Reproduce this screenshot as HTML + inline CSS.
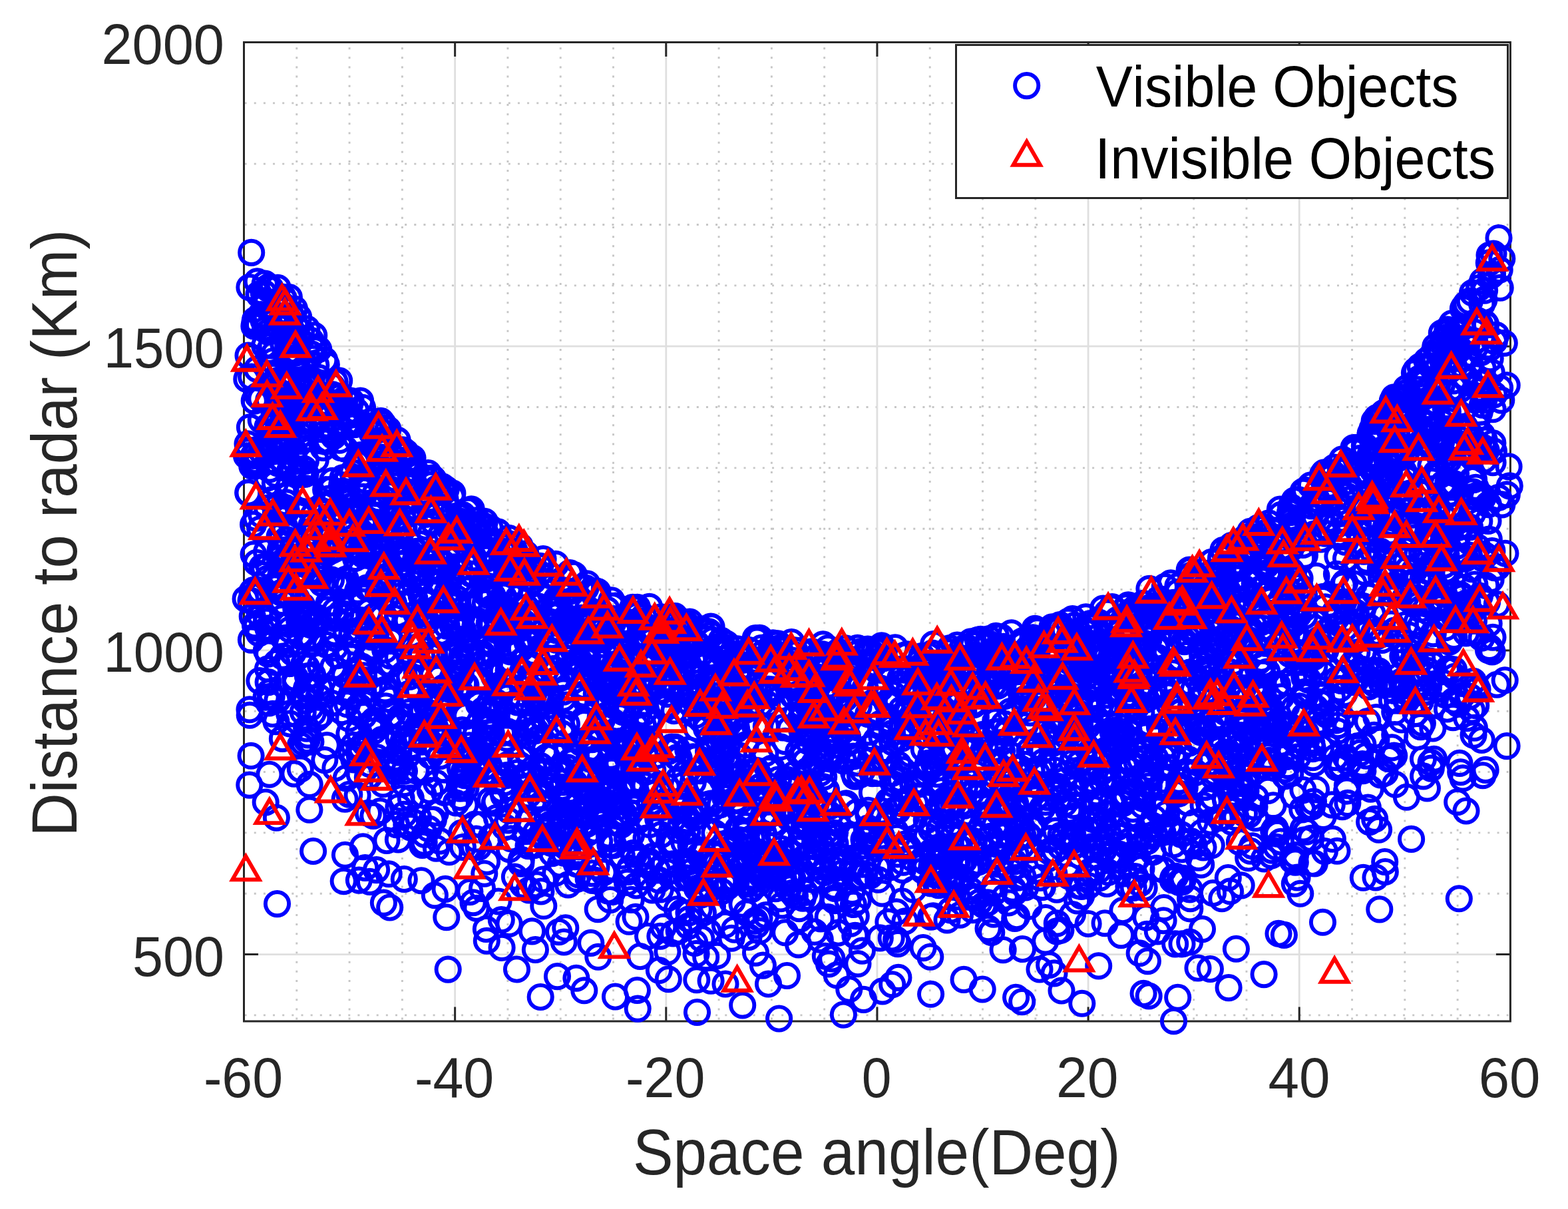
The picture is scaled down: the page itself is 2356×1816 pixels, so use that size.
<!DOCTYPE html>
<html><head><meta charset="utf-8"><title>Scatter</title>
<style>html,body{margin:0;padding:0;background:#fff;overflow:hidden}text{font-kerning:none}svg{display:block}
.b circle{r:17.6px}</style></head>
<body><svg width="2356" height="1816" viewBox="0 0 2356 1816">
<rect width="2356" height="1816" fill="#fff"/>
<path d="M445.79 1534.0V63.5M525.08 1534.0V63.5M604.36 1534.0V63.5M762.94 1534.0V63.5M842.23 1534.0V63.5M921.51 1534.0V63.5M1080.09 1534.0V63.5M1159.38 1534.0V63.5M1238.66 1534.0V63.5M1397.24 1534.0V63.5M1476.53 1534.0V63.5M1555.81 1534.0V63.5M1714.39 1534.0V63.5M1793.67 1534.0V63.5M1872.96 1534.0V63.5M2031.54 1534.0V63.5M2110.82 1534.0V63.5M2190.11 1534.0V63.5" stroke="#c6c6c6" stroke-width="2.9" stroke-dasharray="3 11.15" stroke-dashoffset="-2.4" fill="none"/>
<path d="M366.50 1524.90H2269.40M366.50 1342.23H2269.40M366.50 1250.89H2269.40M366.50 1159.55H2269.40M366.50 1068.21H2269.40M366.50 885.54H2269.40M366.50 794.20H2269.40M366.50 702.86H2269.40M366.50 611.53H2269.40M366.50 428.85H2269.40M366.50 337.51H2269.40M366.50 246.17H2269.40M366.50 154.84H2269.40" stroke="#c6c6c6" stroke-width="2.9" stroke-dasharray="3 11.15" stroke-dashoffset="-1.1" fill="none"/>
<path d="M683.65 1534.0V63.5M1000.80 1534.0V63.5M1317.95 1534.0V63.5M1635.10 1534.0V63.5M1952.25 1534.0V63.5M366.50 1433.56H2269.40M366.50 976.88H2269.40M366.50 520.19H2269.40" stroke="#dfdfdf" stroke-width="2.8" fill="none"/>
<path d="M366.5 63.5H2269.4V1534.0H366.5ZM683.65 1534.0v-20M683.65 63.5v20M1000.80 1534.0v-20M1000.80 63.5v20M1317.95 1534.0v-20M1317.95 63.5v20M1635.10 1534.0v-20M1635.10 63.5v20M1952.25 1534.0v-20M1952.25 63.5v20M366.5 1433.56h20M2269.4 1433.56h-20M366.5 976.88h20M2269.4 976.88h-20M366.5 520.19h20M2269.4 520.19h-20" stroke="#262626" stroke-width="3" fill="none" stroke-linecap="square"/>
<g class="b" fill="none" stroke="#0000ff" stroke-width="5.9"><circle cx="2171.7" cy="942.8" r="17.6"/><circle cx="959.9" cy="1059.0" r="17.6"/><circle cx="418.9" cy="757.8" r="17.6"/><circle cx="1800.4" cy="1095.1" r="17.6"/><circle cx="1133.6" cy="1320.9" r="17.6"/><circle cx="893.4" cy="988.4" r="17.6"/><circle cx="1844.5" cy="887.3" r="17.6"/><circle cx="1372.4" cy="1336.0" r="17.6"/><circle cx="1586.9" cy="1076.8" r="17.6"/><circle cx="521.7" cy="1057.8" r="17.6"/><circle cx="902.9" cy="1025.9" r="17.6"/><circle cx="1488.3" cy="1225.6" r="17.6"/><circle cx="1828.9" cy="1111.0" r="17.6"/><circle cx="1080.4" cy="1233.3" r="17.6"/><circle cx="1090.4" cy="977.8" r="17.6"/><circle cx="2016.9" cy="1211.8" r="17.6"/><circle cx="1631.9" cy="949.8" r="17.6"/><circle cx="1482.6" cy="970.2" r="17.6"/><circle cx="1748.9" cy="917.4" r="17.6"/><circle cx="1066.2" cy="989.5" r="17.6"/><circle cx="575.3" cy="883.2" r="17.6"/><circle cx="753.2" cy="920.8" r="17.6"/><circle cx="1840.6" cy="1069.8" r="17.6"/><circle cx="1811.3" cy="906.0" r="17.6"/><circle cx="1318.6" cy="1265.7" r="17.6"/><circle cx="513.2" cy="766.0" r="17.6"/><circle cx="1366.7" cy="1031.9" r="17.6"/><circle cx="723.9" cy="987.9" r="17.6"/><circle cx="2215.4" cy="1093.3" r="17.6"/><circle cx="865.3" cy="931.1" r="17.6"/><circle cx="416.9" cy="1051.7" r="17.6"/><circle cx="1518.0" cy="1068.5" r="17.6"/><circle cx="1856.0" cy="1109.6" r="17.6"/><circle cx="1452.2" cy="1129.0" r="17.6"/><circle cx="1731.6" cy="910.3" r="17.6"/><circle cx="1882.2" cy="1098.9" r="17.6"/><circle cx="431.3" cy="573.3" r="17.6"/><circle cx="404.2" cy="1055.9" r="17.6"/><circle cx="1938.7" cy="1162.3" r="17.6"/><circle cx="543.5" cy="1000.7" r="17.6"/><circle cx="1642.0" cy="1230.4" r="17.6"/><circle cx="1427.2" cy="973.6" r="17.6"/><circle cx="1546.9" cy="1127.3" r="17.6"/><circle cx="1463.3" cy="1265.5" r="17.6"/><circle cx="704.9" cy="1139.0" r="17.6"/><circle cx="772.1" cy="932.6" r="17.6"/><circle cx="754.5" cy="1187.0" r="17.6"/><circle cx="1100.7" cy="1153.5" r="17.6"/><circle cx="2245.5" cy="852.8" r="17.6"/><circle cx="937.0" cy="1222.0" r="17.6"/><circle cx="690.4" cy="1000.8" r="17.6"/><circle cx="439.8" cy="980.2" r="17.6"/><circle cx="541.0" cy="1005.5" r="17.6"/><circle cx="2253.6" cy="582.7" r="17.6"/><circle cx="1748.8" cy="1363.6" r="17.6"/><circle cx="1203.7" cy="1135.8" r="17.6"/><circle cx="953.2" cy="1204.8" r="17.6"/><circle cx="862.6" cy="863.5" r="17.6"/><circle cx="2108.7" cy="707.6" r="17.6"/><circle cx="1053.8" cy="1081.3" r="17.6"/><circle cx="1117.1" cy="1302.2" r="17.6"/><circle cx="1894.3" cy="819.0" r="17.6"/><circle cx="2090.2" cy="937.5" r="17.6"/><circle cx="2063.3" cy="829.4" r="17.6"/><circle cx="870.6" cy="1202.3" r="17.6"/><circle cx="1378.9" cy="1010.5" r="17.6"/><circle cx="761.3" cy="1108.8" r="17.6"/><circle cx="2135.5" cy="571.7" r="17.6"/><circle cx="686.2" cy="978.0" r="17.6"/><circle cx="526.4" cy="932.3" r="17.6"/><circle cx="1752.9" cy="933.9" r="17.6"/><circle cx="2082.8" cy="746.6" r="17.6"/><circle cx="1727.0" cy="1095.0" r="17.6"/><circle cx="1652.1" cy="1318.6" r="17.6"/><circle cx="508.1" cy="878.9" r="17.6"/><circle cx="537.6" cy="887.2" r="17.6"/><circle cx="1747.1" cy="1136.8" r="17.6"/><circle cx="1050.9" cy="1045.7" r="17.6"/><circle cx="1398.6" cy="1377.3" r="17.6"/><circle cx="1759.5" cy="999.2" r="17.6"/><circle cx="883.9" cy="929.5" r="17.6"/><circle cx="2244.0" cy="381.0" r="17.6"/><circle cx="1678.3" cy="1170.6" r="17.6"/><circle cx="524.0" cy="605.4" r="17.6"/><circle cx="2145.8" cy="612.9" r="17.6"/><circle cx="438.1" cy="612.1" r="17.6"/><circle cx="1189.8" cy="1214.5" r="17.6"/><circle cx="746.3" cy="947.0" r="17.6"/><circle cx="1525.9" cy="1207.4" r="17.6"/><circle cx="552.8" cy="787.8" r="17.6"/><circle cx="2062.2" cy="922.1" r="17.6"/><circle cx="1902.2" cy="799.7" r="17.6"/><circle cx="675.2" cy="793.9" r="17.6"/><circle cx="830.3" cy="1087.7" r="17.6"/><circle cx="916.4" cy="1038.9" r="17.6"/><circle cx="1956.7" cy="1215.9" r="17.6"/><circle cx="1189.7" cy="1262.0" r="17.6"/><circle cx="433.7" cy="527.2" r="17.6"/><circle cx="434.9" cy="996.6" r="17.6"/><circle cx="932.6" cy="1187.7" r="17.6"/><circle cx="686.3" cy="1128.5" r="17.6"/><circle cx="509.2" cy="813.3" r="17.6"/><circle cx="1890.5" cy="792.7" r="17.6"/><circle cx="1014.0" cy="925.5" r="17.6"/><circle cx="576.9" cy="867.0" r="17.6"/><circle cx="575.4" cy="886.3" r="17.6"/><circle cx="734.9" cy="1092.6" r="17.6"/><circle cx="663.7" cy="857.3" r="17.6"/><circle cx="988.7" cy="1230.3" r="17.6"/><circle cx="1102.6" cy="1296.3" r="17.6"/><circle cx="1121.6" cy="1371.3" r="17.6"/><circle cx="573.9" cy="927.3" r="17.6"/><circle cx="2166.5" cy="576.7" r="17.6"/><circle cx="513.6" cy="728.5" r="17.6"/><circle cx="1015.8" cy="980.3" r="17.6"/><circle cx="1519.4" cy="1167.5" r="17.6"/><circle cx="1988.4" cy="896.4" r="17.6"/><circle cx="1065.9" cy="1048.5" r="17.6"/><circle cx="2130.9" cy="699.1" r="17.6"/><circle cx="1499.3" cy="1030.3" r="17.6"/><circle cx="1619.7" cy="1112.8" r="17.6"/><circle cx="2007.1" cy="746.8" r="17.6"/><circle cx="2239.2" cy="538.6" r="17.6"/><circle cx="2042.9" cy="1013.7" r="17.6"/><circle cx="1247.7" cy="1109.3" r="17.6"/><circle cx="1863.1" cy="958.9" r="17.6"/><circle cx="614.1" cy="753.3" r="17.6"/><circle cx="1498.9" cy="982.7" r="17.6"/><circle cx="1463.7" cy="1124.8" r="17.6"/><circle cx="2051.3" cy="714.1" r="17.6"/><circle cx="947.5" cy="935.0" r="17.6"/><circle cx="1029.1" cy="960.8" r="17.6"/><circle cx="627.8" cy="1090.8" r="17.6"/><circle cx="909.0" cy="1057.0" r="17.6"/><circle cx="2182.8" cy="740.7" r="17.6"/><circle cx="1942.0" cy="920.7" r="17.6"/><circle cx="2175.9" cy="856.3" r="17.6"/><circle cx="846.3" cy="1049.0" r="17.6"/><circle cx="1426.3" cy="979.4" r="17.6"/><circle cx="1829.2" cy="896.9" r="17.6"/><circle cx="1404.0" cy="1047.9" r="17.6"/><circle cx="1664.3" cy="1044.2" r="17.6"/><circle cx="812.7" cy="1048.1" r="17.6"/><circle cx="1650.3" cy="969.8" r="17.6"/><circle cx="466.7" cy="925.0" r="17.6"/><circle cx="2268.3" cy="729.9" r="17.6"/><circle cx="1120.3" cy="1118.7" r="17.6"/><circle cx="673.8" cy="906.4" r="17.6"/><circle cx="1053.9" cy="981.1" r="17.6"/><circle cx="1996.7" cy="728.6" r="17.6"/><circle cx="761.9" cy="966.2" r="17.6"/><circle cx="1242.1" cy="1048.2" r="17.6"/><circle cx="1100.9" cy="1191.2" r="17.6"/><circle cx="1940.3" cy="857.9" r="17.6"/><circle cx="2180.2" cy="958.5" r="17.6"/><circle cx="1526.8" cy="1179.4" r="17.6"/><circle cx="1282.8" cy="1160.4" r="17.6"/><circle cx="1422.0" cy="1055.0" r="17.6"/><circle cx="2191.5" cy="792.2" r="17.6"/><circle cx="1938.3" cy="982.8" r="17.6"/><circle cx="940.6" cy="956.2" r="17.6"/><circle cx="764.9" cy="1217.5" r="17.6"/><circle cx="1287.4" cy="1220.1" r="17.6"/><circle cx="1650.3" cy="969.1" r="17.6"/><circle cx="464.7" cy="800.1" r="17.6"/><circle cx="1092.9" cy="996.4" r="17.6"/><circle cx="646.7" cy="924.2" r="17.6"/><circle cx="735.1" cy="860.7" r="17.6"/><circle cx="525.4" cy="621.8" r="17.6"/><circle cx="1284.8" cy="1405.2" r="17.6"/><circle cx="541.6" cy="1024.5" r="17.6"/><circle cx="1580.2" cy="1065.5" r="17.6"/><circle cx="800.3" cy="1120.4" r="17.6"/><circle cx="405.1" cy="526.2" r="17.6"/><circle cx="2167.4" cy="635.2" r="17.6"/><circle cx="1665.5" cy="1310.3" r="17.6"/><circle cx="1862.8" cy="914.7" r="17.6"/><circle cx="506.2" cy="595.0" r="17.6"/><circle cx="1358.2" cy="1074.2" r="17.6"/><circle cx="533.9" cy="826.5" r="17.6"/><circle cx="1426.3" cy="1051.3" r="17.6"/><circle cx="633.1" cy="894.7" r="17.6"/><circle cx="1038.0" cy="1270.2" r="17.6"/><circle cx="1666.2" cy="1175.0" r="17.6"/><circle cx="1499.7" cy="1015.3" r="17.6"/><circle cx="1798.7" cy="881.6" r="17.6"/><circle cx="1084.0" cy="1339.0" r="17.6"/><circle cx="2195.5" cy="836.3" r="17.6"/><circle cx="693.9" cy="925.5" r="17.6"/><circle cx="1107.6" cy="1032.1" r="17.6"/><circle cx="370.8" cy="569.4" r="17.6"/><circle cx="2030.9" cy="749.4" r="17.6"/><circle cx="1415.7" cy="1136.3" r="17.6"/><circle cx="501.6" cy="649.2" r="17.6"/><circle cx="2090.7" cy="683.8" r="17.6"/><circle cx="1737.1" cy="973.9" r="17.6"/><circle cx="801.5" cy="943.7" r="17.6"/><circle cx="816.1" cy="839.6" r="17.6"/><circle cx="1605.8" cy="1216.9" r="17.6"/><circle cx="565.0" cy="823.3" r="17.6"/><circle cx="963.1" cy="1115.1" r="17.6"/><circle cx="1241.4" cy="1046.9" r="17.6"/><circle cx="424.0" cy="928.5" r="17.6"/><circle cx="931.7" cy="1211.8" r="17.6"/><circle cx="2037.9" cy="1021.1" r="17.6"/><circle cx="1599.0" cy="1258.4" r="17.6"/><circle cx="568.3" cy="891.7" r="17.6"/><circle cx="755.4" cy="916.7" r="17.6"/><circle cx="2170.6" cy="823.9" r="17.6"/><circle cx="839.4" cy="906.9" r="17.6"/><circle cx="794.8" cy="1337.0" r="17.6"/><circle cx="1991.3" cy="790.6" r="17.6"/><circle cx="998.4" cy="1297.1" r="17.6"/><circle cx="669.0" cy="1089.0" r="17.6"/><circle cx="401.5" cy="869.4" r="17.6"/><circle cx="556.2" cy="834.2" r="17.6"/><circle cx="730.1" cy="890.7" r="17.6"/><circle cx="1932.9" cy="1060.7" r="17.6"/><circle cx="1150.2" cy="1186.8" r="17.6"/><circle cx="1859.3" cy="881.3" r="17.6"/><circle cx="1447.8" cy="1117.8" r="17.6"/><circle cx="2095.5" cy="947.1" r="17.6"/><circle cx="2103.7" cy="960.6" r="17.6"/><circle cx="1727.4" cy="915.3" r="17.6"/><circle cx="458.6" cy="918.9" r="17.6"/><circle cx="607.0" cy="1012.3" r="17.6"/><circle cx="467.9" cy="789.6" r="17.6"/><circle cx="1671.7" cy="1280.6" r="17.6"/><circle cx="811.1" cy="1197.1" r="17.6"/><circle cx="1744.0" cy="1214.7" r="17.6"/><circle cx="903.1" cy="936.5" r="17.6"/><circle cx="2192.5" cy="666.5" r="17.6"/><circle cx="640.1" cy="905.1" r="17.6"/><circle cx="2222.3" cy="742.5" r="17.6"/><circle cx="595.1" cy="719.4" r="17.6"/><circle cx="1510.5" cy="1183.2" r="17.6"/><circle cx="1151.3" cy="1091.1" r="17.6"/><circle cx="654.5" cy="855.1" r="17.6"/><circle cx="698.3" cy="1164.7" r="17.6"/><circle cx="490.4" cy="547.7" r="17.6"/><circle cx="1236.0" cy="982.8" r="17.6"/><circle cx="2155.2" cy="653.7" r="17.6"/><circle cx="1969.9" cy="1259.3" r="17.6"/><circle cx="980.5" cy="1120.1" r="17.6"/><circle cx="1675.6" cy="982.0" r="17.6"/><circle cx="1470.1" cy="976.2" r="17.6"/><circle cx="414.2" cy="770.9" r="17.6"/><circle cx="791.2" cy="1181.0" r="17.6"/><circle cx="617.7" cy="1104.8" r="17.6"/><circle cx="1620.2" cy="949.9" r="17.6"/><circle cx="816.8" cy="1257.1" r="17.6"/><circle cx="1907.9" cy="1062.5" r="17.6"/><circle cx="1372.1" cy="1010.7" r="17.6"/><circle cx="384.3" cy="691.3" r="17.6"/><circle cx="993.2" cy="1253.9" r="17.6"/><circle cx="891.6" cy="1225.8" r="17.6"/><circle cx="1639.2" cy="1159.0" r="17.6"/><circle cx="1075.2" cy="1072.2" r="17.6"/><circle cx="1345.2" cy="1248.5" r="17.6"/><circle cx="2177.8" cy="964.1" r="17.6"/><circle cx="1917.0" cy="1094.2" r="17.6"/><circle cx="1368.2" cy="1132.7" r="17.6"/><circle cx="2107.8" cy="985.4" r="17.6"/><circle cx="651.3" cy="784.1" r="17.6"/><circle cx="1798.2" cy="907.8" r="17.6"/><circle cx="1434.0" cy="1124.3" r="17.6"/><circle cx="1618.6" cy="1352.9" r="17.6"/><circle cx="601.2" cy="813.2" r="17.6"/><circle cx="842.2" cy="1223.6" r="17.6"/><circle cx="1047.2" cy="1334.2" r="17.6"/><circle cx="1481.3" cy="1243.7" r="17.6"/><circle cx="852.7" cy="1152.9" r="17.6"/><circle cx="1340.6" cy="1056.7" r="17.6"/><circle cx="1232.8" cy="1129.9" r="17.6"/><circle cx="1448.5" cy="1293.0" r="17.6"/><circle cx="1108.4" cy="974.8" r="17.6"/><circle cx="1084.6" cy="1096.1" r="17.6"/><circle cx="1304.6" cy="1072.6" r="17.6"/><circle cx="1228.7" cy="1250.3" r="17.6"/><circle cx="1883.4" cy="938.5" r="17.6"/><circle cx="2184.6" cy="582.0" r="17.6"/><circle cx="1913.1" cy="1209.7" r="17.6"/><circle cx="1860.9" cy="1176.8" r="17.6"/><circle cx="2213.8" cy="1023.2" r="17.6"/><circle cx="1804.0" cy="1099.9" r="17.6"/><circle cx="2075.6" cy="1024.8" r="17.6"/><circle cx="2051.5" cy="672.6" r="17.6"/><circle cx="618.0" cy="696.6" r="17.6"/><circle cx="1083.6" cy="962.0" r="17.6"/><circle cx="912.5" cy="1011.2" r="17.6"/><circle cx="1474.9" cy="1042.3" r="17.6"/><circle cx="1185.2" cy="1002.0" r="17.6"/><circle cx="2081.7" cy="715.0" r="17.6"/><circle cx="1713.8" cy="917.7" r="17.6"/><circle cx="2220.0" cy="822.0" r="17.6"/><circle cx="1972.4" cy="1137.8" r="17.6"/><circle cx="1426.1" cy="1251.9" r="17.6"/><circle cx="1754.9" cy="965.0" r="17.6"/><circle cx="793.9" cy="1193.9" r="17.6"/><circle cx="1356.3" cy="1306.7" r="17.6"/><circle cx="497.8" cy="735.2" r="17.6"/><circle cx="454.1" cy="909.7" r="17.6"/><circle cx="2065.1" cy="749.2" r="17.6"/><circle cx="828.4" cy="1266.5" r="17.6"/><circle cx="1489.8" cy="1400.5" r="17.6"/><circle cx="2045.7" cy="1005.1" r="17.6"/><circle cx="1241.6" cy="1186.8" r="17.6"/><circle cx="1776.3" cy="1324.8" r="17.6"/><circle cx="501.2" cy="655.1" r="17.6"/><circle cx="581.6" cy="810.5" r="17.6"/><circle cx="588.5" cy="1141.6" r="17.6"/><circle cx="919.1" cy="1158.4" r="17.6"/><circle cx="418.1" cy="667.1" r="17.6"/><circle cx="1239.0" cy="1310.4" r="17.6"/><circle cx="1052.8" cy="1332.6" r="17.6"/><circle cx="1100.2" cy="1353.9" r="17.6"/><circle cx="443.1" cy="692.6" r="17.6"/><circle cx="525.8" cy="606.7" r="17.6"/><circle cx="2185.0" cy="726.6" r="17.6"/><circle cx="2001.5" cy="1047.7" r="17.6"/><circle cx="1981.5" cy="1083.1" r="17.6"/><circle cx="2181.4" cy="521.8" r="17.6"/><circle cx="1413.9" cy="1175.4" r="17.6"/><circle cx="2108.4" cy="747.3" r="17.6"/><circle cx="418.3" cy="630.3" r="17.6"/><circle cx="1358.8" cy="984.2" r="17.6"/><circle cx="1803.1" cy="1111.7" r="17.6"/><circle cx="811.0" cy="851.3" r="17.6"/><circle cx="546.0" cy="1039.8" r="17.6"/><circle cx="1199.6" cy="1129.6" r="17.6"/><circle cx="572.8" cy="846.5" r="17.6"/><circle cx="1121.2" cy="1066.2" r="17.6"/><circle cx="539.8" cy="693.9" r="17.6"/><circle cx="775.5" cy="862.8" r="17.6"/><circle cx="863.4" cy="1176.0" r="17.6"/><circle cx="983.2" cy="946.6" r="17.6"/><circle cx="1664.1" cy="1263.4" r="17.6"/><circle cx="1958.1" cy="1244.8" r="17.6"/><circle cx="1869.6" cy="1095.1" r="17.6"/><circle cx="434.1" cy="652.8" r="17.6"/><circle cx="1638.8" cy="1049.9" r="17.6"/><circle cx="2040.7" cy="786.5" r="17.6"/><circle cx="615.4" cy="708.1" r="17.6"/><circle cx="706.3" cy="828.2" r="17.6"/><circle cx="1005.2" cy="1019.3" r="17.6"/><circle cx="1690.6" cy="1123.5" r="17.6"/><circle cx="1423.6" cy="1020.7" r="17.6"/><circle cx="1245.2" cy="1130.2" r="17.6"/><circle cx="2061.1" cy="739.6" r="17.6"/><circle cx="1800.9" cy="1288.3" r="17.6"/><circle cx="2217.5" cy="1030.2" r="17.6"/><circle cx="948.7" cy="1254.3" r="17.6"/><circle cx="466.4" cy="1063.2" r="17.6"/><circle cx="495.1" cy="1034.6" r="17.6"/><circle cx="1091.3" cy="1293.9" r="17.6"/><circle cx="2009.9" cy="835.8" r="17.6"/><circle cx="2159.6" cy="763.1" r="17.6"/><circle cx="1560.1" cy="969.1" r="17.6"/><circle cx="1924.8" cy="773.4" r="17.6"/><circle cx="458.7" cy="843.2" r="17.6"/><circle cx="2095.6" cy="676.1" r="17.6"/><circle cx="1092.6" cy="1079.5" r="17.6"/><circle cx="574.4" cy="819.1" r="17.6"/><circle cx="944.9" cy="1109.5" r="17.6"/><circle cx="1316.0" cy="1274.5" r="17.6"/><circle cx="1134.5" cy="1383.1" r="17.6"/><circle cx="1454.4" cy="1305.2" r="17.6"/><circle cx="1732.4" cy="1279.6" r="17.6"/><circle cx="1202.7" cy="1306.0" r="17.6"/><circle cx="1868.1" cy="1033.6" r="17.6"/><circle cx="2117.3" cy="661.1" r="17.6"/><circle cx="679.1" cy="746.1" r="17.6"/><circle cx="455.6" cy="633.0" r="17.6"/><circle cx="1789.5" cy="1061.7" r="17.6"/><circle cx="414.9" cy="1083.7" r="17.6"/><circle cx="2065.2" cy="1027.4" r="17.6"/><circle cx="778.6" cy="945.8" r="17.6"/><circle cx="618.7" cy="723.8" r="17.6"/><circle cx="1147.3" cy="980.5" r="17.6"/><circle cx="1865.9" cy="1010.8" r="17.6"/><circle cx="510.7" cy="768.8" r="17.6"/><circle cx="2111.6" cy="938.7" r="17.6"/><circle cx="1137.5" cy="962.2" r="17.6"/><circle cx="1298.0" cy="1261.0" r="17.6"/><circle cx="434.9" cy="506.0" r="17.6"/><circle cx="1324.9" cy="1106.5" r="17.6"/><circle cx="1407.4" cy="1091.2" r="17.6"/><circle cx="744.0" cy="1162.2" r="17.6"/><circle cx="668.6" cy="1156.3" r="17.6"/><circle cx="703.7" cy="794.6" r="17.6"/><circle cx="1314.2" cy="976.2" r="17.6"/><circle cx="1800.4" cy="1146.1" r="17.6"/><circle cx="763.2" cy="1232.0" r="17.6"/><circle cx="957.6" cy="1118.7" r="17.6"/><circle cx="2180.9" cy="915.6" r="17.6"/><circle cx="1741.6" cy="899.4" r="17.6"/><circle cx="1863.5" cy="1039.2" r="17.6"/><circle cx="1226.0" cy="1207.8" r="17.6"/><circle cx="1654.7" cy="1266.8" r="17.6"/><circle cx="655.7" cy="1176.1" r="17.6"/><circle cx="424.6" cy="986.1" r="17.6"/><circle cx="1787.8" cy="1364.9" r="17.6"/><circle cx="1704.8" cy="1177.5" r="17.6"/><circle cx="430.8" cy="674.7" r="17.6"/><circle cx="2158.7" cy="582.0" r="17.6"/><circle cx="520.2" cy="949.4" r="17.6"/><circle cx="1420.2" cy="1020.2" r="17.6"/><circle cx="2166.2" cy="579.1" r="17.6"/><circle cx="461.0" cy="1111.4" r="17.6"/><circle cx="422.3" cy="771.7" r="17.6"/><circle cx="807.2" cy="910.5" r="17.6"/><circle cx="792.1" cy="964.9" r="17.6"/><circle cx="534.3" cy="838.3" r="17.6"/><circle cx="575.6" cy="636.7" r="17.6"/><circle cx="539.6" cy="1125.9" r="17.6"/><circle cx="1647.6" cy="1190.6" r="17.6"/><circle cx="784.9" cy="1009.9" r="17.6"/><circle cx="1257.8" cy="1047.1" r="17.6"/><circle cx="729.2" cy="1138.4" r="17.6"/><circle cx="2151.1" cy="666.6" r="17.6"/><circle cx="2071.5" cy="1007.9" r="17.6"/><circle cx="765.4" cy="818.3" r="17.6"/><circle cx="2122.3" cy="802.2" r="17.6"/><circle cx="877.9" cy="1030.7" r="17.6"/><circle cx="551.6" cy="882.9" r="17.6"/><circle cx="902.0" cy="1043.1" r="17.6"/><circle cx="1905.5" cy="1187.5" r="17.6"/><circle cx="1667.4" cy="1222.6" r="17.6"/><circle cx="547.6" cy="1116.0" r="17.6"/><circle cx="1404.0" cy="1001.6" r="17.6"/><circle cx="1504.4" cy="1307.1" r="17.6"/><circle cx="1652.2" cy="1066.4" r="17.6"/><circle cx="915.8" cy="1012.8" r="17.6"/><circle cx="1610.2" cy="1089.3" r="17.6"/><circle cx="1722.0" cy="1174.1" r="17.6"/><circle cx="1845.4" cy="984.8" r="17.6"/><circle cx="520.0" cy="637.2" r="17.6"/><circle cx="426.0" cy="517.3" r="17.6"/><circle cx="617.2" cy="763.5" r="17.6"/><circle cx="1719.2" cy="1333.6" r="17.6"/><circle cx="2181.7" cy="485.7" r="17.6"/><circle cx="837.0" cy="1247.6" r="17.6"/><circle cx="863.1" cy="943.6" r="17.6"/><circle cx="419.4" cy="492.4" r="17.6"/><circle cx="626.3" cy="1010.3" r="17.6"/><circle cx="441.7" cy="679.8" r="17.6"/><circle cx="580.0" cy="806.0" r="17.6"/><circle cx="2045.3" cy="727.8" r="17.6"/><circle cx="597.9" cy="987.4" r="17.6"/><circle cx="2081.4" cy="923.5" r="17.6"/><circle cx="2189.6" cy="841.6" r="17.6"/><circle cx="1169.1" cy="966.9" r="17.6"/><circle cx="1927.1" cy="923.4" r="17.6"/><circle cx="1735.0" cy="1075.3" r="17.6"/><circle cx="452.1" cy="644.7" r="17.6"/><circle cx="1748.7" cy="1171.3" r="17.6"/><circle cx="409.1" cy="561.3" r="17.6"/><circle cx="1517.6" cy="1219.1" r="17.6"/><circle cx="2109.8" cy="596.7" r="17.6"/><circle cx="1068.2" cy="1207.0" r="17.6"/><circle cx="1445.4" cy="1092.4" r="17.6"/><circle cx="646.3" cy="1083.5" r="17.6"/><circle cx="2254.2" cy="432.3" r="17.6"/><circle cx="638.5" cy="928.1" r="17.6"/><circle cx="1622.7" cy="1089.2" r="17.6"/><circle cx="2063.2" cy="706.8" r="17.6"/><circle cx="1904.4" cy="845.5" r="17.6"/><circle cx="1896.9" cy="943.6" r="17.6"/><circle cx="590.1" cy="695.1" r="17.6"/><circle cx="432.8" cy="967.7" r="17.6"/><circle cx="673.8" cy="898.4" r="17.6"/><circle cx="1009.0" cy="984.0" r="17.6"/><circle cx="452.1" cy="662.8" r="17.6"/><circle cx="1856.9" cy="854.4" r="17.6"/><circle cx="1495.7" cy="1083.9" r="17.6"/><circle cx="1577.0" cy="1260.9" r="17.6"/><circle cx="1122.4" cy="1249.3" r="17.6"/><circle cx="658.6" cy="762.2" r="17.6"/><circle cx="1744.0" cy="1152.9" r="17.6"/><circle cx="1819.4" cy="876.8" r="17.6"/><circle cx="2020.0" cy="1041.6" r="17.6"/><circle cx="1337.6" cy="1302.7" r="17.6"/><circle cx="381.2" cy="886.2" r="17.6"/><circle cx="578.8" cy="794.5" r="17.6"/><circle cx="1734.6" cy="1015.9" r="17.6"/><circle cx="1560.5" cy="1036.3" r="17.6"/><circle cx="1066.4" cy="983.7" r="17.6"/><circle cx="1233.1" cy="1065.8" r="17.6"/><circle cx="381.9" cy="490.0" r="17.6"/><circle cx="2173.5" cy="744.2" r="17.6"/><circle cx="1556.7" cy="1307.1" r="17.6"/><circle cx="1442.6" cy="1374.2" r="17.6"/><circle cx="1990.4" cy="1278.6" r="17.6"/><circle cx="889.4" cy="887.9" r="17.6"/><circle cx="1619.1" cy="1022.6" r="17.6"/><circle cx="1360.0" cy="1383.9" r="17.6"/><circle cx="1933.2" cy="1136.5" r="17.6"/><circle cx="1709.1" cy="929.6" r="17.6"/><circle cx="527.3" cy="633.9" r="17.6"/><circle cx="458.2" cy="578.5" r="17.6"/><circle cx="877.7" cy="1042.2" r="17.6"/><circle cx="2184.5" cy="1005.9" r="17.6"/><circle cx="2198.9" cy="509.5" r="17.6"/><circle cx="1592.7" cy="938.6" r="17.6"/><circle cx="2039.1" cy="672.5" r="17.6"/><circle cx="1086.5" cy="1280.9" r="17.6"/><circle cx="972.9" cy="1019.1" r="17.6"/><circle cx="1932.9" cy="956.9" r="17.6"/><circle cx="2200.6" cy="882.2" r="17.6"/><circle cx="1500.1" cy="1046.4" r="17.6"/><circle cx="783.7" cy="1168.5" r="17.6"/><circle cx="992.3" cy="1335.9" r="17.6"/><circle cx="2069.0" cy="627.3" r="17.6"/><circle cx="647.4" cy="985.6" r="17.6"/><circle cx="1455.0" cy="1260.4" r="17.6"/><circle cx="2074.4" cy="1164.0" r="17.6"/><circle cx="1839.7" cy="1026.2" r="17.6"/><circle cx="2105.6" cy="1081.0" r="17.6"/><circle cx="644.2" cy="1244.8" r="17.6"/><circle cx="1614.9" cy="939.4" r="17.6"/><circle cx="499.4" cy="592.6" r="17.6"/><circle cx="2261.9" cy="831.2" r="17.6"/><circle cx="930.0" cy="1236.8" r="17.6"/><circle cx="450.2" cy="774.0" r="17.6"/><circle cx="897.9" cy="1096.6" r="17.6"/><circle cx="703.6" cy="938.1" r="17.6"/><circle cx="408.2" cy="1045.9" r="17.6"/><circle cx="670.2" cy="734.9" r="17.6"/><circle cx="2091.5" cy="1122.9" r="17.6"/><circle cx="1403.6" cy="1313.5" r="17.6"/><circle cx="591.7" cy="907.2" r="17.6"/><circle cx="946.9" cy="1220.8" r="17.6"/><circle cx="1998.1" cy="779.8" r="17.6"/><circle cx="1771.1" cy="933.2" r="17.6"/><circle cx="2236.3" cy="757.7" r="17.6"/><circle cx="1672.1" cy="1099.6" r="17.6"/><circle cx="1945.1" cy="880.2" r="17.6"/><circle cx="1521.9" cy="996.9" r="17.6"/><circle cx="639.9" cy="906.2" r="17.6"/><circle cx="1986.6" cy="898.6" r="17.6"/><circle cx="823.3" cy="1186.9" r="17.6"/><circle cx="1267.5" cy="1083.6" r="17.6"/><circle cx="1974.9" cy="802.0" r="17.6"/><circle cx="1848.5" cy="850.2" r="17.6"/><circle cx="549.8" cy="806.6" r="17.6"/><circle cx="615.0" cy="829.0" r="17.6"/><circle cx="920.7" cy="1189.3" r="17.6"/><circle cx="412.8" cy="878.8" r="17.6"/><circle cx="1608.6" cy="1094.5" r="17.6"/><circle cx="1544.7" cy="974.1" r="17.6"/><circle cx="1323.0" cy="1006.5" r="17.6"/><circle cx="974.2" cy="1079.4" r="17.6"/><circle cx="883.3" cy="956.8" r="17.6"/><circle cx="650.0" cy="1015.1" r="17.6"/><circle cx="1592.1" cy="1055.6" r="17.6"/><circle cx="1454.5" cy="1011.9" r="17.6"/><circle cx="2127.0" cy="1071.3" r="17.6"/><circle cx="440.3" cy="508.7" r="17.6"/><circle cx="932.0" cy="977.2" r="17.6"/><circle cx="1169.5" cy="1171.0" r="17.6"/><circle cx="571.1" cy="848.5" r="17.6"/><circle cx="2231.6" cy="834.4" r="17.6"/><circle cx="919.6" cy="1260.0" r="17.6"/><circle cx="1400.4" cy="1076.4" r="17.6"/><circle cx="1510.1" cy="1347.1" r="17.6"/><circle cx="1828.4" cy="1060.0" r="17.6"/><circle cx="2048.1" cy="913.3" r="17.6"/><circle cx="2039.8" cy="1120.7" r="17.6"/><circle cx="421.5" cy="765.3" r="17.6"/><circle cx="1890.5" cy="994.3" r="17.6"/><circle cx="426.8" cy="696.8" r="17.6"/><circle cx="1141.2" cy="1041.0" r="17.6"/><circle cx="567.0" cy="1119.0" r="17.6"/><circle cx="1461.7" cy="1346.4" r="17.6"/><circle cx="1706.3" cy="924.0" r="17.6"/><circle cx="1872.0" cy="1188.2" r="17.6"/><circle cx="1245.2" cy="1111.4" r="17.6"/><circle cx="1780.8" cy="912.0" r="17.6"/><circle cx="961.3" cy="1209.2" r="17.6"/><circle cx="1050.2" cy="1365.8" r="17.6"/><circle cx="483.0" cy="644.7" r="17.6"/><circle cx="1492.4" cy="1028.9" r="17.6"/><circle cx="412.6" cy="883.1" r="17.6"/><circle cx="1029.6" cy="1035.9" r="17.6"/><circle cx="1480.7" cy="986.5" r="17.6"/><circle cx="531.6" cy="1119.3" r="17.6"/><circle cx="849.5" cy="935.3" r="17.6"/><circle cx="1715.0" cy="1304.7" r="17.6"/><circle cx="1864.3" cy="1104.5" r="17.6"/><circle cx="1973.5" cy="1204.1" r="17.6"/><circle cx="1793.4" cy="1036.7" r="17.6"/><circle cx="1601.6" cy="1056.7" r="17.6"/><circle cx="1172.8" cy="1349.8" r="17.6"/><circle cx="1695.9" cy="961.1" r="17.6"/><circle cx="1934.6" cy="1149.6" r="17.6"/><circle cx="1795.1" cy="1235.3" r="17.6"/><circle cx="1185.4" cy="1280.4" r="17.6"/><circle cx="967.3" cy="1070.9" r="17.6"/><circle cx="816.3" cy="1321.0" r="17.6"/><circle cx="1841.1" cy="912.0" r="17.6"/><circle cx="412.7" cy="530.6" r="17.6"/><circle cx="1969.6" cy="728.9" r="17.6"/><circle cx="2188.7" cy="820.1" r="17.6"/><circle cx="1808.1" cy="1100.8" r="17.6"/><circle cx="478.7" cy="524.8" r="17.6"/><circle cx="1246.6" cy="1028.7" r="17.6"/><circle cx="1336.1" cy="1081.7" r="17.6"/><circle cx="1237.4" cy="1181.9" r="17.6"/><circle cx="932.3" cy="1113.3" r="17.6"/><circle cx="444.1" cy="530.3" r="17.6"/><circle cx="880.1" cy="883.2" r="17.6"/><circle cx="936.6" cy="1091.5" r="17.6"/><circle cx="1533.2" cy="991.8" r="17.6"/><circle cx="1779.6" cy="963.6" r="17.6"/><circle cx="1237.7" cy="1167.0" r="17.6"/><circle cx="512.8" cy="768.3" r="17.6"/><circle cx="1997.9" cy="740.8" r="17.6"/><circle cx="1077.0" cy="1295.8" r="17.6"/><circle cx="1225.7" cy="1272.0" r="17.6"/><circle cx="980.7" cy="1156.7" r="17.6"/><circle cx="585.0" cy="803.5" r="17.6"/><circle cx="2185.4" cy="513.6" r="17.6"/><circle cx="1172.6" cy="1121.8" r="17.6"/><circle cx="1822.2" cy="1197.6" r="17.6"/><circle cx="1161.4" cy="965.7" r="17.6"/><circle cx="1037.0" cy="1319.5" r="17.6"/><circle cx="1152.9" cy="1204.5" r="17.6"/><circle cx="1712.9" cy="979.3" r="17.6"/><circle cx="1744.4" cy="1099.7" r="17.6"/><circle cx="1782.1" cy="1159.3" r="17.6"/><circle cx="2230.4" cy="594.2" r="17.6"/><circle cx="1392.9" cy="1074.6" r="17.6"/><circle cx="1524.7" cy="1379.5" r="17.6"/><circle cx="774.5" cy="910.1" r="17.6"/><circle cx="1706.5" cy="912.9" r="17.6"/><circle cx="1769.5" cy="1094.5" r="17.6"/><circle cx="2220.0" cy="488.9" r="17.6"/><circle cx="700.6" cy="1075.7" r="17.6"/><circle cx="1659.0" cy="1103.0" r="17.6"/><circle cx="1139.3" cy="1279.8" r="17.6"/><circle cx="2098.7" cy="885.2" r="17.6"/><circle cx="1825.7" cy="1160.6" r="17.6"/><circle cx="789.8" cy="831.9" r="17.6"/><circle cx="2226.7" cy="653.1" r="17.6"/><circle cx="1358.0" cy="1006.2" r="17.6"/><circle cx="457.7" cy="832.0" r="17.6"/><circle cx="1846.9" cy="1137.3" r="17.6"/><circle cx="2054.2" cy="841.1" r="17.6"/><circle cx="1769.8" cy="880.6" r="17.6"/><circle cx="1334.9" cy="1384.9" r="17.6"/><circle cx="1599.4" cy="946.6" r="17.6"/><circle cx="590.8" cy="739.5" r="17.6"/><circle cx="532.6" cy="758.5" r="17.6"/><circle cx="564.2" cy="741.0" r="17.6"/><circle cx="2202.1" cy="916.9" r="17.6"/><circle cx="632.4" cy="1067.1" r="17.6"/><circle cx="679.9" cy="938.9" r="17.6"/><circle cx="1616.6" cy="1031.6" r="17.6"/><circle cx="932.9" cy="1183.4" r="17.6"/><circle cx="1133.7" cy="1193.9" r="17.6"/><circle cx="940.3" cy="967.4" r="17.6"/><circle cx="852.3" cy="1128.8" r="17.6"/><circle cx="2037.4" cy="920.0" r="17.6"/><circle cx="1129.4" cy="1259.3" r="17.6"/><circle cx="640.4" cy="791.4" r="17.6"/><circle cx="1558.6" cy="948.0" r="17.6"/><circle cx="874.8" cy="1221.5" r="17.6"/><circle cx="1504.3" cy="1289.2" r="17.6"/><circle cx="778.5" cy="846.9" r="17.6"/><circle cx="658.3" cy="855.2" r="17.6"/><circle cx="1783.9" cy="958.4" r="17.6"/><circle cx="554.1" cy="918.5" r="17.6"/><circle cx="1077.1" cy="994.4" r="17.6"/><circle cx="2228.3" cy="747.2" r="17.6"/><circle cx="1405.8" cy="1309.8" r="17.6"/><circle cx="829.0" cy="954.2" r="17.6"/><circle cx="432.9" cy="636.9" r="17.6"/><circle cx="1691.7" cy="1193.9" r="17.6"/><circle cx="1957.9" cy="1186.6" r="17.6"/><circle cx="1223.8" cy="1399.8" r="17.6"/><circle cx="456.2" cy="929.7" r="17.6"/><circle cx="1099.0" cy="999.3" r="17.6"/><circle cx="1247.2" cy="1223.8" r="17.6"/><circle cx="730.9" cy="839.4" r="17.6"/><circle cx="456.7" cy="704.2" r="17.6"/><circle cx="1644.1" cy="1002.9" r="17.6"/><circle cx="1322.8" cy="1033.7" r="17.6"/><circle cx="2087.0" cy="820.9" r="17.6"/><circle cx="1481.3" cy="1039.3" r="17.6"/><circle cx="665.7" cy="1113.2" r="17.6"/><circle cx="1942.2" cy="913.3" r="17.6"/><circle cx="1674.0" cy="1112.5" r="17.6"/><circle cx="1618.2" cy="1225.1" r="17.6"/><circle cx="2227.4" cy="608.1" r="17.6"/><circle cx="902.1" cy="1078.2" r="17.6"/><circle cx="1850.1" cy="1162.2" r="17.6"/><circle cx="2123.4" cy="622.1" r="17.6"/><circle cx="1062.9" cy="1176.4" r="17.6"/><circle cx="1318.3" cy="1302.7" r="17.6"/><circle cx="1750.8" cy="1035.1" r="17.6"/><circle cx="1850.7" cy="1234.5" r="17.6"/><circle cx="590.6" cy="832.2" r="17.6"/><circle cx="412.0" cy="622.4" r="17.6"/><circle cx="2065.1" cy="632.6" r="17.6"/><circle cx="928.2" cy="1196.4" r="17.6"/><circle cx="2065.8" cy="889.8" r="17.6"/><circle cx="2166.5" cy="900.7" r="17.6"/><circle cx="1472.8" cy="1273.1" r="17.6"/><circle cx="1649.1" cy="978.3" r="17.6"/><circle cx="951.4" cy="1213.9" r="17.6"/><circle cx="671.3" cy="830.3" r="17.6"/><circle cx="1589.4" cy="1077.5" r="17.6"/><circle cx="547.4" cy="818.4" r="17.6"/><circle cx="440.2" cy="786.1" r="17.6"/><circle cx="2067.9" cy="1110.8" r="17.6"/><circle cx="1449.0" cy="1210.2" r="17.6"/><circle cx="429.7" cy="488.1" r="17.6"/><circle cx="655.5" cy="1274.2" r="17.6"/><circle cx="1089.9" cy="1188.9" r="17.6"/><circle cx="1305.2" cy="1099.7" r="17.6"/><circle cx="1259.9" cy="993.4" r="17.6"/><circle cx="1677.2" cy="1124.1" r="17.6"/><circle cx="863.7" cy="1286.8" r="17.6"/><circle cx="956.0" cy="1330.0" r="17.6"/><circle cx="1878.7" cy="1278.2" r="17.6"/><circle cx="1203.0" cy="1059.3" r="17.6"/><circle cx="1692.4" cy="986.8" r="17.6"/><circle cx="906.4" cy="1216.5" r="17.6"/><circle cx="1398.8" cy="1135.6" r="17.6"/><circle cx="1216.5" cy="1028.6" r="17.6"/><circle cx="590.5" cy="773.3" r="17.6"/><circle cx="1899.6" cy="1093.9" r="17.6"/><circle cx="1440.7" cy="1145.3" r="17.6"/><circle cx="1695.5" cy="1058.9" r="17.6"/><circle cx="1838.4" cy="1086.8" r="17.6"/><circle cx="536.1" cy="695.1" r="17.6"/><circle cx="1003.5" cy="1060.7" r="17.6"/><circle cx="1003.6" cy="980.0" r="17.6"/><circle cx="452.0" cy="580.3" r="17.6"/><circle cx="1075.5" cy="1073.7" r="17.6"/><circle cx="520.3" cy="1168.9" r="17.6"/><circle cx="2095.7" cy="1103.5" r="17.6"/><circle cx="2014.9" cy="1150.2" r="17.6"/><circle cx="1612.3" cy="1258.8" r="17.6"/><circle cx="738.5" cy="914.0" r="17.6"/><circle cx="1717.2" cy="1199.4" r="17.6"/><circle cx="1719.6" cy="1162.0" r="17.6"/><circle cx="1142.4" cy="1057.9" r="17.6"/><circle cx="1711.3" cy="1117.8" r="17.6"/><circle cx="605.9" cy="846.2" r="17.6"/><circle cx="382.8" cy="700.2" r="17.6"/><circle cx="884.1" cy="1319.8" r="17.6"/><circle cx="1775.1" cy="958.6" r="17.6"/><circle cx="615.6" cy="688.9" r="17.6"/><circle cx="633.3" cy="1094.3" r="17.6"/><circle cx="1703.2" cy="1333.4" r="17.6"/><circle cx="1385.0" cy="985.5" r="17.6"/><circle cx="779.1" cy="897.6" r="17.6"/><circle cx="715.1" cy="931.1" r="17.6"/><circle cx="578.6" cy="976.1" r="17.6"/><circle cx="933.5" cy="1123.9" r="17.6"/><circle cx="1216.7" cy="1348.2" r="17.6"/><circle cx="1267.7" cy="1289.3" r="17.6"/><circle cx="917.9" cy="1027.0" r="17.6"/><circle cx="880.0" cy="1051.8" r="17.6"/><circle cx="706.8" cy="1138.7" r="17.6"/><circle cx="471.7" cy="503.7" r="17.6"/><circle cx="439.1" cy="701.3" r="17.6"/><circle cx="911.9" cy="915.9" r="17.6"/><circle cx="478.1" cy="607.9" r="17.6"/><circle cx="1550.9" cy="1192.6" r="17.6"/><circle cx="1118.2" cy="1253.0" r="17.6"/><circle cx="1444.5" cy="988.6" r="17.6"/><circle cx="1307.6" cy="1142.3" r="17.6"/><circle cx="444.1" cy="1025.6" r="17.6"/><circle cx="2142.7" cy="652.0" r="17.6"/><circle cx="1845.5" cy="1148.9" r="17.6"/><circle cx="954.2" cy="1128.3" r="17.6"/><circle cx="1464.4" cy="1001.8" r="17.6"/><circle cx="1259.9" cy="1076.7" r="17.6"/><circle cx="1976.3" cy="934.5" r="17.6"/><circle cx="857.2" cy="1221.9" r="17.6"/><circle cx="1494.7" cy="1329.4" r="17.6"/><circle cx="1761.3" cy="1246.8" r="17.6"/><circle cx="1425.8" cy="1054.2" r="17.6"/><circle cx="2188.1" cy="518.8" r="17.6"/><circle cx="1002.6" cy="1309.9" r="17.6"/><circle cx="1194.1" cy="1175.4" r="17.6"/><circle cx="1960.4" cy="834.1" r="17.6"/><circle cx="761.1" cy="1164.6" r="17.6"/><circle cx="744.2" cy="1203.7" r="17.6"/><circle cx="2180.9" cy="766.7" r="17.6"/><circle cx="840.2" cy="1187.5" r="17.6"/><circle cx="1910.0" cy="886.3" r="17.6"/><circle cx="1363.3" cy="1092.0" r="17.6"/><circle cx="2059.0" cy="652.7" r="17.6"/><circle cx="1147.4" cy="1200.7" r="17.6"/><circle cx="391.0" cy="887.7" r="17.6"/><circle cx="527.3" cy="1046.9" r="17.6"/><circle cx="1994.2" cy="715.4" r="17.6"/><circle cx="859.1" cy="1003.0" r="17.6"/><circle cx="894.9" cy="1202.2" r="17.6"/><circle cx="866.2" cy="1297.8" r="17.6"/><circle cx="2172.0" cy="856.6" r="17.6"/><circle cx="2215.7" cy="949.4" r="17.6"/><circle cx="2079.2" cy="620.4" r="17.6"/><circle cx="898.9" cy="1188.1" r="17.6"/><circle cx="831.0" cy="1130.3" r="17.6"/><circle cx="2013.1" cy="1034.5" r="17.6"/><circle cx="2007.4" cy="1081.9" r="17.6"/><circle cx="575.2" cy="665.6" r="17.6"/><circle cx="854.8" cy="1199.6" r="17.6"/><circle cx="531.8" cy="1141.0" r="17.6"/><circle cx="617.6" cy="854.7" r="17.6"/><circle cx="1439.5" cy="1058.1" r="17.6"/><circle cx="828.1" cy="923.9" r="17.6"/><circle cx="958.5" cy="1292.6" r="17.6"/><circle cx="2174.5" cy="644.4" r="17.6"/><circle cx="1668.2" cy="966.8" r="17.6"/><circle cx="562.3" cy="1081.8" r="17.6"/><circle cx="933.7" cy="1028.9" r="17.6"/><circle cx="1459.2" cy="1191.4" r="17.6"/><circle cx="1885.2" cy="876.4" r="17.6"/><circle cx="1712.8" cy="1327.2" r="17.6"/><circle cx="1605.2" cy="1044.3" r="17.6"/><circle cx="2232.3" cy="574.4" r="17.6"/><circle cx="392.0" cy="598.9" r="17.6"/><circle cx="403.1" cy="431.2" r="17.6"/><circle cx="1633.1" cy="1091.2" r="17.6"/><circle cx="814.5" cy="1056.4" r="17.6"/><circle cx="1576.7" cy="1278.9" r="17.6"/><circle cx="1423.7" cy="1215.9" r="17.6"/><circle cx="1292.2" cy="979.1" r="17.6"/><circle cx="1345.4" cy="1171.9" r="17.6"/><circle cx="1354.5" cy="1065.7" r="17.6"/><circle cx="794.7" cy="1232.9" r="17.6"/><circle cx="2241.2" cy="559.2" r="17.6"/><circle cx="1529.7" cy="1258.7" r="17.6"/><circle cx="1870.5" cy="827.4" r="17.6"/><circle cx="420.1" cy="806.0" r="17.6"/><circle cx="1913.7" cy="1248.3" r="17.6"/><circle cx="1971.5" cy="1211.6" r="17.6"/><circle cx="2010.6" cy="918.3" r="17.6"/><circle cx="1481.9" cy="985.1" r="17.6"/><circle cx="1686.4" cy="956.0" r="17.6"/><circle cx="1749.0" cy="1212.4" r="17.6"/><circle cx="883.1" cy="1211.1" r="17.6"/><circle cx="1035.0" cy="1380.8" r="17.6"/><circle cx="519.4" cy="818.2" r="17.6"/><circle cx="789.9" cy="1100.3" r="17.6"/><circle cx="1502.1" cy="1221.2" r="17.6"/><circle cx="1276.6" cy="1254.5" r="17.6"/><circle cx="475.5" cy="619.0" r="17.6"/><circle cx="374.9" cy="431.6" r="17.6"/><circle cx="1971.0" cy="1296.4" r="17.6"/><circle cx="667.6" cy="1190.5" r="17.6"/><circle cx="486.6" cy="787.8" r="17.6"/><circle cx="1894.6" cy="934.9" r="17.6"/><circle cx="2194.0" cy="585.0" r="17.6"/><circle cx="1100.8" cy="1079.7" r="17.6"/><circle cx="1089.8" cy="1198.4" r="17.6"/><circle cx="1627.0" cy="969.1" r="17.6"/><circle cx="660.8" cy="984.1" r="17.6"/><circle cx="1187.7" cy="1176.3" r="17.6"/><circle cx="1288.6" cy="1092.9" r="17.6"/><circle cx="1987.5" cy="712.9" r="17.6"/><circle cx="425.0" cy="655.9" r="17.6"/><circle cx="733.3" cy="894.2" r="17.6"/><circle cx="1228.8" cy="1302.1" r="17.6"/><circle cx="646.4" cy="1187.6" r="17.6"/><circle cx="2034.0" cy="672.5" r="17.6"/><circle cx="1463.4" cy="1076.1" r="17.6"/><circle cx="2072.9" cy="724.3" r="17.6"/><circle cx="1137.5" cy="1190.5" r="17.6"/><circle cx="2242.5" cy="411.7" r="17.6"/><circle cx="396.1" cy="439.5" r="17.6"/><circle cx="843.9" cy="1243.7" r="17.6"/><circle cx="1439.0" cy="1327.0" r="17.6"/><circle cx="2139.2" cy="771.9" r="17.6"/><circle cx="1849.2" cy="829.5" r="17.6"/><circle cx="1950.1" cy="1136.9" r="17.6"/><circle cx="1859.4" cy="916.5" r="17.6"/><circle cx="1073.3" cy="1155.7" r="17.6"/><circle cx="1700.5" cy="1223.6" r="17.6"/><circle cx="2131.5" cy="766.8" r="17.6"/><circle cx="759.1" cy="1024.8" r="17.6"/><circle cx="1481.9" cy="1261.7" r="17.6"/><circle cx="1280.5" cy="1338.3" r="17.6"/><circle cx="703.1" cy="968.7" r="17.6"/><circle cx="1759.1" cy="1249.3" r="17.6"/><circle cx="518.2" cy="1200.3" r="17.6"/><circle cx="1069.2" cy="1023.2" r="17.6"/><circle cx="1159.5" cy="1154.0" r="17.6"/><circle cx="818.2" cy="1126.8" r="17.6"/><circle cx="1188.7" cy="1210.5" r="17.6"/><circle cx="1718.4" cy="965.9" r="17.6"/><circle cx="409.6" cy="750.4" r="17.6"/><circle cx="1939.5" cy="761.6" r="17.6"/><circle cx="485.7" cy="759.0" r="17.6"/><circle cx="2220.0" cy="1035.6" r="17.6"/><circle cx="417.7" cy="695.9" r="17.6"/><circle cx="1284.6" cy="1166.2" r="17.6"/><circle cx="409.7" cy="692.3" r="17.6"/><circle cx="1229.1" cy="984.5" r="17.6"/><circle cx="1317.9" cy="1161.5" r="17.6"/><circle cx="1804.7" cy="1033.9" r="17.6"/><circle cx="2056.5" cy="1031.5" r="17.6"/><circle cx="1196.5" cy="1196.3" r="17.6"/><circle cx="386.0" cy="680.4" r="17.6"/><circle cx="555.7" cy="1147.8" r="17.6"/><circle cx="1016.7" cy="937.5" r="17.6"/><circle cx="1340.9" cy="1115.0" r="17.6"/><circle cx="928.2" cy="1095.8" r="17.6"/><circle cx="2157.8" cy="710.7" r="17.6"/><circle cx="1022.3" cy="984.2" r="17.6"/><circle cx="1746.8" cy="928.1" r="17.6"/><circle cx="2153.5" cy="644.4" r="17.6"/><circle cx="767.7" cy="973.7" r="17.6"/><circle cx="1747.1" cy="1250.4" r="17.6"/><circle cx="946.6" cy="1304.1" r="17.6"/><circle cx="1724.0" cy="1256.0" r="17.6"/><circle cx="1851.0" cy="922.6" r="17.6"/><circle cx="1974.8" cy="1000.5" r="17.6"/><circle cx="1409.6" cy="1259.4" r="17.6"/><circle cx="2138.1" cy="870.1" r="17.6"/><circle cx="479.2" cy="567.4" r="17.6"/><circle cx="2167.7" cy="1025.5" r="17.6"/><circle cx="1872.7" cy="1117.7" r="17.6"/><circle cx="1045.6" cy="1322.1" r="17.6"/><circle cx="2103.3" cy="775.7" r="17.6"/><circle cx="1199.7" cy="1418.9" r="17.6"/><circle cx="609.6" cy="679.3" r="17.6"/><circle cx="1856.9" cy="1227.6" r="17.6"/><circle cx="2082.2" cy="986.4" r="17.6"/><circle cx="2094.7" cy="1135.1" r="17.6"/><circle cx="518.6" cy="747.5" r="17.6"/><circle cx="1035.5" cy="1294.4" r="17.6"/><circle cx="615.3" cy="1016.4" r="17.6"/><circle cx="834.8" cy="1311.3" r="17.6"/><circle cx="1295.4" cy="1428.1" r="17.6"/><circle cx="1086.2" cy="971.5" r="17.6"/><circle cx="748.2" cy="798.8" r="17.6"/><circle cx="1576.2" cy="988.4" r="17.6"/><circle cx="960.3" cy="1024.5" r="17.6"/><circle cx="1645.9" cy="1229.3" r="17.6"/><circle cx="1492.7" cy="1171.7" r="17.6"/><circle cx="1221.2" cy="1099.1" r="17.6"/><circle cx="1446.6" cy="1254.6" r="17.6"/><circle cx="1357.1" cy="1295.1" r="17.6"/><circle cx="612.5" cy="830.7" r="17.6"/><circle cx="1621.9" cy="1056.7" r="17.6"/><circle cx="867.3" cy="910.4" r="17.6"/><circle cx="1510.8" cy="1045.2" r="17.6"/><circle cx="1774.8" cy="1253.5" r="17.6"/><circle cx="554.9" cy="1166.0" r="17.6"/><circle cx="801.0" cy="872.7" r="17.6"/><circle cx="421.1" cy="838.4" r="17.6"/><circle cx="2199.8" cy="461.4" r="17.6"/><circle cx="1638.6" cy="1308.2" r="17.6"/><circle cx="1753.0" cy="1133.2" r="17.6"/><circle cx="2134.1" cy="914.9" r="17.6"/><circle cx="1545.5" cy="1212.1" r="17.6"/><circle cx="2218.5" cy="906.6" r="17.6"/><circle cx="1030.7" cy="1199.9" r="17.6"/><circle cx="468.5" cy="959.0" r="17.6"/><circle cx="426.9" cy="959.4" r="17.6"/><circle cx="2212.6" cy="771.5" r="17.6"/><circle cx="448.0" cy="536.0" r="17.6"/><circle cx="1566.3" cy="1053.5" r="17.6"/><circle cx="880.5" cy="983.6" r="17.6"/><circle cx="1634.9" cy="1013.6" r="17.6"/><circle cx="1030.7" cy="1293.9" r="17.6"/><circle cx="850.0" cy="1208.2" r="17.6"/><circle cx="2092.5" cy="662.4" r="17.6"/><circle cx="2175.5" cy="673.0" r="17.6"/><circle cx="1953.1" cy="868.7" r="17.6"/><circle cx="1218.3" cy="1052.9" r="17.6"/><circle cx="812.9" cy="1339.0" r="17.6"/><circle cx="2177.5" cy="665.2" r="17.6"/><circle cx="844.5" cy="1101.8" r="17.6"/><circle cx="1383.1" cy="1162.6" r="17.6"/><circle cx="2057.6" cy="1234.6" r="17.6"/><circle cx="929.0" cy="1146.4" r="17.6"/><circle cx="1009.2" cy="1122.1" r="17.6"/><circle cx="1263.6" cy="1301.2" r="17.6"/><circle cx="1002.0" cy="1181.7" r="17.6"/><circle cx="1110.0" cy="1282.7" r="17.6"/><circle cx="2064.7" cy="1104.2" r="17.6"/><circle cx="854.9" cy="888.8" r="17.6"/><circle cx="542.6" cy="1002.2" r="17.6"/><circle cx="1678.9" cy="1129.0" r="17.6"/><circle cx="1855.7" cy="867.7" r="17.6"/><circle cx="452.6" cy="712.6" r="17.6"/><circle cx="2140.4" cy="574.6" r="17.6"/><circle cx="1942.6" cy="788.3" r="17.6"/><circle cx="867.0" cy="947.4" r="17.6"/><circle cx="894.5" cy="1130.4" r="17.6"/><circle cx="545.8" cy="746.4" r="17.6"/><circle cx="835.0" cy="847.4" r="17.6"/><circle cx="1548.9" cy="1276.0" r="17.6"/><circle cx="550.6" cy="986.8" r="17.6"/><circle cx="1383.0" cy="1001.7" r="17.6"/><circle cx="951.8" cy="1152.5" r="17.6"/><circle cx="1428.2" cy="1367.0" r="17.6"/><circle cx="1477.0" cy="1103.3" r="17.6"/><circle cx="606.1" cy="1113.1" r="17.6"/><circle cx="2065.4" cy="775.5" r="17.6"/><circle cx="434.2" cy="1024.1" r="17.6"/><circle cx="693.7" cy="987.6" r="17.6"/><circle cx="764.5" cy="883.4" r="17.6"/><circle cx="1788.5" cy="1349.7" r="17.6"/><circle cx="713.7" cy="941.6" r="17.6"/><circle cx="2040.5" cy="827.1" r="17.6"/><circle cx="2210.3" cy="920.6" r="17.6"/><circle cx="2144.2" cy="1039.2" r="17.6"/><circle cx="2126.6" cy="653.7" r="17.6"/><circle cx="1857.0" cy="948.3" r="17.6"/><circle cx="2111.4" cy="792.1" r="17.6"/><circle cx="708.3" cy="862.4" r="17.6"/><circle cx="2217.3" cy="732.2" r="17.6"/><circle cx="1387.1" cy="1423.6" r="17.6"/><circle cx="2049.5" cy="976.6" r="17.6"/><circle cx="1131.0" cy="1057.0" r="17.6"/><circle cx="1823.4" cy="968.2" r="17.6"/><circle cx="1086.9" cy="1112.9" r="17.6"/><circle cx="2264.3" cy="742.9" r="17.6"/><circle cx="571.5" cy="710.2" r="17.6"/><circle cx="2086.6" cy="642.3" r="17.6"/><circle cx="999.9" cy="1063.5" r="17.6"/><circle cx="1905.9" cy="859.5" r="17.6"/><circle cx="1945.0" cy="751.7" r="17.6"/><circle cx="582.3" cy="849.5" r="17.6"/><circle cx="1789.3" cy="864.2" r="17.6"/><circle cx="953.0" cy="1040.2" r="17.6"/><circle cx="1503.4" cy="1115.6" r="17.6"/><circle cx="803.7" cy="927.1" r="17.6"/><circle cx="1866.1" cy="902.8" r="17.6"/><circle cx="605.0" cy="777.2" r="17.6"/><circle cx="693.8" cy="877.8" r="17.6"/><circle cx="1742.9" cy="1014.0" r="17.6"/><circle cx="1404.3" cy="1284.1" r="17.6"/><circle cx="1823.1" cy="890.7" r="17.6"/><circle cx="423.0" cy="596.0" r="17.6"/><circle cx="2107.2" cy="1030.7" r="17.6"/><circle cx="581.4" cy="791.8" r="17.6"/><circle cx="1147.5" cy="1252.4" r="17.6"/><circle cx="647.0" cy="728.5" r="17.6"/><circle cx="1327.8" cy="977.1" r="17.6"/><circle cx="2168.3" cy="775.5" r="17.6"/><circle cx="2009.4" cy="1153.1" r="17.6"/><circle cx="1039.6" cy="1015.8" r="17.6"/><circle cx="2163.4" cy="713.8" r="17.6"/><circle cx="1927.4" cy="1103.4" r="17.6"/><circle cx="1862.9" cy="816.3" r="17.6"/><circle cx="789.6" cy="1248.7" r="17.6"/><circle cx="781.3" cy="820.4" r="17.6"/><circle cx="702.1" cy="789.2" r="17.6"/><circle cx="1498.4" cy="972.9" r="17.6"/><circle cx="638.8" cy="1157.7" r="17.6"/><circle cx="2171.3" cy="1043.6" r="17.6"/><circle cx="731.5" cy="891.6" r="17.6"/><circle cx="1861.0" cy="1197.6" r="17.6"/><circle cx="1086.7" cy="1324.0" r="17.6"/><circle cx="2101.5" cy="752.9" r="17.6"/><circle cx="1873.4" cy="976.3" r="17.6"/><circle cx="1414.2" cy="1220.4" r="17.6"/><circle cx="865.2" cy="1133.1" r="17.6"/><circle cx="401.6" cy="763.0" r="17.6"/><circle cx="2170.2" cy="541.7" r="17.6"/><circle cx="1887.9" cy="838.1" r="17.6"/><circle cx="898.0" cy="888.5" r="17.6"/><circle cx="1555.1" cy="944.4" r="17.6"/><circle cx="2043.9" cy="1152.7" r="17.6"/><circle cx="415.8" cy="995.3" r="17.6"/><circle cx="2113.4" cy="1197.3" r="17.6"/><circle cx="701.8" cy="978.9" r="17.6"/><circle cx="467.0" cy="511.5" r="17.6"/><circle cx="2074.0" cy="654.0" r="17.6"/><circle cx="1629.7" cy="1007.6" r="17.6"/><circle cx="607.1" cy="1176.7" r="17.6"/><circle cx="1774.5" cy="1068.7" r="17.6"/><circle cx="1141.0" cy="1379.2" r="17.6"/><circle cx="1280.0" cy="1013.8" r="17.6"/><circle cx="903.7" cy="1105.2" r="17.6"/><circle cx="1853.0" cy="994.9" r="17.6"/><circle cx="1223.3" cy="1288.8" r="17.6"/><circle cx="546.2" cy="788.5" r="17.6"/><circle cx="612.6" cy="692.9" r="17.6"/><circle cx="907.0" cy="1310.4" r="17.6"/><circle cx="933.1" cy="1239.2" r="17.6"/><circle cx="876.5" cy="1030.6" r="17.6"/><circle cx="1555.8" cy="978.2" r="17.6"/><circle cx="667.2" cy="911.5" r="17.6"/><circle cx="446.0" cy="540.1" r="17.6"/><circle cx="666.7" cy="1032.9" r="17.6"/><circle cx="722.7" cy="1123.7" r="17.6"/><circle cx="882.2" cy="876.7" r="17.6"/><circle cx="524.3" cy="924.5" r="17.6"/><circle cx="546.5" cy="737.4" r="17.6"/><circle cx="1900.8" cy="881.4" r="17.6"/><circle cx="2204.9" cy="905.0" r="17.6"/><circle cx="2097.5" cy="777.5" r="17.6"/><circle cx="672.1" cy="839.1" r="17.6"/><circle cx="1200.1" cy="1042.4" r="17.6"/><circle cx="380.9" cy="684.5" r="17.6"/><circle cx="728.4" cy="783.2" r="17.6"/><circle cx="555.1" cy="1034.1" r="17.6"/><circle cx="553.4" cy="1221.4" r="17.6"/><circle cx="512.0" cy="921.2" r="17.6"/><circle cx="1128.7" cy="1002.8" r="17.6"/><circle cx="866.1" cy="972.7" r="17.6"/><circle cx="1355.5" cy="1353.7" r="17.6"/><circle cx="1078.4" cy="1110.6" r="17.6"/><circle cx="434.6" cy="482.4" r="17.6"/><circle cx="2141.7" cy="610.7" r="17.6"/><circle cx="1141.8" cy="1181.9" r="17.6"/><circle cx="2150.3" cy="1154.1" r="17.6"/><circle cx="1581.6" cy="983.7" r="17.6"/><circle cx="1784.0" cy="983.4" r="17.6"/><circle cx="905.2" cy="1201.2" r="17.6"/><circle cx="1433.0" cy="1206.5" r="17.6"/><circle cx="452.7" cy="497.7" r="17.6"/><circle cx="1025.6" cy="938.9" r="17.6"/><circle cx="481.7" cy="1073.7" r="17.6"/><circle cx="990.8" cy="1036.8" r="17.6"/><circle cx="1011.8" cy="1028.4" r="17.6"/><circle cx="846.4" cy="1174.9" r="17.6"/><circle cx="2156.0" cy="906.1" r="17.6"/><circle cx="1756.8" cy="919.3" r="17.6"/><circle cx="2157.4" cy="604.2" r="17.6"/><circle cx="372.1" cy="678.1" r="17.6"/><circle cx="778.1" cy="969.4" r="17.6"/><circle cx="1452.4" cy="972.0" r="17.6"/><circle cx="2088.5" cy="737.4" r="17.6"/><circle cx="1278.2" cy="1387.1" r="17.6"/><circle cx="2161.5" cy="668.4" r="17.6"/><circle cx="810.4" cy="861.6" r="17.6"/><circle cx="398.3" cy="495.2" r="17.6"/><circle cx="1466.4" cy="1162.9" r="17.6"/><circle cx="1024.3" cy="1010.7" r="17.6"/><circle cx="532.6" cy="637.7" r="17.6"/><circle cx="1307.0" cy="1122.6" r="17.6"/><circle cx="1923.4" cy="765.0" r="17.6"/><circle cx="1939.5" cy="769.1" r="17.6"/><circle cx="2159.7" cy="526.1" r="17.6"/><circle cx="1925.0" cy="1138.2" r="17.6"/><circle cx="1869.5" cy="1222.2" r="17.6"/><circle cx="1162.6" cy="985.5" r="17.6"/><circle cx="1585.7" cy="1039.6" r="17.6"/><circle cx="859.6" cy="1144.6" r="17.6"/><circle cx="1552.8" cy="1048.4" r="17.6"/><circle cx="1259.6" cy="1047.0" r="17.6"/><circle cx="1399.9" cy="1301.6" r="17.6"/><circle cx="2094.7" cy="1037.4" r="17.6"/><circle cx="1500.2" cy="1297.9" r="17.6"/><circle cx="1712.8" cy="928.2" r="17.6"/><circle cx="2057.0" cy="697.7" r="17.6"/><circle cx="2064.6" cy="645.7" r="17.6"/><circle cx="1160.8" cy="1181.7" r="17.6"/><circle cx="1595.6" cy="1085.7" r="17.6"/><circle cx="1020.3" cy="1139.2" r="17.6"/><circle cx="2189.8" cy="805.4" r="17.6"/><circle cx="2125.4" cy="560.2" r="17.6"/><circle cx="565.0" cy="790.0" r="17.6"/><circle cx="1850.8" cy="855.9" r="17.6"/><circle cx="1413.2" cy="1092.0" r="17.6"/><circle cx="563.4" cy="836.4" r="17.6"/><circle cx="1897.0" cy="977.1" r="17.6"/><circle cx="1530.0" cy="1243.0" r="17.6"/><circle cx="473.0" cy="821.3" r="17.6"/><circle cx="1726.0" cy="960.5" r="17.6"/><circle cx="1712.3" cy="1256.8" r="17.6"/><circle cx="624.7" cy="1106.3" r="17.6"/><circle cx="2010.1" cy="801.9" r="17.6"/><circle cx="1841.8" cy="1050.5" r="17.6"/><circle cx="1064.1" cy="1399.6" r="17.6"/><circle cx="1933.2" cy="1025.6" r="17.6"/><circle cx="1853.4" cy="1191.0" r="17.6"/><circle cx="1187.2" cy="1185.9" r="17.6"/><circle cx="384.3" cy="942.9" r="17.6"/><circle cx="2213.2" cy="593.2" r="17.6"/><circle cx="694.5" cy="1181.4" r="17.6"/><circle cx="519.1" cy="621.9" r="17.6"/><circle cx="1176.6" cy="1092.9" r="17.6"/><circle cx="739.7" cy="848.1" r="17.6"/><circle cx="894.4" cy="1322.3" r="17.6"/><circle cx="1255.0" cy="1267.1" r="17.6"/><circle cx="1685.7" cy="1000.0" r="17.6"/><circle cx="488.4" cy="660.7" r="17.6"/><circle cx="1733.8" cy="1229.0" r="17.6"/><circle cx="1820.4" cy="844.4" r="17.6"/><circle cx="822.2" cy="1137.9" r="17.6"/><circle cx="384.9" cy="778.2" r="17.6"/><circle cx="1918.6" cy="796.6" r="17.6"/><circle cx="1381.9" cy="994.1" r="17.6"/><circle cx="692.5" cy="994.7" r="17.6"/><circle cx="781.6" cy="942.2" r="17.6"/><circle cx="459.5" cy="692.1" r="17.6"/><circle cx="994.2" cy="953.7" r="17.6"/><circle cx="1335.1" cy="1203.0" r="17.6"/><circle cx="662.3" cy="876.2" r="17.6"/><circle cx="577.6" cy="1115.1" r="17.6"/><circle cx="1529.8" cy="1318.3" r="17.6"/><circle cx="1863.4" cy="834.8" r="17.6"/><circle cx="774.2" cy="846.8" r="17.6"/><circle cx="472.3" cy="525.6" r="17.6"/><circle cx="1660.0" cy="1007.8" r="17.6"/><circle cx="859.3" cy="1245.8" r="17.6"/><circle cx="1917.7" cy="1252.1" r="17.6"/><circle cx="960.4" cy="1142.3" r="17.6"/><circle cx="572.4" cy="662.1" r="17.6"/><circle cx="2076.5" cy="961.4" r="17.6"/><circle cx="1819.2" cy="1035.9" r="17.6"/><circle cx="455.6" cy="638.6" r="17.6"/><circle cx="876.8" cy="1236.4" r="17.6"/><circle cx="946.7" cy="946.8" r="17.6"/><circle cx="546.5" cy="1014.7" r="17.6"/><circle cx="1512.7" cy="1191.3" r="17.6"/><circle cx="1062.3" cy="1062.0" r="17.6"/><circle cx="1003.6" cy="1042.4" r="17.6"/><circle cx="1768.2" cy="1054.2" r="17.6"/><circle cx="2069.4" cy="727.4" r="17.6"/><circle cx="442.5" cy="464.0" r="17.6"/><circle cx="580.0" cy="795.0" r="17.6"/><circle cx="855.1" cy="1193.8" r="17.6"/><circle cx="1664.7" cy="1250.5" r="17.6"/><circle cx="531.9" cy="964.2" r="17.6"/><circle cx="1680.8" cy="1256.1" r="17.6"/><circle cx="1606.1" cy="1316.2" r="17.6"/><circle cx="430.8" cy="810.5" r="17.6"/><circle cx="691.5" cy="1197.5" r="17.6"/><circle cx="691.3" cy="1184.3" r="17.6"/><circle cx="1071.9" cy="1284.0" r="17.6"/><circle cx="1147.4" cy="1223.9" r="17.6"/><circle cx="2183.4" cy="890.0" r="17.6"/><circle cx="731.6" cy="1294.2" r="17.6"/><circle cx="604.6" cy="717.2" r="17.6"/><circle cx="2083.6" cy="689.3" r="17.6"/><circle cx="380.6" cy="787.9" r="17.6"/><circle cx="1714.9" cy="1070.6" r="17.6"/><circle cx="1715.2" cy="1126.6" r="17.6"/><circle cx="737.4" cy="977.6" r="17.6"/><circle cx="1668.9" cy="1087.6" r="17.6"/><circle cx="444.6" cy="537.1" r="17.6"/><circle cx="1731.7" cy="1240.0" r="17.6"/><circle cx="1115.0" cy="1358.0" r="17.6"/><circle cx="1232.1" cy="1059.0" r="17.6"/><circle cx="1945.6" cy="930.8" r="17.6"/><circle cx="559.3" cy="971.3" r="17.6"/><circle cx="1030.9" cy="984.5" r="17.6"/><circle cx="2243.0" cy="957.3" r="17.6"/><circle cx="1505.9" cy="1141.0" r="17.6"/><circle cx="393.7" cy="851.8" r="17.6"/><circle cx="369.1" cy="899.5" r="17.6"/><circle cx="539.6" cy="688.1" r="17.6"/><circle cx="1232.2" cy="1161.1" r="17.6"/><circle cx="735.1" cy="936.3" r="17.6"/><circle cx="383.5" cy="480.6" r="17.6"/><circle cx="1562.7" cy="1318.5" r="17.6"/><circle cx="1497.6" cy="1284.0" r="17.6"/><circle cx="1816.2" cy="906.4" r="17.6"/><circle cx="1299.0" cy="1312.3" r="17.6"/><circle cx="971.0" cy="1259.1" r="17.6"/><circle cx="2085.8" cy="1027.9" r="17.6"/><circle cx="1421.5" cy="1006.7" r="17.6"/><circle cx="1007.8" cy="1031.6" r="17.6"/><circle cx="2164.4" cy="908.3" r="17.6"/><circle cx="1590.7" cy="1187.9" r="17.6"/><circle cx="2127.7" cy="556.4" r="17.6"/><circle cx="377.0" cy="902.4" r="17.6"/><circle cx="2221.2" cy="667.9" r="17.6"/><circle cx="1566.4" cy="1332.4" r="17.6"/><circle cx="727.4" cy="889.0" r="17.6"/><circle cx="595.6" cy="800.2" r="17.6"/><circle cx="873.7" cy="928.3" r="17.6"/><circle cx="1443.2" cy="1081.6" r="17.6"/><circle cx="2175.6" cy="730.0" r="17.6"/><circle cx="1179.8" cy="1400.8" r="17.6"/><circle cx="1752.6" cy="1222.4" r="17.6"/><circle cx="1522.1" cy="1335.2" r="17.6"/><circle cx="836.2" cy="900.4" r="17.6"/><circle cx="837.2" cy="925.2" r="17.6"/><circle cx="902.0" cy="1170.4" r="17.6"/><circle cx="1007.4" cy="975.9" r="17.6"/><circle cx="1930.1" cy="1155.9" r="17.6"/><circle cx="1088.2" cy="1113.0" r="17.6"/><circle cx="1788.2" cy="942.3" r="17.6"/><circle cx="2222.4" cy="432.5" r="17.6"/><circle cx="670.0" cy="756.0" r="17.6"/><circle cx="1819.6" cy="1137.1" r="17.6"/><circle cx="478.2" cy="591.1" r="17.6"/><circle cx="1849.2" cy="857.3" r="17.6"/><circle cx="594.2" cy="790.5" r="17.6"/><circle cx="620.2" cy="862.7" r="17.6"/><circle cx="683.4" cy="1022.2" r="17.6"/><circle cx="425.9" cy="843.0" r="17.6"/><circle cx="1514.4" cy="1096.8" r="17.6"/><circle cx="382.8" cy="484.6" r="17.6"/><circle cx="1165.5" cy="1334.7" r="17.6"/><circle cx="1847.3" cy="1009.0" r="17.6"/><circle cx="1796.6" cy="917.7" r="17.6"/><circle cx="1685.4" cy="1099.4" r="17.6"/><circle cx="388.7" cy="488.2" r="17.6"/><circle cx="1606.3" cy="987.1" r="17.6"/><circle cx="624.9" cy="1108.6" r="17.6"/><circle cx="607.0" cy="792.1" r="17.6"/><circle cx="441.6" cy="677.1" r="17.6"/><circle cx="1615.1" cy="1269.0" r="17.6"/><circle cx="962.0" cy="955.5" r="17.6"/><circle cx="1726.1" cy="940.6" r="17.6"/><circle cx="383.4" cy="938.7" r="17.6"/><circle cx="2096.6" cy="1178.3" r="17.6"/><circle cx="1458.2" cy="1003.6" r="17.6"/><circle cx="634.5" cy="1269.4" r="17.6"/><circle cx="1679.0" cy="1242.6" r="17.6"/><circle cx="1896.9" cy="1150.1" r="17.6"/><circle cx="2255.8" cy="601.1" r="17.6"/><circle cx="2176.6" cy="505.8" r="17.6"/><circle cx="1139.1" cy="1327.1" r="17.6"/><circle cx="794.3" cy="850.6" r="17.6"/><circle cx="1665.4" cy="1151.5" r="17.6"/><circle cx="2168.5" cy="726.5" r="17.6"/><circle cx="1738.2" cy="969.8" r="17.6"/><circle cx="1663.7" cy="920.4" r="17.6"/><circle cx="1244.1" cy="1377.6" r="17.6"/><circle cx="381.1" cy="832.8" r="17.6"/><circle cx="1064.5" cy="1026.5" r="17.6"/><circle cx="1168.5" cy="984.6" r="17.6"/><circle cx="1848.5" cy="932.8" r="17.6"/><circle cx="1499.1" cy="1218.1" r="17.6"/><circle cx="675.8" cy="866.2" r="17.6"/><circle cx="2214.5" cy="932.4" r="17.6"/><circle cx="1621.6" cy="1071.8" r="17.6"/><circle cx="1171.6" cy="976.0" r="17.6"/><circle cx="558.1" cy="956.7" r="17.6"/><circle cx="1009.0" cy="947.1" r="17.6"/><circle cx="597.9" cy="922.5" r="17.6"/><circle cx="500.7" cy="754.6" r="17.6"/><circle cx="1424.8" cy="1024.9" r="17.6"/><circle cx="904.2" cy="1003.1" r="17.6"/><circle cx="2223.9" cy="575.3" r="17.6"/><circle cx="1581.2" cy="1116.6" r="17.6"/><circle cx="734.2" cy="1110.6" r="17.6"/><circle cx="2008.4" cy="862.2" r="17.6"/><circle cx="1307.8" cy="978.5" r="17.6"/><circle cx="1221.7" cy="1036.1" r="17.6"/><circle cx="712.8" cy="1155.2" r="17.6"/><circle cx="777.1" cy="925.4" r="17.6"/><circle cx="571.8" cy="686.8" r="17.6"/><circle cx="2201.6" cy="565.8" r="17.6"/><circle cx="854.9" cy="989.6" r="17.6"/><circle cx="1116.4" cy="1020.4" r="17.6"/><circle cx="1186.5" cy="1029.8" r="17.6"/><circle cx="1594.6" cy="1078.2" r="17.6"/><circle cx="570.6" cy="633.8" r="17.6"/><circle cx="1703.2" cy="1191.3" r="17.6"/><circle cx="2106.2" cy="1023.2" r="17.6"/><circle cx="2172.8" cy="804.0" r="17.6"/><circle cx="754.2" cy="841.9" r="17.6"/><circle cx="587.9" cy="735.4" r="17.6"/><circle cx="1148.6" cy="1228.2" r="17.6"/><circle cx="1019.9" cy="1247.3" r="17.6"/><circle cx="1128.8" cy="1336.0" r="17.6"/><circle cx="2028.4" cy="736.3" r="17.6"/><circle cx="686.9" cy="823.6" r="17.6"/><circle cx="645.6" cy="920.9" r="17.6"/><circle cx="1960.8" cy="1039.3" r="17.6"/><circle cx="1722.6" cy="1050.7" r="17.6"/><circle cx="2111.4" cy="984.0" r="17.6"/><circle cx="539.5" cy="1070.8" r="17.6"/><circle cx="971.8" cy="1000.3" r="17.6"/><circle cx="1293.9" cy="1316.9" r="17.6"/><circle cx="1871.7" cy="885.3" r="17.6"/><circle cx="740.1" cy="894.7" r="17.6"/><circle cx="580.2" cy="1037.8" r="17.6"/><circle cx="940.1" cy="1120.3" r="17.6"/><circle cx="1582.1" cy="1098.4" r="17.6"/><circle cx="1373.4" cy="1229.9" r="17.6"/><circle cx="1770.3" cy="889.4" r="17.6"/><circle cx="1862.4" cy="1264.7" r="17.6"/><circle cx="1222.4" cy="1294.7" r="17.6"/><circle cx="1721.5" cy="993.5" r="17.6"/><circle cx="1107.7" cy="1014.5" r="17.6"/><circle cx="941.2" cy="934.1" r="17.6"/><circle cx="1972.4" cy="1124.6" r="17.6"/><circle cx="583.0" cy="645.0" r="17.6"/><circle cx="1295.8" cy="1157.1" r="17.6"/><circle cx="1586.4" cy="1035.1" r="17.6"/><circle cx="2170.9" cy="688.7" r="17.6"/><circle cx="1933.0" cy="893.3" r="17.6"/><circle cx="440.7" cy="571.1" r="17.6"/><circle cx="428.3" cy="792.2" r="17.6"/><circle cx="2032.1" cy="997.3" r="17.6"/><circle cx="1214.1" cy="1060.7" r="17.6"/><circle cx="864.5" cy="1280.8" r="17.6"/><circle cx="774.1" cy="924.4" r="17.6"/><circle cx="573.8" cy="689.9" r="17.6"/><circle cx="1458.7" cy="1337.7" r="17.6"/><circle cx="1772.7" cy="989.0" r="17.6"/><circle cx="695.6" cy="947.4" r="17.6"/><circle cx="481.5" cy="999.9" r="17.6"/><circle cx="692.4" cy="1013.9" r="17.6"/><circle cx="2154.3" cy="1058.5" r="17.6"/><circle cx="446.8" cy="603.5" r="17.6"/><circle cx="905.4" cy="1169.9" r="17.6"/><circle cx="1474.0" cy="1192.2" r="17.6"/><circle cx="773.4" cy="1317.1" r="17.6"/><circle cx="1127.1" cy="1012.7" r="17.6"/><circle cx="2019.0" cy="904.0" r="17.6"/><circle cx="2133.1" cy="1028.4" r="17.6"/><circle cx="1053.8" cy="1344.0" r="17.6"/><circle cx="527.1" cy="760.6" r="17.6"/><circle cx="1637.1" cy="1260.2" r="17.6"/><circle cx="1384.0" cy="1012.6" r="17.6"/><circle cx="800.8" cy="1026.3" r="17.6"/><circle cx="2187.6" cy="499.1" r="17.6"/><circle cx="556.0" cy="761.1" r="17.6"/><circle cx="2167.7" cy="912.0" r="17.6"/><circle cx="1106.6" cy="1095.9" r="17.6"/><circle cx="1186.3" cy="1229.5" r="17.6"/><circle cx="975.7" cy="911.4" r="17.6"/><circle cx="1280.6" cy="1000.6" r="17.6"/><circle cx="2196.7" cy="548.2" r="17.6"/><circle cx="1792.5" cy="1089.9" r="17.6"/><circle cx="782.8" cy="1297.3" r="17.6"/><circle cx="393.1" cy="678.1" r="17.6"/><circle cx="1877.4" cy="1141.8" r="17.6"/><circle cx="479.1" cy="846.6" r="17.6"/><circle cx="2217.7" cy="1059.8" r="17.6"/><circle cx="2023.5" cy="929.6" r="17.6"/><circle cx="640.6" cy="757.5" r="17.6"/><circle cx="2209.8" cy="654.0" r="17.6"/><circle cx="1304.8" cy="1224.1" r="17.6"/><circle cx="850.8" cy="1059.0" r="17.6"/><circle cx="1174.0" cy="1282.6" r="17.6"/><circle cx="1535.1" cy="1039.2" r="17.6"/><circle cx="488.5" cy="604.2" r="17.6"/><circle cx="529.8" cy="709.7" r="17.6"/><circle cx="1607.1" cy="975.4" r="17.6"/><circle cx="1129.8" cy="1315.9" r="17.6"/><circle cx="1225.7" cy="1112.3" r="17.6"/><circle cx="1778.0" cy="1319.3" r="17.6"/><circle cx="673.2" cy="1097.8" r="17.6"/><circle cx="750.6" cy="1038.2" r="17.6"/><circle cx="1305.6" cy="1259.6" r="17.6"/><circle cx="1642.7" cy="1003.8" r="17.6"/><circle cx="1508.1" cy="1208.8" r="17.6"/><circle cx="2043.9" cy="761.9" r="17.6"/><circle cx="519.7" cy="816.1" r="17.6"/><circle cx="1086.1" cy="1052.7" r="17.6"/><circle cx="2151.4" cy="722.8" r="17.6"/><circle cx="1304.4" cy="1217.2" r="17.6"/><circle cx="1508.0" cy="971.4" r="17.6"/><circle cx="1869.2" cy="1007.2" r="17.6"/><circle cx="1676.7" cy="1096.5" r="17.6"/><circle cx="1445.4" cy="1003.5" r="17.6"/><circle cx="541.6" cy="602.0" r="17.6"/><circle cx="613.0" cy="767.2" r="17.6"/><circle cx="462.4" cy="1015.6" r="17.6"/><circle cx="1891.6" cy="793.9" r="17.6"/><circle cx="647.0" cy="1135.3" r="17.6"/><circle cx="693.7" cy="1251.1" r="17.6"/><circle cx="1520.0" cy="1006.6" r="17.6"/><circle cx="715.4" cy="1260.1" r="17.6"/><circle cx="1759.2" cy="875.9" r="17.6"/><circle cx="656.6" cy="773.8" r="17.6"/><circle cx="895.9" cy="888.0" r="17.6"/><circle cx="1216.8" cy="1304.5" r="17.6"/><circle cx="993.5" cy="926.7" r="17.6"/><circle cx="1787.2" cy="1115.9" r="17.6"/><circle cx="1519.7" cy="1134.6" r="17.6"/><circle cx="459.1" cy="918.1" r="17.6"/><circle cx="429.3" cy="958.4" r="17.6"/><circle cx="2130.1" cy="790.3" r="17.6"/><circle cx="1164.2" cy="987.8" r="17.6"/><circle cx="1414.8" cy="1017.5" r="17.6"/><circle cx="2176.6" cy="592.5" r="17.6"/><circle cx="2220.3" cy="481.6" r="17.6"/><circle cx="1429.9" cy="1225.2" r="17.6"/><circle cx="790.8" cy="958.8" r="17.6"/><circle cx="2086.9" cy="617.7" r="17.6"/><circle cx="1531.8" cy="1034.7" r="17.6"/><circle cx="472.9" cy="855.8" r="17.6"/><circle cx="1594.0" cy="1254.8" r="17.6"/><circle cx="2020.3" cy="699.9" r="17.6"/><circle cx="2251.5" cy="747.4" r="17.6"/><circle cx="554.8" cy="832.1" r="17.6"/><circle cx="616.8" cy="1242.9" r="17.6"/><circle cx="1068.0" cy="941.1" r="17.6"/><circle cx="1584.9" cy="1277.7" r="17.6"/><circle cx="1254.5" cy="1334.4" r="17.6"/><circle cx="1633.4" cy="1246.1" r="17.6"/><circle cx="1634.8" cy="1154.8" r="17.6"/><circle cx="1077.1" cy="1019.5" r="17.6"/><circle cx="727.8" cy="1312.2" r="17.6"/><circle cx="2226.0" cy="958.3" r="17.6"/><circle cx="534.9" cy="617.0" r="17.6"/><circle cx="689.9" cy="782.6" r="17.6"/><circle cx="1190.7" cy="1341.3" r="17.6"/><circle cx="805.1" cy="1250.9" r="17.6"/><circle cx="1303.8" cy="975.1" r="17.6"/><circle cx="1115.6" cy="991.4" r="17.6"/><circle cx="515.1" cy="738.1" r="17.6"/><circle cx="1226.0" cy="1123.0" r="17.6"/><circle cx="1509.4" cy="997.7" r="17.6"/><circle cx="1553.5" cy="1093.1" r="17.6"/><circle cx="592.6" cy="765.8" r="17.6"/><circle cx="1415.9" cy="1211.2" r="17.6"/><circle cx="1935.2" cy="910.8" r="17.6"/><circle cx="682.6" cy="1010.9" r="17.6"/><circle cx="2136.4" cy="830.0" r="17.6"/><circle cx="547.9" cy="869.1" r="17.6"/><circle cx="1237.4" cy="1320.9" r="17.6"/><circle cx="1841.1" cy="1130.0" r="17.6"/><circle cx="997.7" cy="974.9" r="17.6"/><circle cx="1387.0" cy="1308.0" r="17.6"/><circle cx="1338.5" cy="1203.1" r="17.6"/><circle cx="2031.8" cy="917.1" r="17.6"/><circle cx="1617.1" cy="1107.8" r="17.6"/><circle cx="1687.3" cy="1206.6" r="17.6"/><circle cx="1806.3" cy="1083.0" r="17.6"/><circle cx="1091.2" cy="966.8" r="17.6"/><circle cx="2150.6" cy="535.6" r="17.6"/><circle cx="730.9" cy="866.1" r="17.6"/><circle cx="690.1" cy="776.0" r="17.6"/><circle cx="1773.3" cy="1070.1" r="17.6"/><circle cx="2129.8" cy="1106.7" r="17.6"/><circle cx="1390.3" cy="1029.5" r="17.6"/><circle cx="1845.8" cy="1183.5" r="17.6"/><circle cx="1636.0" cy="976.4" r="17.6"/><circle cx="927.5" cy="1236.3" r="17.6"/><circle cx="913.1" cy="1337.9" r="17.6"/><circle cx="979.2" cy="952.8" r="17.6"/><circle cx="494.1" cy="905.8" r="17.6"/><circle cx="1686.6" cy="943.0" r="17.6"/><circle cx="2002.7" cy="711.2" r="17.6"/><circle cx="1925.0" cy="810.4" r="17.6"/><circle cx="1550.7" cy="1135.0" r="17.6"/><circle cx="1611.5" cy="929.6" r="17.6"/><circle cx="2108.9" cy="611.3" r="17.6"/><circle cx="2014.0" cy="937.7" r="17.6"/><circle cx="651.7" cy="981.4" r="17.6"/><circle cx="1010.0" cy="1297.8" r="17.6"/><circle cx="1539.3" cy="1148.4" r="17.6"/><circle cx="418.9" cy="571.0" r="17.6"/><circle cx="718.4" cy="795.0" r="17.6"/><circle cx="2130.7" cy="868.0" r="17.6"/><circle cx="1503.3" cy="1047.9" r="17.6"/><circle cx="1206.9" cy="1202.9" r="17.6"/><circle cx="749.2" cy="906.8" r="17.6"/><circle cx="896.2" cy="1042.6" r="17.6"/><circle cx="1383.2" cy="1302.2" r="17.6"/><circle cx="1728.5" cy="1044.0" r="17.6"/><circle cx="2221.3" cy="672.6" r="17.6"/><circle cx="2171.6" cy="927.3" r="17.6"/><circle cx="539.4" cy="634.7" r="17.6"/><circle cx="2122.0" cy="904.1" r="17.6"/><circle cx="1437.4" cy="1270.9" r="17.6"/><circle cx="424.4" cy="577.4" r="17.6"/><circle cx="1846.0" cy="981.3" r="17.6"/><circle cx="1191.9" cy="982.9" r="17.6"/><circle cx="790.0" cy="989.6" r="17.6"/><circle cx="1514.0" cy="1204.7" r="17.6"/><circle cx="1253.5" cy="1352.8" r="17.6"/><circle cx="578.5" cy="1035.9" r="17.6"/><circle cx="1902.8" cy="849.0" r="17.6"/><circle cx="2215.6" cy="512.3" r="17.6"/><circle cx="1191.0" cy="1045.0" r="17.6"/><circle cx="611.3" cy="835.6" r="17.6"/><circle cx="411.5" cy="665.9" r="17.6"/><circle cx="1663.2" cy="1327.5" r="17.6"/><circle cx="1886.1" cy="1094.6" r="17.6"/><circle cx="1047.6" cy="1276.2" r="17.6"/><circle cx="2184.3" cy="1052.5" r="17.6"/><circle cx="1473.4" cy="1044.9" r="17.6"/><circle cx="1067.1" cy="1109.0" r="17.6"/><circle cx="716.3" cy="1155.0" r="17.6"/><circle cx="1968.7" cy="773.1" r="17.6"/><circle cx="966.6" cy="959.5" r="17.6"/><circle cx="828.7" cy="1266.2" r="17.6"/><circle cx="511.5" cy="882.4" r="17.6"/><circle cx="1472.2" cy="1001.6" r="17.6"/><circle cx="1274.2" cy="1116.5" r="17.6"/><circle cx="1127.0" cy="1334.7" r="17.6"/><circle cx="2069.1" cy="645.3" r="17.6"/><circle cx="661.3" cy="1017.7" r="17.6"/><circle cx="1414.2" cy="1271.1" r="17.6"/><circle cx="1863.4" cy="1185.8" r="17.6"/><circle cx="2016.7" cy="1078.7" r="17.6"/><circle cx="1218.5" cy="1186.4" r="17.6"/><circle cx="2027.3" cy="729.5" r="17.6"/><circle cx="1541.9" cy="1033.2" r="17.6"/><circle cx="1671.6" cy="961.1" r="17.6"/><circle cx="1698.1" cy="1081.8" r="17.6"/><circle cx="1784.7" cy="1205.6" r="17.6"/><circle cx="422.8" cy="607.3" r="17.6"/><circle cx="1660.5" cy="988.4" r="17.6"/><circle cx="2094.8" cy="1027.6" r="17.6"/><circle cx="2074.8" cy="697.1" r="17.6"/><circle cx="1921.9" cy="857.7" r="17.6"/><circle cx="2237.2" cy="936.6" r="17.6"/><circle cx="608.5" cy="695.7" r="17.6"/><circle cx="757.8" cy="1175.5" r="17.6"/><circle cx="2051.3" cy="859.6" r="17.6"/><circle cx="1798.5" cy="889.5" r="17.6"/><circle cx="585.2" cy="708.7" r="17.6"/><circle cx="1438.3" cy="1295.1" r="17.6"/><circle cx="1408.2" cy="1162.6" r="17.6"/><circle cx="2141.4" cy="1039.4" r="17.6"/><circle cx="2206.7" cy="833.7" r="17.6"/><circle cx="2156.8" cy="520.5" r="17.6"/><circle cx="1627.8" cy="1114.4" r="17.6"/><circle cx="491.2" cy="1119.6" r="17.6"/><circle cx="527.2" cy="602.0" r="17.6"/><circle cx="1835.3" cy="893.4" r="17.6"/><circle cx="880.5" cy="1164.3" r="17.6"/><circle cx="1213.5" cy="1095.2" r="17.6"/><circle cx="434.4" cy="937.8" r="17.6"/><circle cx="661.0" cy="814.8" r="17.6"/><circle cx="2008.9" cy="1020.5" r="17.6"/><circle cx="1094.7" cy="1328.8" r="17.6"/><circle cx="865.9" cy="944.9" r="17.6"/><circle cx="1624.8" cy="981.4" r="17.6"/><circle cx="1019.2" cy="1170.8" r="17.6"/><circle cx="603.6" cy="872.8" r="17.6"/><circle cx="908.2" cy="1029.7" r="17.6"/><circle cx="2110.9" cy="1046.7" r="17.6"/><circle cx="1961.6" cy="1045.2" r="17.6"/><circle cx="2194.5" cy="893.1" r="17.6"/><circle cx="1583.9" cy="1312.6" r="17.6"/><circle cx="1631.9" cy="1121.1" r="17.6"/><circle cx="823.6" cy="958.0" r="17.6"/><circle cx="599.0" cy="1130.1" r="17.6"/><circle cx="1252.7" cy="1349.0" r="17.6"/><circle cx="527.6" cy="1044.4" r="17.6"/><circle cx="830.2" cy="915.9" r="17.6"/><circle cx="2016.7" cy="689.9" r="17.6"/><circle cx="1800.9" cy="956.9" r="17.6"/><circle cx="495.7" cy="775.8" r="17.6"/><circle cx="400.0" cy="1047.2" r="17.6"/><circle cx="1877.7" cy="944.9" r="17.6"/><circle cx="1345.0" cy="972.7" r="17.6"/><circle cx="1071.3" cy="1213.8" r="17.6"/><circle cx="723.7" cy="934.6" r="17.6"/><circle cx="922.0" cy="1029.9" r="17.6"/><circle cx="1214.6" cy="1163.0" r="17.6"/><circle cx="425.4" cy="828.0" r="17.6"/><circle cx="1327.6" cy="988.8" r="17.6"/><circle cx="1091.5" cy="1044.7" r="17.6"/><circle cx="2216.3" cy="600.7" r="17.6"/><circle cx="1154.9" cy="1035.4" r="17.6"/><circle cx="1073.6" cy="1153.6" r="17.6"/><circle cx="2050.3" cy="669.6" r="17.6"/><circle cx="1762.8" cy="1318.8" r="17.6"/><circle cx="423.7" cy="457.6" r="17.6"/><circle cx="1850.5" cy="1110.2" r="17.6"/><circle cx="1352.6" cy="1019.2" r="17.6"/><circle cx="1077.4" cy="996.2" r="17.6"/><circle cx="1798.4" cy="1018.9" r="17.6"/><circle cx="1740.3" cy="1216.0" r="17.6"/><circle cx="2237.3" cy="394.9" r="17.6"/><circle cx="2238.0" cy="972.4" r="17.6"/><circle cx="731.0" cy="966.0" r="17.6"/><circle cx="763.4" cy="816.3" r="17.6"/><circle cx="763.4" cy="832.3" r="17.6"/><circle cx="428.4" cy="890.8" r="17.6"/><circle cx="406.3" cy="650.7" r="17.6"/><circle cx="869.4" cy="990.9" r="17.6"/><circle cx="1061.4" cy="1094.0" r="17.6"/><circle cx="1091.5" cy="1073.5" r="17.6"/><circle cx="1836.4" cy="1087.4" r="17.6"/><circle cx="806.6" cy="1328.9" r="17.6"/><circle cx="1673.4" cy="1034.3" r="17.6"/><circle cx="1834.2" cy="960.2" r="17.6"/><circle cx="1273.7" cy="1114.4" r="17.6"/><circle cx="2177.2" cy="633.0" r="17.6"/><circle cx="2178.6" cy="524.4" r="17.6"/><circle cx="1510.5" cy="1241.6" r="17.6"/><circle cx="942.4" cy="1259.1" r="17.6"/><circle cx="1257.1" cy="981.5" r="17.6"/><circle cx="1432.8" cy="1315.6" r="17.6"/><circle cx="1239.4" cy="1250.4" r="17.6"/><circle cx="1649.9" cy="973.7" r="17.6"/><circle cx="677.0" cy="899.0" r="17.6"/><circle cx="1223.8" cy="999.5" r="17.6"/><circle cx="601.5" cy="1019.5" r="17.6"/><circle cx="2092.7" cy="804.0" r="17.6"/><circle cx="2024.4" cy="1179.7" r="17.6"/><circle cx="2166.3" cy="500.3" r="17.6"/><circle cx="790.8" cy="912.5" r="17.6"/><circle cx="2185.8" cy="619.9" r="17.6"/><circle cx="1105.5" cy="1289.4" r="17.6"/><circle cx="1196.8" cy="1012.9" r="17.6"/><circle cx="1209.9" cy="1143.8" r="17.6"/><circle cx="910.5" cy="1151.9" r="17.6"/><circle cx="1035.0" cy="1371.0" r="17.6"/><circle cx="446.5" cy="624.9" r="17.6"/><circle cx="427.9" cy="602.3" r="17.6"/><circle cx="714.9" cy="1103.8" r="17.6"/><circle cx="717.1" cy="1148.1" r="17.6"/><circle cx="2116.7" cy="824.2" r="17.6"/><circle cx="2064.6" cy="949.8" r="17.6"/><circle cx="814.2" cy="1231.2" r="17.6"/><circle cx="455.7" cy="1115.1" r="17.6"/><circle cx="1609.6" cy="1196.7" r="17.6"/><circle cx="1571.2" cy="1204.7" r="17.6"/><circle cx="1620.8" cy="1052.2" r="17.6"/><circle cx="452.5" cy="597.1" r="17.6"/><circle cx="458.0" cy="712.3" r="17.6"/><circle cx="529.8" cy="820.2" r="17.6"/><circle cx="503.5" cy="958.6" r="17.6"/><circle cx="1421.6" cy="1081.8" r="17.6"/><circle cx="1693.2" cy="1155.2" r="17.6"/><circle cx="1787.8" cy="1010.1" r="17.6"/><circle cx="2165.6" cy="664.1" r="17.6"/><circle cx="1613.8" cy="1185.3" r="17.6"/><circle cx="1445.4" cy="974.7" r="17.6"/><circle cx="1139.3" cy="1287.2" r="17.6"/><circle cx="459.2" cy="711.6" r="17.6"/><circle cx="392.2" cy="631.1" r="17.6"/><circle cx="1648.7" cy="1023.2" r="17.6"/><circle cx="1509.9" cy="998.1" r="17.6"/><circle cx="397.7" cy="519.2" r="17.6"/><circle cx="1529.2" cy="1235.3" r="17.6"/><circle cx="2172.1" cy="612.0" r="17.6"/><circle cx="586.1" cy="1050.6" r="17.6"/><circle cx="1281.0" cy="1126.5" r="17.6"/><circle cx="2026.1" cy="1145.1" r="17.6"/><circle cx="1361.5" cy="985.2" r="17.6"/><circle cx="1036.4" cy="934.0" r="17.6"/><circle cx="1252.1" cy="985.6" r="17.6"/><circle cx="1834.0" cy="915.1" r="17.6"/><circle cx="1977.5" cy="1185.9" r="17.6"/><circle cx="1500.5" cy="1158.8" r="17.6"/><circle cx="1556.0" cy="1200.1" r="17.6"/><circle cx="471.2" cy="773.5" r="17.6"/><circle cx="1536.9" cy="1316.4" r="17.6"/><circle cx="1908.1" cy="837.4" r="17.6"/><circle cx="1689.7" cy="957.9" r="17.6"/><circle cx="1768.5" cy="930.8" r="17.6"/><circle cx="1505.5" cy="1128.3" r="17.6"/><circle cx="684.6" cy="1117.2" r="17.6"/><circle cx="2196.9" cy="1044.7" r="17.6"/><circle cx="1441.2" cy="1039.8" r="17.6"/><circle cx="1442.3" cy="1015.8" r="17.6"/><circle cx="579.0" cy="674.1" r="17.6"/><circle cx="1209.3" cy="1340.4" r="17.6"/><circle cx="719.5" cy="806.5" r="17.6"/><circle cx="1539.7" cy="1049.8" r="17.6"/><circle cx="896.1" cy="1301.7" r="17.6"/><circle cx="1033.7" cy="1126.3" r="17.6"/><circle cx="378.7" cy="699.9" r="17.6"/><circle cx="1060.1" cy="1296.1" r="17.6"/><circle cx="1106.2" cy="1323.9" r="17.6"/><circle cx="1731.7" cy="1065.7" r="17.6"/><circle cx="770.1" cy="1101.5" r="17.6"/><circle cx="1406.0" cy="1294.5" r="17.6"/><circle cx="1836.7" cy="1033.9" r="17.6"/><circle cx="1643.9" cy="958.7" r="17.6"/><circle cx="1052.3" cy="1157.6" r="17.6"/><circle cx="2075.4" cy="866.3" r="17.6"/><circle cx="2229.1" cy="672.5" r="17.6"/><circle cx="1821.9" cy="909.3" r="17.6"/><circle cx="2113.1" cy="583.2" r="17.6"/><circle cx="1593.4" cy="1051.8" r="17.6"/><circle cx="1511.2" cy="1156.5" r="17.6"/><circle cx="2093.2" cy="608.2" r="17.6"/><circle cx="966.5" cy="1089.9" r="17.6"/><circle cx="1959.4" cy="1261.7" r="17.6"/><circle cx="1655.6" cy="1172.2" r="17.6"/><circle cx="1208.9" cy="1252.3" r="17.6"/><circle cx="1251.9" cy="1305.4" r="17.6"/><circle cx="1034.5" cy="1391.1" r="17.6"/><circle cx="1898.4" cy="1048.4" r="17.6"/><circle cx="1599.6" cy="1012.1" r="17.6"/><circle cx="635.2" cy="920.9" r="17.6"/><circle cx="1734.8" cy="1252.8" r="17.6"/><circle cx="736.1" cy="792.9" r="17.6"/><circle cx="1992.9" cy="733.8" r="17.6"/><circle cx="695.3" cy="945.5" r="17.6"/><circle cx="957.8" cy="975.5" r="17.6"/><circle cx="2161.3" cy="837.6" r="17.6"/><circle cx="1737.9" cy="1210.1" r="17.6"/><circle cx="1601.9" cy="1162.1" r="17.6"/><circle cx="1036.2" cy="1045.1" r="17.6"/><circle cx="1614.4" cy="1071.2" r="17.6"/><circle cx="1587.8" cy="1398.9" r="17.6"/><circle cx="2108.9" cy="625.0" r="17.6"/><circle cx="1518.2" cy="1308.2" r="17.6"/><circle cx="1402.9" cy="1145.0" r="17.6"/><circle cx="754.9" cy="1006.4" r="17.6"/><circle cx="2047.0" cy="1147.6" r="17.6"/><circle cx="2074.5" cy="828.4" r="17.6"/><circle cx="1481.3" cy="1206.6" r="17.6"/><circle cx="1909.1" cy="902.0" r="17.6"/><circle cx="2021.2" cy="984.0" r="17.6"/><circle cx="1577.6" cy="1259.5" r="17.6"/><circle cx="2147.9" cy="920.3" r="17.6"/><circle cx="2186.2" cy="774.5" r="17.6"/><circle cx="864.2" cy="1254.1" r="17.6"/><circle cx="1735.8" cy="1138.5" r="17.6"/><circle cx="1084.5" cy="1135.7" r="17.6"/><circle cx="881.5" cy="1238.0" r="17.6"/><circle cx="2110.8" cy="767.8" r="17.6"/><circle cx="2211.9" cy="720.7" r="17.6"/><circle cx="1359.6" cy="1276.1" r="17.6"/><circle cx="1125.0" cy="1407.5" r="17.6"/><circle cx="2154.6" cy="1140.2" r="17.6"/><circle cx="1062.6" cy="959.5" r="17.6"/><circle cx="635.6" cy="854.4" r="17.6"/><circle cx="1413.3" cy="1282.8" r="17.6"/><circle cx="1518.9" cy="1290.1" r="17.6"/><circle cx="1363.2" cy="982.9" r="17.6"/><circle cx="436.6" cy="851.7" r="17.6"/><circle cx="2156.8" cy="786.8" r="17.6"/><circle cx="1078.9" cy="1044.9" r="17.6"/><circle cx="392.2" cy="472.6" r="17.6"/><circle cx="969.5" cy="1159.7" r="17.6"/><circle cx="1942.3" cy="1289.8" r="17.6"/><circle cx="2022.9" cy="986.3" r="17.6"/><circle cx="1904.5" cy="820.6" r="17.6"/><circle cx="802.0" cy="1153.7" r="17.6"/><circle cx="1583.2" cy="1110.0" r="17.6"/><circle cx="2149.6" cy="857.9" r="17.6"/><circle cx="745.5" cy="1065.3" r="17.6"/><circle cx="1894.3" cy="884.2" r="17.6"/><circle cx="1851.7" cy="1153.2" r="17.6"/><circle cx="1270.9" cy="997.4" r="17.6"/><circle cx="643.2" cy="1058.5" r="17.6"/><circle cx="1251.6" cy="1042.6" r="17.6"/><circle cx="514.6" cy="776.7" r="17.6"/><circle cx="2071.9" cy="647.4" r="17.6"/><circle cx="1139.5" cy="1290.1" r="17.6"/><circle cx="1162.5" cy="1036.1" r="17.6"/><circle cx="511.5" cy="878.6" r="17.6"/><circle cx="1147.8" cy="1232.2" r="17.6"/><circle cx="1540.0" cy="1090.4" r="17.6"/><circle cx="1191.4" cy="1029.8" r="17.6"/><circle cx="1574.2" cy="1197.7" r="17.6"/><circle cx="783.3" cy="1291.4" r="17.6"/><circle cx="1894.4" cy="921.3" r="17.6"/><circle cx="2190.9" cy="1057.4" r="17.6"/><circle cx="474.8" cy="548.6" r="17.6"/><circle cx="2225.3" cy="529.4" r="17.6"/><circle cx="435.7" cy="1087.0" r="17.6"/><circle cx="2091.1" cy="891.0" r="17.6"/><circle cx="2128.7" cy="1006.2" r="17.6"/><circle cx="623.0" cy="899.2" r="17.6"/><circle cx="949.1" cy="1178.9" r="17.6"/><circle cx="1135.2" cy="958.6" r="17.6"/><circle cx="1580.9" cy="941.7" r="17.6"/><circle cx="1410.1" cy="1329.8" r="17.6"/><circle cx="429.1" cy="632.2" r="17.6"/><circle cx="1916.0" cy="1244.5" r="17.6"/><circle cx="633.0" cy="869.6" r="17.6"/><circle cx="1222.5" cy="1066.1" r="17.6"/><circle cx="690.5" cy="1175.5" r="17.6"/><circle cx="920.2" cy="1339.5" r="17.6"/><circle cx="1556.2" cy="985.6" r="17.6"/><circle cx="1987.4" cy="1011.2" r="17.6"/><circle cx="561.4" cy="1098.1" r="17.6"/><circle cx="2052.5" cy="1135.2" r="17.6"/><circle cx="2124.0" cy="649.3" r="17.6"/><circle cx="1784.7" cy="1087.6" r="17.6"/><circle cx="1461.3" cy="1366.6" r="17.6"/><circle cx="1766.2" cy="1316.3" r="17.6"/><circle cx="1959.9" cy="1018.0" r="17.6"/><circle cx="2108.1" cy="600.3" r="17.6"/><circle cx="386.4" cy="422.8" r="17.6"/><circle cx="766.9" cy="930.3" r="17.6"/><circle cx="907.5" cy="934.2" r="17.6"/><circle cx="642.5" cy="721.7" r="17.6"/><circle cx="1536.2" cy="968.3" r="17.6"/><circle cx="424.8" cy="904.7" r="17.6"/><circle cx="1364.1" cy="1094.3" r="17.6"/><circle cx="711.7" cy="837.6" r="17.6"/><circle cx="1302.3" cy="1245.7" r="17.6"/><circle cx="1270.7" cy="1000.9" r="17.6"/><circle cx="1028.5" cy="1231.9" r="17.6"/><circle cx="696.0" cy="1073.3" r="17.6"/><circle cx="413.4" cy="725.9" r="17.6"/><circle cx="755.3" cy="828.2" r="17.6"/><circle cx="402.8" cy="943.8" r="17.6"/><circle cx="1934.3" cy="884.4" r="17.6"/><circle cx="1443.9" cy="1297.9" r="17.6"/><circle cx="1940.7" cy="876.5" r="17.6"/><circle cx="1846.0" cy="825.4" r="17.6"/><circle cx="1988.0" cy="1088.2" r="17.6"/><circle cx="1970.6" cy="759.9" r="17.6"/><circle cx="733.3" cy="1084.3" r="17.6"/><circle cx="1833.6" cy="1153.0" r="17.6"/><circle cx="524.8" cy="1193.2" r="17.6"/><circle cx="1491.2" cy="1293.0" r="17.6"/><circle cx="1140.4" cy="1088.4" r="17.6"/><circle cx="404.7" cy="946.5" r="17.6"/><circle cx="493.1" cy="661.7" r="17.6"/><circle cx="1833.0" cy="1228.4" r="17.6"/><circle cx="699.9" cy="1029.3" r="17.6"/><circle cx="1611.5" cy="1373.5" r="17.6"/><circle cx="1793.6" cy="951.3" r="17.6"/><circle cx="1885.3" cy="814.7" r="17.6"/><circle cx="1437.5" cy="1328.3" r="17.6"/><circle cx="1022.7" cy="1042.6" r="17.6"/><circle cx="1802.2" cy="868.8" r="17.6"/><circle cx="460.0" cy="936.3" r="17.6"/><circle cx="849.8" cy="887.1" r="17.6"/><circle cx="2193.3" cy="524.7" r="17.6"/><circle cx="460.6" cy="733.8" r="17.6"/><circle cx="1644.6" cy="988.9" r="17.6"/><circle cx="1766.4" cy="1099.4" r="17.6"/><circle cx="468.0" cy="630.2" r="17.6"/><circle cx="893.7" cy="1246.4" r="17.6"/><circle cx="1917.6" cy="1032.3" r="17.6"/><circle cx="499.4" cy="722.3" r="17.6"/><circle cx="1027.9" cy="1265.6" r="17.6"/><circle cx="1747.8" cy="921.4" r="17.6"/><circle cx="1447.8" cy="1067.8" r="17.6"/><circle cx="1073.8" cy="1251.0" r="17.6"/><circle cx="1417.8" cy="1123.6" r="17.6"/><circle cx="1900.2" cy="1059.6" r="17.6"/><circle cx="1772.0" cy="1325.5" r="17.6"/><circle cx="1348.4" cy="1054.2" r="17.6"/><circle cx="2084.8" cy="617.7" r="17.6"/><circle cx="779.1" cy="857.0" r="17.6"/><circle cx="1152.4" cy="1285.4" r="17.6"/><circle cx="407.3" cy="677.2" r="17.6"/><circle cx="1336.0" cy="1002.5" r="17.6"/><circle cx="2156.7" cy="539.6" r="17.6"/><circle cx="728.2" cy="1142.5" r="17.6"/><circle cx="386.4" cy="554.4" r="17.6"/><circle cx="1162.7" cy="979.7" r="17.6"/><circle cx="444.5" cy="491.4" r="17.6"/><circle cx="865.6" cy="1138.0" r="17.6"/><circle cx="461.0" cy="493.7" r="17.6"/><circle cx="871.6" cy="1231.0" r="17.6"/><circle cx="694.4" cy="1096.5" r="17.6"/><circle cx="637.5" cy="741.6" r="17.6"/><circle cx="1744.4" cy="1180.7" r="17.6"/><circle cx="1003.8" cy="1128.9" r="17.6"/><circle cx="585.4" cy="960.6" r="17.6"/><circle cx="2223.2" cy="619.0" r="17.6"/><circle cx="1483.2" cy="1028.6" r="17.6"/><circle cx="456.4" cy="574.4" r="17.6"/><circle cx="573.7" cy="1110.7" r="17.6"/><circle cx="2240.1" cy="870.4" r="17.6"/><circle cx="585.8" cy="1148.8" r="17.6"/><circle cx="1123.6" cy="1284.8" r="17.6"/><circle cx="607.1" cy="1223.4" r="17.6"/><circle cx="622.2" cy="1235.5" r="17.6"/><circle cx="656.5" cy="733.6" r="17.6"/><circle cx="503.9" cy="847.8" r="17.6"/><circle cx="667.2" cy="738.1" r="17.6"/><circle cx="456.9" cy="856.4" r="17.6"/><circle cx="1876.5" cy="836.5" r="17.6"/><circle cx="1134.2" cy="1030.1" r="17.6"/><circle cx="1243.9" cy="973.7" r="17.6"/><circle cx="670.8" cy="761.9" r="17.6"/><circle cx="1868.6" cy="883.1" r="17.6"/><circle cx="503.9" cy="1153.5" r="17.6"/><circle cx="1103.0" cy="1181.1" r="17.6"/><circle cx="941.3" cy="991.5" r="17.6"/><circle cx="1690.2" cy="1193.0" r="17.6"/><circle cx="587.9" cy="997.4" r="17.6"/><circle cx="1715.7" cy="940.7" r="17.6"/><circle cx="2121.1" cy="616.4" r="17.6"/><circle cx="1391.7" cy="1205.7" r="17.6"/><circle cx="1640.7" cy="1022.0" r="17.6"/><circle cx="1850.6" cy="819.4" r="17.6"/><circle cx="672.7" cy="824.3" r="17.6"/><circle cx="628.6" cy="1228.5" r="17.6"/><circle cx="1874.6" cy="1162.8" r="17.6"/><circle cx="793.9" cy="1230.8" r="17.6"/><circle cx="639.9" cy="772.4" r="17.6"/><circle cx="502.5" cy="825.0" r="17.6"/><circle cx="1694.0" cy="1173.0" r="17.6"/><circle cx="2249.1" cy="1028.2" r="17.6"/><circle cx="2137.4" cy="1086.3" r="17.6"/><circle cx="2214.0" cy="1104.1" r="17.6"/><circle cx="2145.8" cy="1007.4" r="17.6"/><circle cx="1704.4" cy="922.4" r="17.6"/><circle cx="2245.4" cy="512.5" r="17.6"/><circle cx="440.3" cy="848.1" r="17.6"/><circle cx="430.2" cy="889.5" r="17.6"/><circle cx="905.5" cy="960.7" r="17.6"/><circle cx="2001.2" cy="1208.9" r="17.6"/><circle cx="1064.5" cy="1129.1" r="17.6"/><circle cx="1725.3" cy="1025.2" r="17.6"/><circle cx="2004.9" cy="702.0" r="17.6"/><circle cx="2161.4" cy="659.8" r="17.6"/><circle cx="883.1" cy="1002.9" r="17.6"/><circle cx="1943.3" cy="952.9" r="17.6"/><circle cx="1726.3" cy="1180.8" r="17.6"/><circle cx="2008.5" cy="927.4" r="17.6"/><circle cx="1726.6" cy="913.8" r="17.6"/><circle cx="955.0" cy="1377.3" r="17.6"/><circle cx="969.0" cy="985.4" r="17.6"/><circle cx="2169.7" cy="909.7" r="17.6"/><circle cx="1641.0" cy="1310.2" r="17.6"/><circle cx="1364.0" cy="1101.7" r="17.6"/><circle cx="1865.2" cy="1329.9" r="17.6"/><circle cx="898.0" cy="1209.6" r="17.6"/><circle cx="1258.6" cy="1105.2" r="17.6"/><circle cx="2132.2" cy="645.0" r="17.6"/><circle cx="729.9" cy="802.7" r="17.6"/><circle cx="1816.8" cy="932.4" r="17.6"/><circle cx="1864.9" cy="1084.5" r="17.6"/><circle cx="1151.7" cy="1020.7" r="17.6"/><circle cx="957.5" cy="1075.6" r="17.6"/><circle cx="1550.1" cy="1274.8" r="17.6"/><circle cx="1712.9" cy="966.8" r="17.6"/><circle cx="1010.1" cy="979.8" r="17.6"/><circle cx="1939.6" cy="777.2" r="17.6"/><circle cx="468.0" cy="531.9" r="17.6"/><circle cx="579.7" cy="1060.9" r="17.6"/><circle cx="2128.0" cy="796.1" r="17.6"/><circle cx="1726.4" cy="1102.1" r="17.6"/><circle cx="783.7" cy="852.0" r="17.6"/><circle cx="2043.9" cy="1130.7" r="17.6"/><circle cx="1134.7" cy="1091.4" r="17.6"/><circle cx="1897.2" cy="793.8" r="17.6"/><circle cx="1591.8" cy="1006.5" r="17.6"/><circle cx="1177.6" cy="1294.0" r="17.6"/><circle cx="2169.2" cy="805.9" r="17.6"/><circle cx="1082.2" cy="1208.8" r="17.6"/><circle cx="450.4" cy="953.0" r="17.6"/><circle cx="1192.1" cy="1019.0" r="17.6"/><circle cx="1324.6" cy="969.8" r="17.6"/><circle cx="648.8" cy="728.1" r="17.6"/><circle cx="1898.6" cy="997.4" r="17.6"/><circle cx="1033.9" cy="1007.3" r="17.6"/><circle cx="648.3" cy="831.4" r="17.6"/><circle cx="1466.4" cy="1076.9" r="17.6"/><circle cx="615.1" cy="731.0" r="17.6"/><circle cx="1983.6" cy="1043.1" r="17.6"/><circle cx="672.1" cy="890.1" r="17.6"/><circle cx="1981.4" cy="960.8" r="17.6"/><circle cx="678.4" cy="829.7" r="17.6"/><circle cx="1981.8" cy="758.3" r="17.6"/><circle cx="1199.9" cy="1022.7" r="17.6"/><circle cx="2208.4" cy="452.3" r="17.6"/><circle cx="759.4" cy="822.1" r="17.6"/><circle cx="1409.9" cy="1065.7" r="17.6"/><circle cx="601.0" cy="1084.7" r="17.6"/><circle cx="887.5" cy="927.0" r="17.6"/><circle cx="400.3" cy="933.5" r="17.6"/><circle cx="917.7" cy="1136.2" r="17.6"/><circle cx="743.1" cy="1206.2" r="17.6"/><circle cx="1561.4" cy="1120.9" r="17.6"/><circle cx="1488.0" cy="1256.3" r="17.6"/><circle cx="567.0" cy="666.9" r="17.6"/><circle cx="1830.6" cy="976.0" r="17.6"/><circle cx="809.3" cy="911.0" r="17.6"/><circle cx="566.0" cy="1089.5" r="17.6"/><circle cx="715.3" cy="1156.4" r="17.6"/><circle cx="1268.6" cy="1297.2" r="17.6"/><circle cx="625.8" cy="922.5" r="17.6"/><circle cx="1952.3" cy="963.0" r="17.6"/><circle cx="436.7" cy="804.2" r="17.6"/><circle cx="1828.9" cy="978.9" r="17.6"/><circle cx="1896.4" cy="806.1" r="17.6"/><circle cx="1083.2" cy="1136.7" r="17.6"/><circle cx="2249.3" cy="907.5" r="17.6"/><circle cx="1476.7" cy="1025.1" r="17.6"/><circle cx="1545.2" cy="1254.5" r="17.6"/><circle cx="503.1" cy="573.3" r="17.6"/><circle cx="1966.2" cy="805.9" r="17.6"/><circle cx="1425.5" cy="1324.6" r="17.6"/><circle cx="1346.9" cy="1369.9" r="17.6"/><circle cx="2261.2" cy="1021.7" r="17.6"/><circle cx="1540.5" cy="960.7" r="17.6"/><circle cx="800.8" cy="1204.8" r="17.6"/><circle cx="1697.2" cy="1263.3" r="17.6"/><circle cx="848.6" cy="1201.8" r="17.6"/><circle cx="402.5" cy="1004.7" r="17.6"/><circle cx="2155.5" cy="842.2" r="17.6"/><circle cx="2173.5" cy="667.4" r="17.6"/><circle cx="2129.4" cy="898.1" r="17.6"/><circle cx="466.1" cy="955.7" r="17.6"/><circle cx="1769.3" cy="1190.8" r="17.6"/><circle cx="1046.9" cy="1094.0" r="17.6"/><circle cx="978.8" cy="1191.8" r="17.6"/><circle cx="400.8" cy="928.0" r="17.6"/><circle cx="782.2" cy="1149.5" r="17.6"/><circle cx="809.0" cy="1109.3" r="17.6"/><circle cx="1984.6" cy="1123.0" r="17.6"/><circle cx="1273.8" cy="1351.7" r="17.6"/><circle cx="2153.3" cy="951.7" r="17.6"/><circle cx="1837.0" cy="861.1" r="17.6"/><circle cx="2149.6" cy="796.3" r="17.6"/><circle cx="1940.9" cy="797.8" r="17.6"/><circle cx="782.9" cy="840.3" r="17.6"/><circle cx="1270.4" cy="973.9" r="17.6"/><circle cx="1271.4" cy="1087.6" r="17.6"/><circle cx="1519.7" cy="950.8" r="17.6"/><circle cx="462.8" cy="1103.9" r="17.6"/><circle cx="745.8" cy="1054.8" r="17.6"/><circle cx="1402.7" cy="967.6" r="17.6"/><circle cx="1954.1" cy="1111.1" r="17.6"/><circle cx="676.4" cy="1035.6" r="17.6"/><circle cx="443.7" cy="1018.4" r="17.6"/><circle cx="1547.1" cy="1007.7" r="17.6"/><circle cx="497.8" cy="1056.2" r="17.6"/><circle cx="1435.0" cy="1048.0" r="17.6"/><circle cx="1022.0" cy="1210.1" r="17.6"/><circle cx="722.5" cy="1238.7" r="17.6"/><circle cx="390.8" cy="794.8" r="17.6"/><circle cx="1524.3" cy="1229.2" r="17.6"/><circle cx="1906.1" cy="834.8" r="17.6"/><circle cx="728.2" cy="828.1" r="17.6"/><circle cx="1553.1" cy="971.4" r="17.6"/><circle cx="1943.8" cy="1103.2" r="17.6"/><circle cx="827.2" cy="1074.7" r="17.6"/><circle cx="869.4" cy="898.3" r="17.6"/><circle cx="2102.5" cy="675.9" r="17.6"/><circle cx="1361.9" cy="1201.8" r="17.6"/><circle cx="856.0" cy="954.0" r="17.6"/><circle cx="509.7" cy="571.7" r="17.6"/><circle cx="1567.0" cy="1126.9" r="17.6"/><circle cx="1924.0" cy="838.4" r="17.6"/><circle cx="761.7" cy="918.7" r="17.6"/><circle cx="1589.2" cy="1092.1" r="17.6"/><circle cx="664.5" cy="845.2" r="17.6"/><circle cx="1795.7" cy="936.6" r="17.6"/><circle cx="1102.4" cy="1132.4" r="17.6"/><circle cx="2215.9" cy="878.0" r="17.6"/><circle cx="372.0" cy="666.8" r="17.6"/><circle cx="1607.1" cy="955.2" r="17.6"/><circle cx="675.1" cy="871.1" r="17.6"/><circle cx="452.1" cy="956.2" r="17.6"/><circle cx="1215.6" cy="1015.0" r="17.6"/><circle cx="829.8" cy="992.1" r="17.6"/><circle cx="1846.9" cy="895.4" r="17.6"/><circle cx="1209.0" cy="1288.7" r="17.6"/><circle cx="403.2" cy="433.6" r="17.6"/><circle cx="2211.4" cy="854.6" r="17.6"/><circle cx="1876.9" cy="912.3" r="17.6"/><circle cx="1634.8" cy="1089.8" r="17.6"/><circle cx="833.7" cy="905.3" r="17.6"/><circle cx="435.8" cy="945.7" r="17.6"/><circle cx="2184.4" cy="527.0" r="17.6"/><circle cx="952.9" cy="963.6" r="17.6"/><circle cx="466.7" cy="595.7" r="17.6"/><circle cx="1247.6" cy="1252.1" r="17.6"/><circle cx="679.8" cy="1019.1" r="17.6"/><circle cx="1616.8" cy="1034.1" r="17.6"/><circle cx="1149.7" cy="1314.7" r="17.6"/><circle cx="1342.9" cy="1217.2" r="17.6"/><circle cx="2159.3" cy="912.9" r="17.6"/><circle cx="1660.1" cy="1386.7" r="17.6"/><circle cx="880.8" cy="1159.3" r="17.6"/><circle cx="569.7" cy="645.3" r="17.6"/><circle cx="1022.4" cy="1203.4" r="17.6"/><circle cx="2203.1" cy="456.5" r="17.6"/><circle cx="1903.8" cy="1009.0" r="17.6"/><circle cx="969.0" cy="1316.6" r="17.6"/><circle cx="2064.0" cy="650.9" r="17.6"/><circle cx="625.6" cy="828.3" r="17.6"/><circle cx="460.7" cy="1002.5" r="17.6"/><circle cx="2168.2" cy="815.6" r="17.6"/><circle cx="2059.3" cy="650.7" r="17.6"/><circle cx="1047.3" cy="967.2" r="17.6"/><circle cx="761.4" cy="858.8" r="17.6"/><circle cx="839.2" cy="1187.9" r="17.6"/><circle cx="898.5" cy="1057.4" r="17.6"/><circle cx="1463.6" cy="1056.0" r="17.6"/><circle cx="1246.7" cy="1211.1" r="17.6"/><circle cx="2197.3" cy="897.2" r="17.6"/><circle cx="1950.8" cy="750.6" r="17.6"/><circle cx="1795.6" cy="894.0" r="17.6"/><circle cx="808.1" cy="1044.9" r="17.6"/><circle cx="524.0" cy="1079.2" r="17.6"/><circle cx="920.2" cy="910.6" r="17.6"/><circle cx="1125.6" cy="976.5" r="17.6"/><circle cx="1488.3" cy="982.7" r="17.6"/><circle cx="2151.6" cy="846.9" r="17.6"/><circle cx="2234.6" cy="904.3" r="17.6"/><circle cx="1253.8" cy="1330.8" r="17.6"/><circle cx="1898.7" cy="893.3" r="17.6"/><circle cx="1807.9" cy="897.0" r="17.6"/><circle cx="1927.7" cy="832.0" r="17.6"/><circle cx="1997.3" cy="718.4" r="17.6"/><circle cx="704.1" cy="1104.7" r="17.6"/><circle cx="2081.4" cy="807.8" r="17.6"/><circle cx="1613.1" cy="1123.0" r="17.6"/><circle cx="1973.7" cy="987.1" r="17.6"/><circle cx="2048.0" cy="1118.6" r="17.6"/><circle cx="1498.0" cy="1268.3" r="17.6"/><circle cx="1114.2" cy="1215.7" r="17.6"/><circle cx="1169.0" cy="1292.5" r="17.6"/><circle cx="520.6" cy="619.3" r="17.6"/><circle cx="1657.5" cy="914.1" r="17.6"/><circle cx="556.7" cy="1087.1" r="17.6"/><circle cx="607.8" cy="838.7" r="17.6"/><circle cx="1093.2" cy="1088.9" r="17.6"/><circle cx="2002.6" cy="941.8" r="17.6"/><circle cx="1239.5" cy="1081.7" r="17.6"/><circle cx="610.8" cy="1238.9" r="17.6"/><circle cx="840.8" cy="1225.0" r="17.6"/><circle cx="659.8" cy="1053.7" r="17.6"/><circle cx="1705.6" cy="1316.5" r="17.6"/><circle cx="1567.5" cy="1144.3" r="17.6"/><circle cx="1939.5" cy="824.0" r="17.6"/><circle cx="1246.6" cy="1139.6" r="17.6"/><circle cx="1459.5" cy="1127.9" r="17.6"/><circle cx="2134.7" cy="1091.6" r="17.6"/><circle cx="990.1" cy="1321.9" r="17.6"/><circle cx="2117.2" cy="954.0" r="17.6"/><circle cx="2064.9" cy="1006.7" r="17.6"/><circle cx="963.6" cy="1107.5" r="17.6"/><circle cx="1724.8" cy="1165.3" r="17.6"/><circle cx="1129.0" cy="1159.3" r="17.6"/><circle cx="2215.7" cy="499.0" r="17.6"/><circle cx="954.9" cy="1148.1" r="17.6"/><circle cx="1695.3" cy="908.7" r="17.6"/><circle cx="2127.9" cy="608.1" r="17.6"/><circle cx="1189.3" cy="964.5" r="17.6"/><circle cx="1474.6" cy="1179.1" r="17.6"/><circle cx="1480.8" cy="1239.2" r="17.6"/><circle cx="466.9" cy="1114.3" r="17.6"/><circle cx="2233.2" cy="676.8" r="17.6"/><circle cx="1828.4" cy="1024.7" r="17.6"/><circle cx="1936.3" cy="1089.3" r="17.6"/><circle cx="793.7" cy="1165.2" r="17.6"/><circle cx="558.8" cy="650.2" r="17.6"/><circle cx="1976.8" cy="1063.2" r="17.6"/><circle cx="736.6" cy="1202.3" r="17.6"/><circle cx="515.5" cy="786.4" r="17.6"/><circle cx="1061.1" cy="1085.6" r="17.6"/><circle cx="1811.4" cy="1182.2" r="17.6"/><circle cx="1059.8" cy="1247.6" r="17.6"/><circle cx="2041.7" cy="799.0" r="17.6"/><circle cx="1342.0" cy="1043.1" r="17.6"/><circle cx="913.6" cy="1015.2" r="17.6"/><circle cx="1122.4" cy="1264.7" r="17.6"/><circle cx="904.6" cy="1081.1" r="17.6"/><circle cx="1462.2" cy="1174.8" r="17.6"/><circle cx="2202.9" cy="648.3" r="17.6"/><circle cx="1193.4" cy="1045.6" r="17.6"/><circle cx="2065.7" cy="1230.4" r="17.6"/><circle cx="1877.6" cy="961.6" r="17.6"/><circle cx="2185.1" cy="925.7" r="17.6"/><circle cx="1508.9" cy="1087.4" r="17.6"/><circle cx="2182.0" cy="512.7" r="17.6"/><circle cx="1102.5" cy="1325.6" r="17.6"/><circle cx="2081.1" cy="1161.0" r="17.6"/><circle cx="506.1" cy="608.1" r="17.6"/><circle cx="503.3" cy="973.0" r="17.6"/><circle cx="2163.3" cy="676.2" r="17.6"/><circle cx="1106.3" cy="1201.0" r="17.6"/><circle cx="1037.5" cy="1309.6" r="17.6"/><circle cx="1660.6" cy="1127.4" r="17.6"/><circle cx="562.4" cy="925.5" r="17.6"/><circle cx="1110.4" cy="985.1" r="17.6"/><circle cx="1430.0" cy="1314.4" r="17.6"/><circle cx="1310.5" cy="1057.8" r="17.6"/><circle cx="1290.1" cy="1061.5" r="17.6"/><circle cx="976.3" cy="1208.8" r="17.6"/><circle cx="2229.9" cy="450.3" r="17.6"/><circle cx="1038.5" cy="1057.9" r="17.6"/><circle cx="1150.8" cy="1374.6" r="17.6"/><circle cx="1094.8" cy="1177.2" r="17.6"/><circle cx="1258.3" cy="1236.9" r="17.6"/><circle cx="2115.1" cy="977.4" r="17.6"/><circle cx="1107.4" cy="983.1" r="17.6"/><circle cx="1194.0" cy="976.9" r="17.6"/><circle cx="1646.4" cy="1205.3" r="17.6"/><circle cx="1458.7" cy="963.7" r="17.6"/><circle cx="1029.2" cy="934.5" r="17.6"/><circle cx="389.0" cy="442.1" r="17.6"/><circle cx="705.6" cy="1127.3" r="17.6"/><circle cx="821.4" cy="1232.9" r="17.6"/><circle cx="1310.1" cy="1254.3" r="17.6"/><circle cx="445.5" cy="527.2" r="17.6"/><circle cx="559.2" cy="774.1" r="17.6"/><circle cx="1079.8" cy="1099.5" r="17.6"/><circle cx="1444.1" cy="1074.8" r="17.6"/><circle cx="738.2" cy="1257.1" r="17.6"/><circle cx="1988.2" cy="1226.4" r="17.6"/><circle cx="1093.2" cy="1088.6" r="17.6"/><circle cx="1288.7" cy="1316.5" r="17.6"/><circle cx="748.5" cy="935.5" r="17.6"/><circle cx="384.5" cy="695.5" r="17.6"/><circle cx="923.1" cy="1086.7" r="17.6"/><circle cx="1204.8" cy="1096.7" r="17.6"/><circle cx="1893.1" cy="867.4" r="17.6"/><circle cx="1169.4" cy="1254.1" r="17.6"/><circle cx="1190.5" cy="992.0" r="17.6"/><circle cx="1266.0" cy="1098.0" r="17.6"/><circle cx="1375.2" cy="1206.9" r="17.6"/><circle cx="731.6" cy="817.0" r="17.6"/><circle cx="950.7" cy="912.3" r="17.6"/><circle cx="2129.4" cy="833.0" r="17.6"/><circle cx="1691.0" cy="1255.3" r="17.6"/><circle cx="821.0" cy="1158.8" r="17.6"/><circle cx="1524.4" cy="1340.6" r="17.6"/><circle cx="922.0" cy="1175.3" r="17.6"/><circle cx="970.1" cy="1038.8" r="17.6"/><circle cx="1722.1" cy="1120.8" r="17.6"/><circle cx="1558.1" cy="979.5" r="17.6"/><circle cx="727.0" cy="790.0" r="17.6"/><circle cx="1515.6" cy="1356.0" r="17.6"/><circle cx="1300.0" cy="1033.6" r="17.6"/><circle cx="1654.0" cy="1057.5" r="17.6"/><circle cx="1085.4" cy="981.4" r="17.6"/><circle cx="2238.0" cy="383.2" r="17.6"/><circle cx="1182.8" cy="1028.5" r="17.6"/><circle cx="505.8" cy="876.0" r="17.6"/><circle cx="646.7" cy="802.4" r="17.6"/><circle cx="1221.0" cy="1083.8" r="17.6"/><circle cx="388.0" cy="886.9" r="17.6"/><circle cx="1976.4" cy="757.0" r="17.6"/><circle cx="576.8" cy="1043.5" r="17.6"/><circle cx="2094.8" cy="596.8" r="17.6"/><circle cx="952.8" cy="1187.2" r="17.6"/><circle cx="699.7" cy="1071.1" r="17.6"/><circle cx="1978.2" cy="749.6" r="17.6"/><circle cx="2009.6" cy="1098.2" r="17.6"/><circle cx="1695.9" cy="1331.3" r="17.6"/><circle cx="519.5" cy="870.4" r="17.6"/><circle cx="494.0" cy="749.1" r="17.6"/><circle cx="400.5" cy="476.4" r="17.6"/><circle cx="2164.6" cy="903.9" r="17.6"/><circle cx="493.5" cy="776.3" r="17.6"/><circle cx="1683.1" cy="1292.3" r="17.6"/><circle cx="1157.8" cy="989.3" r="17.6"/><circle cx="1807.2" cy="998.7" r="17.6"/><circle cx="936.2" cy="1012.5" r="17.6"/><circle cx="1398.2" cy="1326.6" r="17.6"/><circle cx="1888.7" cy="1082.0" r="17.6"/><circle cx="989.3" cy="1179.3" r="17.6"/><circle cx="1301.8" cy="1282.0" r="17.6"/><circle cx="535.1" cy="657.5" r="17.6"/><circle cx="873.1" cy="1116.0" r="17.6"/><circle cx="1860.0" cy="1123.0" r="17.6"/><circle cx="800.7" cy="1020.7" r="17.6"/><circle cx="1835.9" cy="1349.8" r="17.6"/><circle cx="594.4" cy="1159.1" r="17.6"/><circle cx="2228.2" cy="553.3" r="17.6"/><circle cx="1902.8" cy="930.3" r="17.6"/><circle cx="829.6" cy="1281.6" r="17.6"/><circle cx="1771.7" cy="1172.2" r="17.6"/><circle cx="2227.6" cy="422.2" r="17.6"/><circle cx="637.7" cy="1088.5" r="17.6"/><circle cx="445.7" cy="898.9" r="17.6"/><circle cx="2237.3" cy="810.1" r="17.6"/><circle cx="1851.7" cy="1045.1" r="17.6"/><circle cx="985.6" cy="1134.9" r="17.6"/><circle cx="2129.0" cy="934.5" r="17.6"/><circle cx="1773.9" cy="1184.8" r="17.6"/><circle cx="1762.1" cy="1322.0" r="17.6"/><circle cx="1809.6" cy="993.2" r="17.6"/><circle cx="406.7" cy="641.9" r="17.6"/><circle cx="1897.1" cy="1036.3" r="17.6"/><circle cx="1628.2" cy="944.6" r="17.6"/><circle cx="1161.0" cy="1220.3" r="17.6"/><circle cx="1895.6" cy="1011.7" r="17.6"/><circle cx="1219.4" cy="1049.0" r="17.6"/><circle cx="1024.0" cy="1370.8" r="17.6"/><circle cx="1659.0" cy="1238.2" r="17.6"/><circle cx="1419.0" cy="1304.1" r="17.6"/><circle cx="1394.6" cy="1146.2" r="17.6"/><circle cx="1589.8" cy="1181.4" r="17.6"/><circle cx="1788.1" cy="876.7" r="17.6"/><circle cx="965.5" cy="1117.2" r="17.6"/><circle cx="2078.0" cy="750.5" r="17.6"/><circle cx="1316.4" cy="1111.9" r="17.6"/><circle cx="825.9" cy="1043.6" r="17.6"/><circle cx="2243.1" cy="614.8" r="17.6"/><circle cx="1213.9" cy="1236.2" r="17.6"/><circle cx="1448.5" cy="1267.0" r="17.6"/><circle cx="950.8" cy="1206.5" r="17.6"/><circle cx="603.2" cy="894.8" r="17.6"/><circle cx="983.3" cy="1023.7" r="17.6"/><circle cx="1600.1" cy="998.7" r="17.6"/><circle cx="1631.6" cy="926.8" r="17.6"/><circle cx="448.6" cy="923.0" r="17.6"/><circle cx="1656.5" cy="1010.6" r="17.6"/><circle cx="890.3" cy="1163.7" r="17.6"/><circle cx="1863.8" cy="1175.8" r="17.6"/><circle cx="1571.0" cy="1378.6" r="17.6"/><circle cx="1960.3" cy="1075.1" r="17.6"/><circle cx="1942.6" cy="938.0" r="17.6"/><circle cx="558.5" cy="885.1" r="17.6"/><circle cx="1348.5" cy="1218.3" r="17.6"/><circle cx="726.2" cy="1066.5" r="17.6"/><circle cx="758.7" cy="1242.5" r="17.6"/><circle cx="1667.1" cy="1284.2" r="17.6"/><circle cx="836.9" cy="943.8" r="17.6"/><circle cx="1389.0" cy="1063.6" r="17.6"/><circle cx="2096.7" cy="776.8" r="17.6"/><circle cx="2150.4" cy="549.7" r="17.6"/><circle cx="1068.4" cy="953.3" r="17.6"/><circle cx="2209.7" cy="549.0" r="17.6"/><circle cx="1805.9" cy="945.8" r="17.6"/><circle cx="1786.8" cy="1141.0" r="17.6"/><circle cx="1625.0" cy="1013.9" r="17.6"/><circle cx="654.1" cy="1093.3" r="17.6"/><circle cx="1093.1" cy="1148.5" r="17.6"/><circle cx="542.4" cy="1123.4" r="17.6"/><circle cx="1024.3" cy="1000.3" r="17.6"/><circle cx="1181.8" cy="1170.9" r="17.6"/><circle cx="403.2" cy="498.8" r="17.6"/><circle cx="614.5" cy="1069.7" r="17.6"/><circle cx="962.5" cy="1031.0" r="17.6"/><circle cx="2176.5" cy="1004.4" r="17.6"/><circle cx="798.3" cy="867.5" r="17.6"/><circle cx="1587.8" cy="1336.1" r="17.6"/><circle cx="1219.2" cy="1105.0" r="17.6"/><circle cx="2177.3" cy="761.8" r="17.6"/><circle cx="1165.1" cy="968.4" r="17.6"/><circle cx="698.9" cy="1209.0" r="17.6"/><circle cx="714.6" cy="1022.2" r="17.6"/><circle cx="1226.4" cy="1200.0" r="17.6"/><circle cx="1673.1" cy="1015.7" r="17.6"/><circle cx="1087.4" cy="1127.6" r="17.6"/><circle cx="1638.1" cy="936.5" r="17.6"/><circle cx="403.6" cy="601.5" r="17.6"/><circle cx="727.7" cy="1152.3" r="17.6"/><circle cx="2067.9" cy="1077.6" r="17.6"/><circle cx="2091.1" cy="689.8" r="17.6"/><circle cx="1635.6" cy="1330.5" r="17.6"/><circle cx="912.7" cy="1182.0" r="17.6"/><circle cx="915.0" cy="1029.6" r="17.6"/><circle cx="844.5" cy="1092.7" r="17.6"/><circle cx="1495.3" cy="1239.5" r="17.6"/><circle cx="1900.9" cy="827.8" r="17.6"/><circle cx="427.9" cy="481.0" r="17.6"/><circle cx="463.9" cy="737.8" r="17.6"/><circle cx="2140.4" cy="1011.9" r="17.6"/><circle cx="518.3" cy="674.1" r="17.6"/><circle cx="997.4" cy="969.0" r="17.6"/><circle cx="1016.1" cy="953.8" r="17.6"/><circle cx="1885.0" cy="1211.9" r="17.6"/><circle cx="389.1" cy="895.1" r="17.6"/><circle cx="487.7" cy="540.9" r="17.6"/><circle cx="1866.9" cy="1079.0" r="17.6"/><circle cx="669.0" cy="750.0" r="17.6"/><circle cx="1031.5" cy="1318.9" r="17.6"/><circle cx="1696.1" cy="1097.8" r="17.6"/><circle cx="598.0" cy="957.9" r="17.6"/><circle cx="1083.1" cy="1157.8" r="17.6"/><circle cx="1742.4" cy="1091.8" r="17.6"/><circle cx="1113.1" cy="1186.3" r="17.6"/><circle cx="993.3" cy="977.8" r="17.6"/><circle cx="1089.3" cy="1389.3" r="17.6"/><circle cx="512.6" cy="672.7" r="17.6"/><circle cx="1168.4" cy="1197.0" r="17.6"/><circle cx="404.0" cy="669.9" r="17.6"/><circle cx="1588.3" cy="1386.9" r="17.6"/><circle cx="816.8" cy="1078.6" r="17.6"/><circle cx="2056.9" cy="1021.5" r="17.6"/><circle cx="602.4" cy="1089.3" r="17.6"/><circle cx="406.4" cy="433.1" r="17.6"/><circle cx="1991.4" cy="801.1" r="17.6"/><circle cx="1696.8" cy="998.7" r="17.6"/><circle cx="1238.4" cy="999.8" r="17.6"/><circle cx="1523.4" cy="1294.2" r="17.6"/><circle cx="1662.8" cy="985.5" r="17.6"/><circle cx="1183.1" cy="1333.4" r="17.6"/><circle cx="2244.4" cy="677.7" r="17.6"/><circle cx="1420.4" cy="1285.4" r="17.6"/><circle cx="1637.6" cy="942.0" r="17.6"/><circle cx="816.3" cy="1210.5" r="17.6"/><circle cx="378.8" cy="888.8" r="17.6"/><circle cx="2188.7" cy="657.0" r="17.6"/><circle cx="1423.0" cy="1381.9" r="17.6"/><circle cx="1558.7" cy="973.5" r="17.6"/><circle cx="1661.6" cy="1010.8" r="17.6"/><circle cx="1587.9" cy="942.4" r="17.6"/><circle cx="868.9" cy="1313.8" r="17.6"/><circle cx="1099.3" cy="982.9" r="17.6"/><circle cx="1578.2" cy="1179.3" r="17.6"/><circle cx="1763.5" cy="1268.5" r="17.6"/><circle cx="794.0" cy="1270.7" r="17.6"/><circle cx="657.0" cy="913.6" r="17.6"/><circle cx="1670.6" cy="1205.9" r="17.6"/><circle cx="426.6" cy="492.3" r="17.6"/><circle cx="882.7" cy="1251.5" r="17.6"/><circle cx="2124.8" cy="808.1" r="17.6"/><circle cx="835.8" cy="946.6" r="17.6"/><circle cx="2231.0" cy="485.3" r="17.6"/><circle cx="1200.8" cy="1364.6" r="17.6"/><circle cx="1320.8" cy="973.8" r="17.6"/><circle cx="956.1" cy="914.3" r="17.6"/><circle cx="1761.9" cy="1011.0" r="17.6"/><circle cx="812.7" cy="1254.7" r="17.6"/><circle cx="437.9" cy="474.6" r="17.6"/><circle cx="403.1" cy="1024.6" r="17.6"/><circle cx="1214.5" cy="1113.8" r="17.6"/><circle cx="1939.0" cy="1094.7" r="17.6"/><circle cx="1151.3" cy="1043.8" r="17.6"/><circle cx="515.1" cy="1039.2" r="17.6"/><circle cx="403.4" cy="848.5" r="17.6"/><circle cx="756.7" cy="1194.7" r="17.6"/><circle cx="576.2" cy="665.0" r="17.6"/><circle cx="1332.8" cy="1055.5" r="17.6"/><circle cx="2018.1" cy="879.2" r="17.6"/><circle cx="1554.3" cy="980.2" r="17.6"/><circle cx="795.0" cy="931.0" r="17.6"/><circle cx="1692.8" cy="911.8" r="17.6"/><circle cx="1354.8" cy="1093.1" r="17.6"/><circle cx="1401.2" cy="1239.1" r="17.6"/><circle cx="819.8" cy="1007.0" r="17.6"/><circle cx="1876.2" cy="1224.2" r="17.6"/><circle cx="974.8" cy="1298.9" r="17.6"/><circle cx="2212.5" cy="439.9" r="17.6"/><circle cx="2113.1" cy="647.4" r="17.6"/><circle cx="1504.1" cy="956.8" r="17.6"/><circle cx="1347.7" cy="1258.5" r="17.6"/><circle cx="1274.4" cy="1027.0" r="17.6"/><circle cx="2229.8" cy="691.0" r="17.6"/><circle cx="556.3" cy="949.6" r="17.6"/><circle cx="1008.5" cy="1269.6" r="17.6"/><circle cx="1199.1" cy="1275.2" r="17.6"/><circle cx="1340.3" cy="1093.5" r="17.6"/><circle cx="1470.3" cy="1294.8" r="17.6"/><circle cx="2220.0" cy="628.6" r="17.6"/><circle cx="1208.1" cy="1131.1" r="17.6"/><circle cx="2162.4" cy="524.8" r="17.6"/><circle cx="2144.7" cy="857.6" r="17.6"/><circle cx="1640.4" cy="1229.4" r="17.6"/><circle cx="382.2" cy="602.1" r="17.6"/><circle cx="1402.2" cy="1375.9" r="17.6"/><circle cx="2021.3" cy="814.2" r="17.6"/><circle cx="905.1" cy="956.6" r="17.6"/><circle cx="1224.5" cy="1231.0" r="17.6"/><circle cx="1555.8" cy="1091.0" r="17.6"/><circle cx="969.7" cy="940.2" r="17.6"/><circle cx="885.1" cy="1125.2" r="17.6"/><circle cx="948.2" cy="1351.4" r="17.6"/><circle cx="1993.4" cy="1002.1" r="17.6"/><circle cx="1703.2" cy="1194.6" r="17.6"/><circle cx="926.4" cy="1029.5" r="17.6"/><circle cx="1319.5" cy="1321.3" r="17.6"/><circle cx="2203.9" cy="609.9" r="17.6"/><circle cx="2138.5" cy="1140.0" r="17.6"/><circle cx="2175.4" cy="618.6" r="17.6"/><circle cx="1469.3" cy="961.3" r="17.6"/><circle cx="906.0" cy="946.6" r="17.6"/><circle cx="425.2" cy="763.5" r="17.6"/><circle cx="2143.8" cy="541.5" r="17.6"/><circle cx="1653.7" cy="1161.0" r="17.6"/><circle cx="595.7" cy="1238.6" r="17.6"/><circle cx="1686.9" cy="1367.5" r="17.6"/><circle cx="1837.7" cy="1227.4" r="17.6"/><circle cx="1577.4" cy="976.5" r="17.6"/><circle cx="1820.7" cy="1092.7" r="17.6"/><circle cx="586.4" cy="985.3" r="17.6"/><circle cx="497.5" cy="870.9" r="17.6"/><circle cx="2022.3" cy="1137.9" r="17.6"/><circle cx="2054.9" cy="1083.6" r="17.6"/><circle cx="957.6" cy="912.2" r="17.6"/><circle cx="1292.5" cy="1031.7" r="17.6"/><circle cx="2085.1" cy="723.9" r="17.6"/><circle cx="651.7" cy="720.6" r="17.6"/><circle cx="489.7" cy="968.3" r="17.6"/><circle cx="2026.3" cy="785.3" r="17.6"/><circle cx="1020.2" cy="1398.1" r="17.6"/><circle cx="467.7" cy="578.1" r="17.6"/><circle cx="2225.7" cy="585.2" r="17.6"/><circle cx="1399.9" cy="1013.0" r="17.6"/><circle cx="1779.8" cy="1024.9" r="17.6"/><circle cx="512.6" cy="817.8" r="17.6"/><circle cx="786.1" cy="934.4" r="17.6"/><circle cx="1617.9" cy="993.0" r="17.6"/><circle cx="398.4" cy="451.6" r="17.6"/><circle cx="835.4" cy="961.3" r="17.6"/><circle cx="953.1" cy="1283.2" r="17.6"/><circle cx="1849.2" cy="1176.4" r="17.6"/><circle cx="2223.5" cy="895.1" r="17.6"/><circle cx="742.5" cy="969.7" r="17.6"/><circle cx="2042.2" cy="707.7" r="17.6"/><circle cx="1125.1" cy="1046.5" r="17.6"/><circle cx="1672.8" cy="1131.5" r="17.6"/><circle cx="503.4" cy="950.2" r="17.6"/><circle cx="579.7" cy="899.6" r="17.6"/><circle cx="1438.6" cy="1086.8" r="17.6"/><circle cx="523.4" cy="879.2" r="17.6"/><circle cx="648.9" cy="1231.5" r="17.6"/><circle cx="477.6" cy="857.6" r="17.6"/><circle cx="1739.5" cy="1217.2" r="17.6"/><circle cx="1084.3" cy="1053.3" r="17.6"/><circle cx="513.8" cy="1068.7" r="17.6"/><circle cx="599.8" cy="1147.6" r="17.6"/><circle cx="537.1" cy="1194.7" r="17.6"/><circle cx="1371.6" cy="1176.8" r="17.6"/><circle cx="2203.0" cy="950.9" r="17.6"/><circle cx="1820.4" cy="860.0" r="17.6"/><circle cx="654.4" cy="1220.9" r="17.6"/><circle cx="831.1" cy="1004.5" r="17.6"/><circle cx="1187.1" cy="1094.7" r="17.6"/><circle cx="801.8" cy="1065.9" r="17.6"/><circle cx="718.8" cy="1140.6" r="17.6"/><circle cx="2064.6" cy="762.8" r="17.6"/><circle cx="2187.6" cy="711.5" r="17.6"/><circle cx="1746.4" cy="1012.2" r="17.6"/><circle cx="1143.9" cy="1308.6" r="17.6"/><circle cx="1689.0" cy="1200.6" r="17.6"/><circle cx="546.7" cy="896.9" r="17.6"/><circle cx="1013.4" cy="1266.8" r="17.6"/><circle cx="1725.2" cy="1166.8" r="17.6"/><circle cx="1378.9" cy="1080.2" r="17.6"/><circle cx="2151.9" cy="785.4" r="17.6"/><circle cx="1395.7" cy="984.8" r="17.6"/><circle cx="1325.4" cy="1341.9" r="17.6"/><circle cx="2086.4" cy="1139.6" r="17.6"/><circle cx="425.9" cy="791.4" r="17.6"/><circle cx="1694.4" cy="1067.6" r="17.6"/><circle cx="1339.9" cy="1161.7" r="17.6"/><circle cx="1061.2" cy="1146.2" r="17.6"/><circle cx="2249.9" cy="851.9" r="17.6"/><circle cx="1808.0" cy="1273.0" r="17.6"/><circle cx="433.4" cy="571.8" r="17.6"/><circle cx="1784.7" cy="1162.4" r="17.6"/><circle cx="1177.2" cy="1320.0" r="17.6"/><circle cx="1390.3" cy="1294.8" r="17.6"/><circle cx="1070.9" cy="961.3" r="17.6"/><circle cx="491.3" cy="830.8" r="17.6"/><circle cx="653.1" cy="984.3" r="17.6"/><circle cx="700.0" cy="1183.9" r="17.6"/><circle cx="704.3" cy="785.4" r="17.6"/><circle cx="406.0" cy="553.7" r="17.6"/><circle cx="2053.5" cy="777.0" r="17.6"/><circle cx="2089.7" cy="1139.3" r="17.6"/><circle cx="1110.7" cy="1009.6" r="17.6"/><circle cx="1449.1" cy="1168.3" r="17.6"/><circle cx="466.8" cy="938.6" r="17.6"/><circle cx="762.4" cy="1098.6" r="17.6"/><circle cx="470.3" cy="1071.3" r="17.6"/><circle cx="541.6" cy="683.5" r="17.6"/><circle cx="2049.1" cy="828.3" r="17.6"/><circle cx="2157.0" cy="757.7" r="17.6"/><circle cx="1561.6" cy="1023.3" r="17.6"/><circle cx="2113.1" cy="1052.5" r="17.6"/><circle cx="722.8" cy="903.3" r="17.6"/><circle cx="1710.0" cy="1097.1" r="17.6"/><circle cx="2018.2" cy="806.1" r="17.6"/><circle cx="560.9" cy="1225.5" r="17.6"/><circle cx="1400.9" cy="981.1" r="17.6"/><circle cx="2092.2" cy="602.4" r="17.6"/><circle cx="438.8" cy="547.4" r="17.6"/><circle cx="1162.6" cy="1235.7" r="17.6"/><circle cx="1422.6" cy="1310.4" r="17.6"/><circle cx="1054.1" cy="944.9" r="17.6"/><circle cx="2109.7" cy="1037.7" r="17.6"/><circle cx="612.3" cy="932.0" r="17.6"/><circle cx="718.0" cy="1151.6" r="17.6"/><circle cx="438.3" cy="617.2" r="17.6"/><circle cx="1038.3" cy="1222.9" r="17.6"/><circle cx="705.4" cy="1119.8" r="17.6"/><circle cx="418.1" cy="643.6" r="17.6"/><circle cx="1070.6" cy="1321.9" r="17.6"/><circle cx="2035.4" cy="678.9" r="17.6"/><circle cx="1121.5" cy="1167.3" r="17.6"/><circle cx="415.8" cy="585.6" r="17.6"/><circle cx="2023.3" cy="744.8" r="17.6"/><circle cx="945.3" cy="1016.6" r="17.6"/><circle cx="1917.9" cy="1272.2" r="17.6"/><circle cx="1770.8" cy="1192.4" r="17.6"/><circle cx="717.0" cy="781.5" r="17.6"/><circle cx="1544.2" cy="1254.7" r="17.6"/><circle cx="1035.3" cy="944.9" r="17.6"/><circle cx="1807.2" cy="1046.9" r="17.6"/><circle cx="1850.1" cy="1179.6" r="17.6"/><circle cx="2232.6" cy="520.2" r="17.6"/><circle cx="1991.3" cy="911.8" r="17.6"/><circle cx="842.2" cy="1297.9" r="17.6"/><circle cx="2102.2" cy="600.9" r="17.6"/><circle cx="1254.4" cy="1251.4" r="17.6"/><circle cx="2047.8" cy="1157.7" r="17.6"/><circle cx="821.3" cy="1137.1" r="17.6"/><circle cx="641.3" cy="742.3" r="17.6"/><circle cx="1881.8" cy="1270.7" r="17.6"/><circle cx="2169.7" cy="891.7" r="17.6"/><circle cx="1940.6" cy="782.7" r="17.6"/><circle cx="951.9" cy="1031.1" r="17.6"/><circle cx="469.6" cy="1013.9" r="17.6"/><circle cx="542.7" cy="857.0" r="17.6"/><circle cx="1826.6" cy="1039.7" r="17.6"/><circle cx="1818.8" cy="1234.0" r="17.6"/><circle cx="1998.6" cy="959.3" r="17.6"/><circle cx="697.5" cy="1026.7" r="17.6"/><circle cx="929.4" cy="1002.4" r="17.6"/><circle cx="1622.1" cy="1285.1" r="17.6"/><circle cx="1540.9" cy="1333.0" r="17.6"/><circle cx="2184.8" cy="550.0" r="17.6"/><circle cx="1640.9" cy="1171.7" r="17.6"/><circle cx="1729.4" cy="1164.1" r="17.6"/><circle cx="649.6" cy="718.0" r="17.6"/><circle cx="1206.3" cy="1349.3" r="17.6"/><circle cx="562.7" cy="1025.4" r="17.6"/><circle cx="489.0" cy="663.3" r="17.6"/><circle cx="1639.5" cy="1004.7" r="17.6"/><circle cx="2023.6" cy="1188.1" r="17.6"/><circle cx="2038.7" cy="1090.2" r="17.6"/><circle cx="1266.3" cy="1311.1" r="17.6"/><circle cx="455.4" cy="588.6" r="17.6"/><circle cx="719.3" cy="1057.8" r="17.6"/><circle cx="1558.1" cy="1161.7" r="17.6"/><circle cx="1009.5" cy="1031.4" r="17.6"/><circle cx="631.0" cy="816.8" r="17.6"/><circle cx="1008.2" cy="951.0" r="17.6"/><circle cx="1049.1" cy="1032.4" r="17.6"/><circle cx="1789.5" cy="1263.6" r="17.6"/><circle cx="1253.3" cy="1297.1" r="17.6"/><circle cx="1619.1" cy="957.3" r="17.6"/><circle cx="1131.1" cy="1283.5" r="17.6"/><circle cx="521.2" cy="739.0" r="17.6"/><circle cx="1045.4" cy="1074.3" r="17.6"/><circle cx="620.0" cy="688.0" r="17.6"/><circle cx="2073.3" cy="950.6" r="17.6"/><circle cx="2208.5" cy="791.8" r="17.6"/><circle cx="1950.7" cy="924.0" r="17.6"/><circle cx="614.5" cy="1042.1" r="17.6"/><circle cx="451.4" cy="653.4" r="17.6"/><circle cx="845.0" cy="1182.5" r="17.6"/><circle cx="1806.7" cy="985.1" r="17.6"/><circle cx="1944.7" cy="1063.5" r="17.6"/><circle cx="1517.7" cy="1242.3" r="17.6"/><circle cx="1067.0" cy="1300.3" r="17.6"/><circle cx="462.7" cy="736.8" r="17.6"/><circle cx="1017.2" cy="1137.7" r="17.6"/><circle cx="1956.5" cy="839.0" r="17.6"/><circle cx="1527.6" cy="1376.5" r="17.6"/><circle cx="812.1" cy="1150.3" r="17.6"/><circle cx="1486.3" cy="959.5" r="17.6"/><circle cx="1676.7" cy="933.5" r="17.6"/><circle cx="1491.8" cy="1174.6" r="17.6"/><circle cx="1224.1" cy="1022.8" r="17.6"/><circle cx="1673.6" cy="1022.1" r="17.6"/><circle cx="1975.1" cy="981.2" r="17.6"/><circle cx="2207.5" cy="807.0" r="17.6"/><circle cx="1028.9" cy="1066.5" r="17.6"/><circle cx="1431.3" cy="1192.2" r="17.6"/><circle cx="1613.0" cy="1209.6" r="17.6"/><circle cx="817.9" cy="1082.6" r="17.6"/><circle cx="398.2" cy="426.0" r="17.6"/><circle cx="737.4" cy="1053.7" r="17.6"/><circle cx="1965.6" cy="1021.2" r="17.6"/><circle cx="2223.9" cy="487.9" r="17.6"/><circle cx="2139.8" cy="595.9" r="17.6"/><circle cx="1622.7" cy="1065.5" r="17.6"/><circle cx="1545.9" cy="1361.3" r="17.6"/><circle cx="2202.2" cy="839.0" r="17.6"/><circle cx="1407.6" cy="1097.4" r="17.6"/><circle cx="2015.1" cy="1022.4" r="17.6"/><circle cx="1332.7" cy="1008.5" r="17.6"/><circle cx="1011.9" cy="1230.3" r="17.6"/><circle cx="2099.7" cy="1052.3" r="17.6"/><circle cx="691.4" cy="1154.1" r="17.6"/><circle cx="1041.3" cy="1174.8" r="17.6"/><circle cx="883.3" cy="1110.2" r="17.6"/><circle cx="488.6" cy="629.1" r="17.6"/><circle cx="2124.3" cy="974.4" r="17.6"/><circle cx="2079.0" cy="620.3" r="17.6"/><circle cx="647.1" cy="1071.4" r="17.6"/><circle cx="1739.4" cy="987.5" r="17.6"/><circle cx="1255.1" cy="1292.0" r="17.6"/><circle cx="1531.5" cy="1236.4" r="17.6"/><circle cx="529.7" cy="767.1" r="17.6"/><circle cx="2057.1" cy="786.1" r="17.6"/><circle cx="1700.4" cy="1051.4" r="17.6"/><circle cx="2074.3" cy="853.5" r="17.6"/><circle cx="690.2" cy="1002.2" r="17.6"/><circle cx="1230.3" cy="996.6" r="17.6"/><circle cx="1298.9" cy="1270.5" r="17.6"/><circle cx="836.6" cy="1020.8" r="17.6"/><circle cx="1202.1" cy="1081.5" r="17.6"/><circle cx="1214.8" cy="1283.3" r="17.6"/><circle cx="1455.2" cy="1225.9" r="17.6"/><circle cx="1943.7" cy="1194.7" r="17.6"/><circle cx="685.3" cy="1206.0" r="17.6"/><circle cx="2115.9" cy="854.5" r="17.6"/><circle cx="846.4" cy="869.7" r="17.6"/><circle cx="872.9" cy="1158.4" r="17.6"/><circle cx="1787.4" cy="1336.0" r="17.6"/><circle cx="1114.0" cy="1047.4" r="17.6"/><circle cx="1456.2" cy="1109.9" r="17.6"/><circle cx="2050.6" cy="779.9" r="17.6"/><circle cx="1716.9" cy="1209.7" r="17.6"/><circle cx="1717.7" cy="976.6" r="17.6"/><circle cx="540.3" cy="946.6" r="17.6"/><circle cx="603.1" cy="1198.8" r="17.6"/><circle cx="1895.4" cy="990.0" r="17.6"/><circle cx="1754.0" cy="1152.8" r="17.6"/><circle cx="434.4" cy="446.5" r="17.6"/><circle cx="1287.2" cy="1406.1" r="17.6"/><circle cx="1693.1" cy="1271.4" r="17.6"/><circle cx="1288.9" cy="1146.0" r="17.6"/><circle cx="448.7" cy="476.4" r="17.6"/><circle cx="1641.8" cy="1033.6" r="17.6"/><circle cx="1613.1" cy="1135.4" r="17.6"/><circle cx="1903.1" cy="816.4" r="17.6"/><circle cx="936.1" cy="1033.7" r="17.6"/><circle cx="450.5" cy="581.6" r="17.6"/><circle cx="1771.7" cy="1180.0" r="17.6"/><circle cx="449.9" cy="933.7" r="17.6"/><circle cx="1389.1" cy="995.8" r="17.6"/><circle cx="879.2" cy="1289.2" r="17.6"/><circle cx="1204.7" cy="1075.5" r="17.6"/><circle cx="895.9" cy="1216.0" r="17.6"/><circle cx="1136.9" cy="1157.2" r="17.6"/><circle cx="617.8" cy="1119.6" r="17.6"/><circle cx="605.2" cy="675.8" r="17.6"/><circle cx="782.5" cy="1139.0" r="17.6"/><circle cx="1834.1" cy="960.0" r="17.6"/><circle cx="1381.4" cy="1196.0" r="17.6"/><circle cx="1820.5" cy="879.5" r="17.6"/><circle cx="2118.4" cy="787.9" r="17.6"/><circle cx="1150.0" cy="1131.5" r="17.6"/><circle cx="945.0" cy="1064.9" r="17.6"/><circle cx="1152.7" cy="1057.4" r="17.6"/><circle cx="1685.5" cy="1103.9" r="17.6"/><circle cx="1814.0" cy="1008.3" r="17.6"/><circle cx="1473.9" cy="1210.6" r="17.6"/><circle cx="1708.8" cy="1288.7" r="17.6"/><circle cx="996.3" cy="1235.0" r="17.6"/><circle cx="2130.0" cy="737.8" r="17.6"/><circle cx="375.4" cy="641.8" r="17.6"/><circle cx="944.0" cy="1309.4" r="17.6"/><circle cx="1046.2" cy="1219.4" r="17.6"/><circle cx="539.2" cy="1061.1" r="17.6"/><circle cx="1665.7" cy="1071.9" r="17.6"/><circle cx="2142.0" cy="653.7" r="17.6"/><circle cx="1602.1" cy="1105.5" r="17.6"/><circle cx="556.1" cy="682.4" r="17.6"/><circle cx="2125.3" cy="857.1" r="17.6"/><circle cx="2014.3" cy="708.1" r="17.6"/><circle cx="2183.2" cy="1077.7" r="17.6"/><circle cx="1172.2" cy="1048.9" r="17.6"/><circle cx="649.4" cy="754.7" r="17.6"/><circle cx="1905.4" cy="1119.6" r="17.6"/><circle cx="802.7" cy="929.4" r="17.6"/><circle cx="1713.0" cy="1140.4" r="17.6"/><circle cx="1482.5" cy="1224.2" r="17.6"/><circle cx="2012.6" cy="977.0" r="17.6"/><circle cx="1750.3" cy="909.6" r="17.6"/><circle cx="2150.1" cy="1145.4" r="17.6"/><circle cx="868.3" cy="996.3" r="17.6"/><circle cx="1191.1" cy="1320.1" r="17.6"/><circle cx="1535.9" cy="1243.9" r="17.6"/><circle cx="622.3" cy="726.7" r="17.6"/><circle cx="1694.7" cy="925.3" r="17.6"/><circle cx="545.9" cy="833.5" r="17.6"/><circle cx="937.3" cy="1228.4" r="17.6"/><circle cx="1466.3" cy="1349.2" r="17.6"/><circle cx="2178.8" cy="728.4" r="17.6"/><circle cx="520.1" cy="922.6" r="17.6"/><circle cx="1243.4" cy="1136.5" r="17.6"/><circle cx="1085.8" cy="1171.7" r="17.6"/><circle cx="951.1" cy="943.7" r="17.6"/><circle cx="1257.3" cy="1136.7" r="17.6"/><circle cx="1173.9" cy="1211.7" r="17.6"/><circle cx="1919.7" cy="1252.3" r="17.6"/><circle cx="1200.7" cy="1241.2" r="17.6"/><circle cx="1900.2" cy="1079.6" r="17.6"/><circle cx="1943.6" cy="1018.5" r="17.6"/><circle cx="811.8" cy="850.2" r="17.6"/><circle cx="1716.3" cy="986.5" r="17.6"/><circle cx="2095.7" cy="1069.3" r="17.6"/><circle cx="1243.4" cy="1051.9" r="17.6"/><circle cx="2137.6" cy="662.1" r="17.6"/><circle cx="862.5" cy="907.5" r="17.6"/><circle cx="1961.5" cy="736.3" r="17.6"/><circle cx="1408.6" cy="1074.1" r="17.6"/><circle cx="1144.1" cy="1315.0" r="17.6"/><circle cx="2170.2" cy="848.5" r="17.6"/><circle cx="1370.5" cy="1049.2" r="17.6"/><circle cx="1624.8" cy="968.9" r="17.6"/><circle cx="2125.8" cy="1020.0" r="17.6"/><circle cx="1026.9" cy="1179.4" r="17.6"/><circle cx="2087.9" cy="798.8" r="17.6"/><circle cx="1402.3" cy="1281.4" r="17.6"/><circle cx="405.5" cy="1039.3" r="17.6"/><circle cx="2019.1" cy="780.3" r="17.6"/><circle cx="557.7" cy="641.2" r="17.6"/><circle cx="851.4" cy="1087.4" r="17.6"/><circle cx="645.8" cy="835.2" r="17.6"/><circle cx="1054.2" cy="947.8" r="17.6"/><circle cx="1123.4" cy="1327.6" r="17.6"/><circle cx="999.0" cy="1059.8" r="17.6"/><circle cx="1993.3" cy="752.2" r="17.6"/><circle cx="597.1" cy="661.1" r="17.6"/><circle cx="1246.3" cy="1080.4" r="17.6"/><circle cx="643.3" cy="710.5" r="17.6"/><circle cx="2228.0" cy="839.0" r="17.6"/><circle cx="1219.4" cy="1320.7" r="17.6"/><circle cx="1067.8" cy="1131.7" r="17.6"/><circle cx="1329.9" cy="1125.3" r="17.6"/><circle cx="1393.4" cy="1154.3" r="17.6"/><circle cx="1120.7" cy="1035.9" r="17.6"/><circle cx="1687.8" cy="1032.8" r="17.6"/><circle cx="1158.0" cy="982.9" r="17.6"/><circle cx="1176.3" cy="997.8" r="17.6"/><circle cx="2091.0" cy="784.5" r="17.6"/><circle cx="2212.7" cy="674.3" r="17.6"/><circle cx="1598.5" cy="1172.9" r="17.6"/><circle cx="900.7" cy="1263.5" r="17.6"/><circle cx="1041.5" cy="1136.8" r="17.6"/><circle cx="959.3" cy="1127.3" r="17.6"/><circle cx="2063.0" cy="665.2" r="17.6"/><circle cx="464.7" cy="922.2" r="17.6"/><circle cx="919.9" cy="1113.0" r="17.6"/><circle cx="1913.4" cy="1153.2" r="17.6"/><circle cx="1032.2" cy="1232.3" r="17.6"/><circle cx="1716.0" cy="926.8" r="17.6"/><circle cx="2164.4" cy="532.0" r="17.6"/><circle cx="1392.2" cy="1232.3" r="17.6"/><circle cx="557.6" cy="632.7" r="17.6"/><circle cx="1140.2" cy="1164.6" r="17.6"/><circle cx="2222.8" cy="782.9" r="17.6"/><circle cx="1875.7" cy="1288.8" r="17.6"/><circle cx="569.0" cy="749.9" r="17.6"/><circle cx="1721.9" cy="1378.0" r="17.6"/><circle cx="480.0" cy="1033.1" r="17.6"/><circle cx="1733.7" cy="1036.0" r="17.6"/><circle cx="1944.3" cy="1110.8" r="17.6"/><circle cx="759.1" cy="938.3" r="17.6"/><circle cx="1093.6" cy="1052.4" r="17.6"/><circle cx="2149.0" cy="621.7" r="17.6"/><circle cx="1110.8" cy="1261.6" r="17.6"/><circle cx="2132.7" cy="568.5" r="17.6"/><circle cx="2213.5" cy="746.1" r="17.6"/><circle cx="1629.0" cy="992.8" r="17.6"/><circle cx="734.8" cy="1149.8" r="17.6"/><circle cx="1179.5" cy="1113.4" r="17.6"/><circle cx="617.3" cy="1198.7" r="17.6"/><circle cx="424.4" cy="1109.4" r="17.6"/><circle cx="1700.3" cy="1147.6" r="17.6"/><circle cx="1282.8" cy="1136.0" r="17.6"/><circle cx="1791.0" cy="948.3" r="17.6"/><circle cx="684.7" cy="910.2" r="17.6"/><circle cx="915.3" cy="1254.1" r="17.6"/><circle cx="1024.8" cy="966.4" r="17.6"/><circle cx="646.9" cy="1045.1" r="17.6"/><circle cx="960.5" cy="1007.2" r="17.6"/><circle cx="576.0" cy="728.6" r="17.6"/><circle cx="425.3" cy="446.2" r="17.6"/><circle cx="1136.5" cy="1389.9" r="17.6"/><circle cx="404.9" cy="704.9" r="17.6"/><circle cx="1832.0" cy="1024.2" r="17.6"/><circle cx="1414.1" cy="1096.2" r="17.6"/><circle cx="1901.4" cy="966.2" r="17.6"/><circle cx="922.5" cy="929.5" r="17.6"/><circle cx="742.5" cy="1016.2" r="17.6"/><circle cx="538.8" cy="1099.2" r="17.6"/><circle cx="1526.1" cy="1008.9" r="17.6"/><circle cx="1669.3" cy="966.1" r="17.6"/><circle cx="2114.4" cy="589.4" r="17.6"/><circle cx="2243.1" cy="694.8" r="17.6"/><circle cx="1965.5" cy="1211.4" r="17.6"/><circle cx="2256.8" cy="388.6" r="17.6"/><circle cx="1628.7" cy="1260.8" r="17.6"/><circle cx="993.1" cy="1213.4" r="17.6"/><circle cx="853.9" cy="1270.7" r="17.6"/><circle cx="1493.4" cy="1341.0" r="17.6"/><circle cx="1128.6" cy="1041.4" r="17.6"/><circle cx="1612.0" cy="1254.4" r="17.6"/><circle cx="713.6" cy="1238.0" r="17.6"/><circle cx="1236.6" cy="967.9" r="17.6"/><circle cx="890.3" cy="1322.5" r="17.6"/><circle cx="1203.8" cy="1215.3" r="17.6"/><circle cx="729.4" cy="905.6" r="17.6"/><circle cx="2087.5" cy="709.7" r="17.6"/><circle cx="1624.9" cy="1331.5" r="17.6"/><circle cx="853.6" cy="1328.9" r="17.6"/><circle cx="863.1" cy="994.7" r="17.6"/><circle cx="2099.5" cy="689.1" r="17.6"/><circle cx="1586.1" cy="1248.1" r="17.6"/><circle cx="1218.0" cy="1102.2" r="17.6"/><circle cx="828.8" cy="1048.9" r="17.6"/><circle cx="1471.5" cy="1355.2" r="17.6"/><circle cx="431.2" cy="474.8" r="17.6"/><circle cx="1978.0" cy="865.4" r="17.6"/><circle cx="1903.5" cy="1064.0" r="17.6"/><circle cx="728.9" cy="883.7" r="17.6"/><circle cx="765.8" cy="887.2" r="17.6"/><circle cx="1749.7" cy="1122.1" r="17.6"/><circle cx="1102.1" cy="1079.0" r="17.6"/><circle cx="1934.5" cy="938.4" r="17.6"/><circle cx="958.3" cy="922.4" r="17.6"/><circle cx="1604.8" cy="933.5" r="17.6"/><circle cx="847.6" cy="1281.3" r="17.6"/><circle cx="844.6" cy="1239.0" r="17.6"/><circle cx="1760.4" cy="1101.9" r="17.6"/><circle cx="785.0" cy="1055.4" r="17.6"/><circle cx="1679.4" cy="1111.3" r="17.6"/><circle cx="1655.2" cy="1210.0" r="17.6"/><circle cx="1313.9" cy="996.8" r="17.6"/><circle cx="1128.2" cy="1018.2" r="17.6"/><circle cx="1383.8" cy="1054.0" r="17.6"/><circle cx="2186.1" cy="666.8" r="17.6"/><circle cx="744.7" cy="1172.6" r="17.6"/><circle cx="2256.8" cy="757.9" r="17.6"/><circle cx="1084.3" cy="1026.5" r="17.6"/><circle cx="1775.0" cy="1098.7" r="17.6"/><circle cx="1388.2" cy="1125.2" r="17.6"/><circle cx="2080.8" cy="804.8" r="17.6"/><circle cx="417.7" cy="656.3" r="17.6"/><circle cx="1958.0" cy="738.4" r="17.6"/><circle cx="639.1" cy="718.3" r="17.6"/><circle cx="1829.9" cy="907.8" r="17.6"/><circle cx="812.5" cy="893.1" r="17.6"/><circle cx="377.6" cy="566.1" r="17.6"/><circle cx="460.6" cy="1094.1" r="17.6"/><circle cx="1911.1" cy="1277.1" r="17.6"/><circle cx="1756.9" cy="1058.7" r="17.6"/><circle cx="1498.4" cy="1099.3" r="17.6"/><circle cx="1552.0" cy="957.9" r="17.6"/><circle cx="2091.5" cy="1052.2" r="17.6"/><circle cx="2149.2" cy="993.0" r="17.6"/><circle cx="1454.9" cy="1347.2" r="17.6"/><circle cx="1426.9" cy="1209.0" r="17.6"/><circle cx="507.2" cy="984.7" r="17.6"/><circle cx="1240.5" cy="1004.0" r="17.6"/><circle cx="826.7" cy="1059.5" r="17.6"/><circle cx="966.9" cy="1057.6" r="17.6"/><circle cx="1203.1" cy="977.3" r="17.6"/><circle cx="1435.8" cy="1169.7" r="17.6"/><circle cx="625.8" cy="1107.5" r="17.6"/><circle cx="1533.0" cy="1229.3" r="17.6"/><circle cx="1191.1" cy="1026.4" r="17.6"/><circle cx="540.6" cy="689.3" r="17.6"/><circle cx="485.6" cy="800.4" r="17.6"/><circle cx="755.3" cy="1008.8" r="17.6"/><circle cx="464.1" cy="572.1" r="17.6"/><circle cx="408.2" cy="518.9" r="17.6"/><circle cx="729.5" cy="801.3" r="17.6"/><circle cx="1293.7" cy="1025.1" r="17.6"/><circle cx="1718.0" cy="1039.9" r="17.6"/><circle cx="1884.8" cy="968.6" r="17.6"/><circle cx="1896.5" cy="1100.9" r="17.6"/><circle cx="735.4" cy="997.4" r="17.6"/><circle cx="1646.9" cy="1079.2" r="17.6"/><circle cx="1404.2" cy="1030.3" r="17.6"/><circle cx="901.9" cy="1020.2" r="17.6"/><circle cx="1402.8" cy="1286.6" r="17.6"/><circle cx="1982.5" cy="1054.6" r="17.6"/><circle cx="1362.3" cy="1226.5" r="17.6"/><circle cx="1403.6" cy="1148.1" r="17.6"/><circle cx="633.5" cy="984.4" r="17.6"/><circle cx="2174.1" cy="644.7" r="17.6"/><circle cx="1682.6" cy="1115.3" r="17.6"/><circle cx="1582.8" cy="948.4" r="17.6"/><circle cx="1218.1" cy="1020.3" r="17.6"/><circle cx="765.8" cy="852.8" r="17.6"/><circle cx="461.1" cy="741.0" r="17.6"/><circle cx="1860.3" cy="851.7" r="17.6"/><circle cx="2056.5" cy="896.1" r="17.6"/><circle cx="1128.8" cy="1044.1" r="17.6"/><circle cx="1208.3" cy="1238.3" r="17.6"/><circle cx="1077.9" cy="1161.4" r="17.6"/><circle cx="1680.0" cy="1291.3" r="17.6"/><circle cx="1538.4" cy="1163.0" r="17.6"/><circle cx="1473.4" cy="960.3" r="17.6"/><circle cx="549.7" cy="721.5" r="17.6"/><circle cx="517.8" cy="1014.1" r="17.6"/><circle cx="1099.1" cy="1409.2" r="17.6"/><circle cx="2052.0" cy="763.7" r="17.6"/><circle cx="649.0" cy="1097.4" r="17.6"/><circle cx="2150.3" cy="810.3" r="17.6"/><circle cx="1070.5" cy="1361.3" r="17.6"/><circle cx="874.9" cy="932.0" r="17.6"/><circle cx="1175.1" cy="1359.6" r="17.6"/><circle cx="794.7" cy="1001.5" r="17.6"/><circle cx="1348.8" cy="1282.9" r="17.6"/><circle cx="2172.4" cy="623.5" r="17.6"/><circle cx="641.6" cy="934.1" r="17.6"/><circle cx="920.6" cy="1083.6" r="17.6"/><circle cx="438.4" cy="787.4" r="17.6"/><circle cx="1438.2" cy="1346.9" r="17.6"/><circle cx="958.0" cy="1073.3" r="17.6"/><circle cx="469.1" cy="603.8" r="17.6"/><circle cx="503.5" cy="841.7" r="17.6"/><circle cx="625.1" cy="1157.6" r="17.6"/><circle cx="485.0" cy="607.7" r="17.6"/><circle cx="896.9" cy="1094.2" r="17.6"/><circle cx="762.5" cy="1030.9" r="17.6"/><circle cx="2097.3" cy="684.2" r="17.6"/><circle cx="1207.6" cy="1223.9" r="17.6"/><circle cx="905.5" cy="1186.1" r="17.6"/><circle cx="1112.0" cy="1203.2" r="17.6"/><circle cx="421.2" cy="826.1" r="17.6"/><circle cx="2139.5" cy="742.0" r="17.6"/><circle cx="389.2" cy="951.2" r="17.6"/><circle cx="2103.8" cy="626.1" r="17.6"/><circle cx="660.5" cy="949.9" r="17.6"/><circle cx="1271.5" cy="1206.7" r="17.6"/><circle cx="1012.9" cy="1067.6" r="17.6"/><circle cx="1334.3" cy="1137.3" r="17.6"/><circle cx="1971.0" cy="1116.9" r="17.6"/><circle cx="1461.6" cy="1262.8" r="17.6"/><circle cx="1033.9" cy="941.1" r="17.6"/><circle cx="612.3" cy="861.3" r="17.6"/><circle cx="1996.4" cy="1122.2" r="17.6"/><circle cx="1635.1" cy="1387.5" r="17.6"/><circle cx="2034.4" cy="877.1" r="17.6"/><circle cx="868.6" cy="1159.2" r="17.6"/><circle cx="476.8" cy="1078.4" r="17.6"/><circle cx="1011.2" cy="964.9" r="17.6"/><circle cx="1215.5" cy="1183.2" r="17.6"/><circle cx="502.5" cy="928.8" r="17.6"/><circle cx="398.4" cy="459.3" r="17.6"/><circle cx="435.3" cy="514.1" r="17.6"/><circle cx="1523.0" cy="1184.4" r="17.6"/><circle cx="969.3" cy="1134.2" r="17.6"/><circle cx="1523.7" cy="985.9" r="17.6"/><circle cx="1853.0" cy="904.9" r="17.6"/><circle cx="425.3" cy="568.3" r="17.6"/><circle cx="656.2" cy="1124.5" r="17.6"/><circle cx="911.1" cy="1191.9" r="17.6"/><circle cx="2149.2" cy="874.8" r="17.6"/><circle cx="878.1" cy="1086.6" r="17.6"/><circle cx="1857.3" cy="955.5" r="17.6"/><circle cx="1723.7" cy="917.5" r="17.6"/><circle cx="1551.7" cy="966.0" r="17.6"/><circle cx="2199.2" cy="912.2" r="17.6"/><circle cx="771.5" cy="976.2" r="17.6"/><circle cx="1213.7" cy="1157.4" r="17.6"/><circle cx="843.8" cy="1154.3" r="17.6"/><circle cx="2160.9" cy="551.3" r="17.6"/><circle cx="1667.3" cy="1056.7" r="17.6"/><circle cx="2113.0" cy="841.5" r="17.6"/><circle cx="461.8" cy="861.4" r="17.6"/><circle cx="882.8" cy="1201.8" r="17.6"/><circle cx="2021.2" cy="943.4" r="17.6"/><circle cx="1792.1" cy="871.6" r="17.6"/><circle cx="2122.9" cy="992.9" r="17.6"/><circle cx="1232.3" cy="1411.3" r="17.6"/><circle cx="1444.9" cy="1142.7" r="17.6"/><circle cx="1891.2" cy="1043.9" r="17.6"/><circle cx="1872.2" cy="807.4" r="17.6"/><circle cx="552.8" cy="945.8" r="17.6"/><circle cx="746.5" cy="927.8" r="17.6"/><circle cx="1157.3" cy="1004.7" r="17.6"/><circle cx="1946.3" cy="1295.2" r="17.6"/><circle cx="1830.8" cy="858.7" r="17.6"/><circle cx="1428.7" cy="998.8" r="17.6"/><circle cx="1223.5" cy="1146.9" r="17.6"/><circle cx="400.6" cy="829.1" r="17.6"/><circle cx="1304.6" cy="1243.8" r="17.6"/><circle cx="1535.6" cy="1032.0" r="17.6"/><circle cx="528.8" cy="952.9" r="17.6"/><circle cx="379.2" cy="925.8" r="17.6"/><circle cx="2086.9" cy="764.4" r="17.6"/><circle cx="402.1" cy="640.8" r="17.6"/><circle cx="892.9" cy="957.7" r="17.6"/><circle cx="1884.4" cy="806.7" r="17.6"/><circle cx="781.3" cy="1076.4" r="17.6"/><circle cx="767.8" cy="1259.8" r="17.6"/><circle cx="1120.6" cy="1240.2" r="17.6"/><circle cx="798.6" cy="1014.3" r="17.6"/><circle cx="638.2" cy="1253.5" r="17.6"/><circle cx="1899.5" cy="1289.9" r="17.6"/><circle cx="1751.7" cy="927.6" r="17.6"/><circle cx="1419.1" cy="1326.4" r="17.6"/><circle cx="1487.1" cy="1008.5" r="17.6"/><circle cx="821.2" cy="1248.9" r="17.6"/><circle cx="674.9" cy="1279.8" r="17.6"/><circle cx="1608.9" cy="1037.4" r="17.6"/><circle cx="1962.1" cy="1100.6" r="17.6"/><circle cx="1017.5" cy="1318.8" r="17.6"/><circle cx="2006.5" cy="1137.6" r="17.6"/><circle cx="873.9" cy="997.9" r="17.6"/><circle cx="967.1" cy="926.2" r="17.6"/><circle cx="2118.8" cy="901.4" r="17.6"/><circle cx="1486.3" cy="1023.4" r="17.6"/><circle cx="2252.0" cy="357.5" r="17.6"/><circle cx="617.2" cy="767.3" r="17.6"/><circle cx="1909.0" cy="1094.1" r="17.6"/><circle cx="870.1" cy="1271.7" r="17.6"/><circle cx="523.2" cy="985.4" r="17.6"/><circle cx="2238.4" cy="522.7" r="17.6"/><circle cx="1219.4" cy="1075.0" r="17.6"/><circle cx="2213.2" cy="738.9" r="17.6"/><circle cx="482.4" cy="661.9" r="17.6"/><circle cx="1427.5" cy="1244.6" r="17.6"/><circle cx="1349.1" cy="1417.6" r="17.6"/><circle cx="1307.5" cy="1070.7" r="17.6"/><circle cx="1073.4" cy="1002.6" r="17.6"/><circle cx="2121.8" cy="1014.4" r="17.6"/><circle cx="2186.1" cy="860.9" r="17.6"/><circle cx="652.2" cy="1073.7" r="17.6"/><circle cx="651.7" cy="1040.5" r="17.6"/><circle cx="1108.1" cy="1039.5" r="17.6"/><circle cx="1428.4" cy="1059.2" r="17.6"/><circle cx="1898.8" cy="849.3" r="17.6"/><circle cx="615.9" cy="890.7" r="17.6"/><circle cx="1150.7" cy="1293.3" r="17.6"/><circle cx="377.4" cy="961.1" r="17.6"/><circle cx="505.2" cy="634.8" r="17.6"/><circle cx="2181.2" cy="535.3" r="17.6"/><circle cx="1696.0" cy="976.9" r="17.6"/><circle cx="1815.0" cy="1012.6" r="17.6"/><circle cx="1855.8" cy="1138.3" r="17.6"/><circle cx="1092.4" cy="1135.1" r="17.6"/><circle cx="455.3" cy="1069.5" r="17.6"/><circle cx="1444.9" cy="1114.7" r="17.6"/><circle cx="1004.8" cy="1058.5" r="17.6"/><circle cx="730.9" cy="1084.3" r="17.6"/><circle cx="577.2" cy="642.5" r="17.6"/><circle cx="2183.7" cy="571.9" r="17.6"/><circle cx="2015.3" cy="1151.0" r="17.6"/><circle cx="1883.4" cy="1031.3" r="17.6"/><circle cx="741.6" cy="846.5" r="17.6"/><circle cx="426.9" cy="450.4" r="17.6"/><circle cx="1299.1" cy="1260.8" r="17.6"/><circle cx="739.9" cy="937.8" r="17.6"/><circle cx="1991.8" cy="977.1" r="17.6"/><circle cx="754.5" cy="1101.3" r="17.6"/><circle cx="604.7" cy="753.6" r="17.6"/><circle cx="1651.4" cy="935.1" r="17.6"/><circle cx="2119.4" cy="624.8" r="17.6"/><circle cx="2211.6" cy="1066.8" r="17.6"/><circle cx="427.5" cy="678.0" r="17.6"/><circle cx="698.6" cy="1103.6" r="17.6"/><circle cx="1841.5" cy="1202.0" r="17.6"/><circle cx="1514.5" cy="1251.9" r="17.6"/><circle cx="889.1" cy="1009.0" r="17.6"/><circle cx="436.0" cy="607.0" r="17.6"/><circle cx="2230.6" cy="436.3" r="17.6"/><circle cx="735.2" cy="1073.9" r="17.6"/><circle cx="375.0" cy="1065.8" r="17.6"/><circle cx="1806.1" cy="1250.5" r="17.6"/><circle cx="1010.3" cy="990.6" r="17.6"/><circle cx="2236.5" cy="976.6" r="17.6"/><circle cx="1613.3" cy="1271.1" r="17.6"/><circle cx="791.9" cy="860.7" r="17.6"/><circle cx="2201.0" cy="640.7" r="17.6"/><circle cx="1649.2" cy="1004.2" r="17.6"/><circle cx="976.7" cy="1109.9" r="17.6"/><circle cx="1425.5" cy="1134.4" r="17.6"/><circle cx="2158.4" cy="887.0" r="17.6"/><circle cx="1381.6" cy="1177.7" r="17.6"/><circle cx="826.5" cy="1174.7" r="17.6"/><circle cx="1429.8" cy="1095.2" r="17.6"/><circle cx="2071.0" cy="650.6" r="17.6"/><circle cx="768.5" cy="942.5" r="17.6"/><circle cx="1750.3" cy="881.3" r="17.6"/><circle cx="1480.0" cy="1124.1" r="17.6"/><circle cx="429.0" cy="602.6" r="17.6"/><circle cx="532.4" cy="633.6" r="17.6"/><circle cx="1307.6" cy="1315.3" r="17.6"/><circle cx="1065.0" cy="948.7" r="17.6"/><circle cx="1436.6" cy="1072.5" r="17.6"/><circle cx="1349.8" cy="1148.3" r="17.6"/><circle cx="2059.8" cy="798.4" r="17.6"/><circle cx="1354.1" cy="1109.5" r="17.6"/><circle cx="423.9" cy="827.5" r="17.6"/><circle cx="1564.3" cy="1332.8" r="17.6"/><circle cx="898.2" cy="1365.7" r="17.6"/><circle cx="596.0" cy="777.4" r="17.6"/><circle cx="598.9" cy="1212.3" r="17.6"/><circle cx="1944.2" cy="870.1" r="17.6"/><circle cx="1906.8" cy="1142.3" r="17.6"/><circle cx="1485.3" cy="966.4" r="17.6"/><circle cx="1950.1" cy="980.1" r="17.6"/><circle cx="1007.5" cy="934.0" r="17.6"/><circle cx="1577.9" cy="1225.5" r="17.6"/><circle cx="1259.5" cy="978.8" r="17.6"/><circle cx="1646.3" cy="1028.4" r="17.6"/><circle cx="629.4" cy="1038.3" r="17.6"/><circle cx="969.2" cy="1179.9" r="17.6"/><circle cx="546.9" cy="1074.6" r="17.6"/><circle cx="2174.9" cy="495.1" r="17.6"/><circle cx="456.6" cy="997.7" r="17.6"/><circle cx="2174.5" cy="500.3" r="17.6"/><circle cx="1624.7" cy="1345.6" r="17.6"/><circle cx="492.0" cy="915.8" r="17.6"/><circle cx="1101.7" cy="1319.1" r="17.6"/><circle cx="2141.5" cy="837.1" r="17.6"/><circle cx="1870.4" cy="964.2" r="17.6"/><circle cx="1855.7" cy="878.4" r="17.6"/><circle cx="2105.1" cy="686.6" r="17.6"/><circle cx="793.7" cy="1090.9" r="17.6"/><circle cx="485.8" cy="672.5" r="17.6"/><circle cx="1613.7" cy="1176.9" r="17.6"/><circle cx="1203.2" cy="1219.1" r="17.6"/><circle cx="1357.5" cy="1004.4" r="17.6"/><circle cx="1485.0" cy="1394.6" r="17.6"/><circle cx="373.1" cy="740.6" r="17.6"/><circle cx="896.5" cy="961.3" r="17.6"/><circle cx="780.9" cy="838.7" r="17.6"/><circle cx="445.7" cy="492.6" r="17.6"/><circle cx="685.7" cy="985.5" r="17.6"/><circle cx="1134.0" cy="1160.3" r="17.6"/><circle cx="433.7" cy="816.2" r="17.6"/><circle cx="1427.4" cy="1289.8" r="17.6"/><circle cx="1219.5" cy="979.9" r="17.6"/><circle cx="766.1" cy="978.8" r="17.6"/><circle cx="1500.1" cy="972.9" r="17.6"/><circle cx="1566.1" cy="1065.3" r="17.6"/><circle cx="1326.7" cy="1226.8" r="17.6"/><circle cx="2069.4" cy="955.7" r="17.6"/><circle cx="1744.9" cy="916.6" r="17.6"/><circle cx="877.1" cy="1080.7" r="17.6"/><circle cx="1854.6" cy="1106.8" r="17.6"/><circle cx="868.0" cy="1013.3" r="17.6"/><circle cx="1501.8" cy="1098.9" r="17.6"/><circle cx="763.1" cy="1073.9" r="17.6"/><circle cx="1673.3" cy="1119.4" r="17.6"/><circle cx="390.2" cy="923.8" r="17.6"/><circle cx="724.2" cy="981.3" r="17.6"/><circle cx="1462.1" cy="968.6" r="17.6"/><circle cx="516.3" cy="1038.3" r="17.6"/><circle cx="1223.0" cy="1090.3" r="17.6"/><circle cx="1503.2" cy="973.8" r="17.6"/><circle cx="1823.2" cy="1166.4" r="17.6"/><circle cx="1946.5" cy="1284.6" r="17.6"/><circle cx="2078.5" cy="1028.6" r="17.6"/><circle cx="982.6" cy="1212.9" r="17.6"/><circle cx="662.0" cy="805.1" r="17.6"/><circle cx="444.8" cy="915.0" r="17.6"/><circle cx="456.3" cy="1044.6" r="17.6"/><circle cx="785.5" cy="1329.0" r="17.6"/><circle cx="477.5" cy="927.7" r="17.6"/><circle cx="1726.9" cy="884.3" r="17.6"/><circle cx="1868.7" cy="1185.4" r="17.6"/><circle cx="437.3" cy="623.2" r="17.6"/><circle cx="2091.7" cy="893.0" r="17.6"/><circle cx="1172.6" cy="1255.0" r="17.6"/><circle cx="2055.4" cy="1213.0" r="17.6"/><circle cx="686.2" cy="1035.4" r="17.6"/><circle cx="2058.9" cy="689.2" r="17.6"/><circle cx="1364.8" cy="1273.5" r="17.6"/><circle cx="1554.2" cy="962.2" r="17.6"/><circle cx="954.3" cy="1089.5" r="17.6"/><circle cx="1974.4" cy="1146.4" r="17.6"/><circle cx="1557.5" cy="1198.0" r="17.6"/><circle cx="756.3" cy="895.7" r="17.6"/><circle cx="1593.9" cy="1397.2" r="17.6"/><circle cx="2155.6" cy="652.8" r="17.6"/><circle cx="1631.9" cy="1179.7" r="17.6"/><circle cx="2162.3" cy="532.3" r="17.6"/><circle cx="2022.6" cy="723.5" r="17.6"/><circle cx="1322.4" cy="1087.2" r="17.6"/><circle cx="524.9" cy="1101.9" r="17.6"/><circle cx="530.6" cy="1023.6" r="17.6"/><circle cx="1627.1" cy="1155.9" r="17.6"/><circle cx="1324.6" cy="1218.0" r="17.6"/><circle cx="2179.8" cy="795.9" r="17.6"/><circle cx="2174.3" cy="1006.6" r="17.6"/><circle cx="1641.7" cy="1271.6" r="17.6"/><circle cx="922.0" cy="1269.7" r="17.6"/><circle cx="422.1" cy="862.9" r="17.6"/><circle cx="1465.9" cy="1071.9" r="17.6"/><circle cx="1469.9" cy="1120.3" r="17.6"/><circle cx="1144.3" cy="973.2" r="17.6"/><circle cx="1728.9" cy="1153.9" r="17.6"/><circle cx="2203.8" cy="1078.8" r="17.6"/><circle cx="764.0" cy="938.7" r="17.6"/><circle cx="1019.4" cy="992.1" r="17.6"/><circle cx="925.2" cy="964.6" r="17.6"/><circle cx="1484.2" cy="1355.7" r="17.6"/><circle cx="2200.3" cy="507.7" r="17.6"/><circle cx="641.4" cy="1055.1" r="17.6"/><circle cx="1190.3" cy="1181.2" r="17.6"/><circle cx="572.8" cy="839.8" r="17.6"/><circle cx="943.9" cy="1122.3" r="17.6"/><circle cx="702.6" cy="1163.6" r="17.6"/><circle cx="1781.8" cy="1088.9" r="17.6"/><circle cx="1170.1" cy="1304.1" r="17.6"/><circle cx="1752.8" cy="1021.2" r="17.6"/><circle cx="922.4" cy="1184.1" r="17.6"/><circle cx="2208.2" cy="1046.0" r="17.6"/><circle cx="428.8" cy="762.5" r="17.6"/><circle cx="1832.8" cy="933.6" r="17.6"/><circle cx="1223.3" cy="1254.6" r="17.6"/><circle cx="596.3" cy="1153.5" r="17.6"/><circle cx="702.6" cy="851.2" r="17.6"/><circle cx="1972.1" cy="1096.2" r="17.6"/><circle cx="500.6" cy="1001.7" r="17.6"/><circle cx="1322.3" cy="1408.9" r="17.6"/><circle cx="555.6" cy="782.3" r="17.6"/><circle cx="572.2" cy="632.3" r="17.6"/><circle cx="483.8" cy="876.1" r="17.6"/><circle cx="2004.0" cy="959.3" r="17.6"/><circle cx="656.7" cy="857.6" r="17.6"/><circle cx="1353.7" cy="1170.7" r="17.6"/><circle cx="1839.8" cy="1082.5" r="17.6"/><circle cx="813.5" cy="1056.9" r="17.6"/><circle cx="2242.0" cy="979.0" r="17.6"/><circle cx="2090.4" cy="865.1" r="17.6"/><circle cx="409.7" cy="1072.3" r="17.6"/><circle cx="1009.6" cy="928.7" r="17.6"/><circle cx="2115.3" cy="641.9" r="17.6"/><circle cx="821.8" cy="974.6" r="17.6"/><circle cx="1295.9" cy="1298.3" r="17.6"/><circle cx="1962.7" cy="1249.1" r="17.6"/><circle cx="2071.8" cy="686.5" r="17.6"/><circle cx="801.5" cy="1044.0" r="17.6"/><circle cx="1787.2" cy="856.0" r="17.6"/><circle cx="373.0" cy="534.1" r="17.6"/><circle cx="1503.6" cy="1045.1" r="17.6"/><circle cx="1762.9" cy="905.3" r="17.6"/><circle cx="805.4" cy="1181.8" r="17.6"/><circle cx="738.3" cy="1101.3" r="17.6"/><circle cx="2118.5" cy="741.1" r="17.6"/><circle cx="875.1" cy="1224.5" r="17.6"/><circle cx="2059.0" cy="682.8" r="17.6"/><circle cx="946.1" cy="978.9" r="17.6"/><circle cx="523.8" cy="754.9" r="17.6"/><circle cx="1356.2" cy="1156.2" r="17.6"/><circle cx="2152.8" cy="998.2" r="17.6"/><circle cx="2173.0" cy="834.0" r="17.6"/><circle cx="2002.4" cy="1260.3" r="17.6"/><circle cx="975.8" cy="1238.4" r="17.6"/><circle cx="927.5" cy="946.7" r="17.6"/><circle cx="2079.9" cy="636.2" r="17.6"/><circle cx="1702.6" cy="1111.8" r="17.6"/><circle cx="573.0" cy="872.5" r="17.6"/><circle cx="1747.9" cy="1306.5" r="17.6"/><circle cx="1667.8" cy="1013.5" r="17.6"/><circle cx="395.8" cy="481.1" r="17.6"/><circle cx="432.8" cy="642.1" r="17.6"/><circle cx="2126.3" cy="987.9" r="17.6"/><circle cx="439.7" cy="865.3" r="17.6"/><circle cx="2057.9" cy="942.3" r="17.6"/><circle cx="2144.6" cy="815.8" r="17.6"/><circle cx="1051.7" cy="1043.1" r="17.6"/><circle cx="2112.0" cy="896.9" r="17.6"/><circle cx="731.1" cy="832.4" r="17.6"/><circle cx="708.5" cy="804.9" r="17.6"/><circle cx="665.5" cy="1106.9" r="17.6"/><circle cx="1392.3" cy="1256.1" r="17.6"/><circle cx="1449.4" cy="1181.8" r="17.6"/><circle cx="442.0" cy="590.3" r="17.6"/><circle cx="1860.0" cy="1171.6" r="17.6"/><circle cx="997.7" cy="1010.4" r="17.6"/><circle cx="387.3" cy="594.2" r="17.6"/><circle cx="575.5" cy="1177.6" r="17.6"/><circle cx="1003.2" cy="1349.1" r="17.6"/><circle cx="860.1" cy="965.8" r="17.6"/><circle cx="868.2" cy="951.1" r="17.6"/><circle cx="2088.8" cy="648.6" r="17.6"/><circle cx="1381.5" cy="1036.1" r="17.6"/><circle cx="1711.2" cy="1008.4" r="17.6"/><circle cx="849.7" cy="941.0" r="17.6"/><circle cx="1993.3" cy="1119.5" r="17.6"/><circle cx="1193.2" cy="1162.9" r="17.6"/><circle cx="1957.7" cy="1007.7" r="17.6"/><circle cx="942.5" cy="1325.4" r="17.6"/><circle cx="631.5" cy="854.2" r="17.6"/><circle cx="709.3" cy="985.8" r="17.6"/><circle cx="959.1" cy="1232.6" r="17.6"/><circle cx="1069.1" cy="941.8" r="17.6"/><circle cx="1717.9" cy="906.3" r="17.6"/><circle cx="1775.7" cy="1275.8" r="17.6"/><circle cx="444.0" cy="829.8" r="17.6"/><circle cx="1816.1" cy="1204.3" r="17.6"/><circle cx="898.0" cy="1224.6" r="17.6"/><circle cx="2048.8" cy="781.6" r="17.6"/><circle cx="806.8" cy="988.2" r="17.6"/><circle cx="895.7" cy="1201.3" r="17.6"/><circle cx="1945.9" cy="918.6" r="17.6"/><circle cx="2094.5" cy="743.7" r="17.6"/><circle cx="1864.3" cy="850.5" r="17.6"/><circle cx="695.1" cy="773.3" r="17.6"/><circle cx="980.6" cy="1174.3" r="17.6"/><circle cx="1949.5" cy="917.3" r="17.6"/><circle cx="1788.9" cy="856.9" r="17.6"/><circle cx="598.7" cy="824.5" r="17.6"/><circle cx="1878.6" cy="798.2" r="17.6"/><circle cx="1756.9" cy="1239.9" r="17.6"/><circle cx="1441.7" cy="1273.5" r="17.6"/><circle cx="1497.4" cy="1147.0" r="17.6"/><circle cx="389.9" cy="1022.6" r="17.6"/><circle cx="764.0" cy="949.3" r="17.6"/><circle cx="1698.6" cy="1181.6" r="17.6"/><circle cx="1420.3" cy="1201.0" r="17.6"/><circle cx="924.2" cy="1060.6" r="17.6"/><circle cx="1695.9" cy="1034.2" r="17.6"/><circle cx="875.8" cy="982.8" r="17.6"/><circle cx="1681.1" cy="1285.3" r="17.6"/><circle cx="1106.0" cy="1091.1" r="17.6"/><circle cx="890.4" cy="945.4" r="17.6"/><circle cx="671.5" cy="800.9" r="17.6"/><circle cx="809.3" cy="1091.4" r="17.6"/><circle cx="545.5" cy="809.7" r="17.6"/><circle cx="1288.4" cy="973.2" r="17.6"/><circle cx="1833.6" cy="909.9" r="17.6"/><circle cx="1849.0" cy="944.2" r="17.6"/><circle cx="1035.5" cy="971.0" r="17.6"/><circle cx="634.5" cy="1114.1" r="17.6"/><circle cx="1240.4" cy="1031.3" r="17.6"/><circle cx="2056.8" cy="844.5" r="17.6"/><circle cx="777.2" cy="1054.9" r="17.6"/><circle cx="719.5" cy="820.0" r="17.6"/><circle cx="509.9" cy="596.7" r="17.6"/><circle cx="1862.2" cy="929.8" r="17.6"/><circle cx="581.4" cy="995.3" r="17.6"/><circle cx="410.4" cy="542.5" r="17.6"/><circle cx="1620.2" cy="1330.1" r="17.6"/><circle cx="1692.5" cy="957.4" r="17.6"/><circle cx="489.1" cy="757.8" r="17.6"/><circle cx="1141.5" cy="958.4" r="17.6"/><circle cx="883.1" cy="987.5" r="17.6"/><circle cx="1183.0" cy="1298.9" r="17.6"/><circle cx="1476.6" cy="1036.5" r="17.6"/><circle cx="1510.7" cy="985.3" r="17.6"/><circle cx="533.0" cy="790.3" r="17.6"/><circle cx="1998.1" cy="714.2" r="17.6"/><circle cx="467.6" cy="893.1" r="17.6"/><circle cx="1745.5" cy="1249.7" r="17.6"/><circle cx="1092.2" cy="989.1" r="17.6"/><circle cx="1906.6" cy="785.8" r="17.6"/><circle cx="945.0" cy="986.2" r="17.6"/><circle cx="568.4" cy="869.1" r="17.6"/><circle cx="2006.1" cy="790.3" r="17.6"/><circle cx="1351.1" cy="1026.7" r="17.6"/><circle cx="552.3" cy="1167.5" r="17.6"/><circle cx="460.7" cy="848.8" r="17.6"/><circle cx="739.3" cy="863.4" r="17.6"/><circle cx="1256.9" cy="1119.2" r="17.6"/><circle cx="916.8" cy="1268.6" r="17.6"/><circle cx="1105.3" cy="1265.5" r="17.6"/><circle cx="1108.7" cy="1245.3" r="17.6"/><circle cx="1511.4" cy="1009.1" r="17.6"/><circle cx="1905.3" cy="1135.8" r="17.6"/><circle cx="948.3" cy="1033.1" r="17.6"/><circle cx="1870.8" cy="1166.3" r="17.6"/><circle cx="2152.9" cy="1094.0" r="17.6"/><circle cx="1292.2" cy="1163.7" r="17.6"/><circle cx="1926.8" cy="926.8" r="17.6"/><circle cx="2264.2" cy="578.8" r="17.6"/><circle cx="761.2" cy="1028.4" r="17.6"/><circle cx="1269.5" cy="1297.5" r="17.6"/><circle cx="778.1" cy="1160.5" r="17.6"/><circle cx="1808.6" cy="1096.6" r="17.6"/><circle cx="1665.1" cy="1168.1" r="17.6"/><circle cx="599.0" cy="1109.4" r="17.6"/><circle cx="1492.9" cy="1373.2" r="17.6"/><circle cx="515.1" cy="717.8" r="17.6"/><circle cx="2207.7" cy="813.4" r="17.6"/><circle cx="735.3" cy="1057.4" r="17.6"/><circle cx="921.0" cy="935.6" r="17.6"/><circle cx="1994.0" cy="948.2" r="17.6"/><circle cx="686.1" cy="898.7" r="17.6"/><circle cx="1956.7" cy="984.8" r="17.6"/><circle cx="763.2" cy="1148.6" r="17.6"/><circle cx="1649.4" cy="1287.0" r="17.6"/><circle cx="1111.7" cy="1056.9" r="17.6"/><circle cx="2149.9" cy="699.7" r="17.6"/><circle cx="1994.4" cy="957.2" r="17.6"/><circle cx="1443.9" cy="1225.4" r="17.6"/><circle cx="1873.1" cy="1178.1" r="17.6"/><circle cx="1690.7" cy="1312.0" r="17.6"/><circle cx="1256.8" cy="1035.3" r="17.6"/><circle cx="1022.2" cy="1215.8" r="17.6"/><circle cx="2260.3" cy="515.2" r="17.6"/><circle cx="1610.0" cy="1263.9" r="17.6"/><circle cx="1406.8" cy="1108.4" r="17.6"/><circle cx="1512.1" cy="1101.5" r="17.6"/><circle cx="883.9" cy="1157.5" r="17.6"/><circle cx="1905.3" cy="1111.1" r="17.6"/><circle cx="652.3" cy="851.7" r="17.6"/><circle cx="2026.8" cy="703.2" r="17.6"/><circle cx="1959.7" cy="894.7" r="17.6"/><circle cx="591.8" cy="687.4" r="17.6"/><circle cx="444.4" cy="1072.1" r="17.6"/><circle cx="1604.1" cy="987.4" r="17.6"/><circle cx="2113.3" cy="678.7" r="17.6"/><circle cx="980.7" cy="1286.4" r="17.6"/><circle cx="1679.2" cy="930.8" r="17.6"/><circle cx="841.9" cy="1266.9" r="17.6"/><circle cx="466.7" cy="1032.4" r="17.6"/><circle cx="1919.9" cy="1083.7" r="17.6"/><circle cx="400.4" cy="976.7" r="17.6"/><circle cx="701.9" cy="767.0" r="17.6"/><circle cx="1820.3" cy="1269.8" r="17.6"/><circle cx="1094.2" cy="1147.6" r="17.6"/><circle cx="434.1" cy="529.9" r="17.6"/><circle cx="498.7" cy="580.0" r="17.6"/><circle cx="1412.7" cy="1096.2" r="17.6"/><circle cx="1282.7" cy="1000.5" r="17.6"/><circle cx="1022.1" cy="1009.8" r="17.6"/><circle cx="1708.0" cy="1144.5" r="17.6"/><circle cx="402.8" cy="982.1" r="17.6"/><circle cx="996.7" cy="1392.5" r="17.6"/><circle cx="1025.6" cy="1203.3" r="17.6"/><circle cx="1984.6" cy="810.0" r="17.6"/><circle cx="1919.4" cy="1028.5" r="17.6"/><circle cx="1677.4" cy="1110.5" r="17.6"/><circle cx="1153.4" cy="1296.9" r="17.6"/><circle cx="2198.4" cy="463.9" r="17.6"/><circle cx="1648.6" cy="1099.5" r="17.6"/><circle cx="2216.9" cy="521.0" r="17.6"/><circle cx="587.2" cy="962.6" r="17.6"/><circle cx="661.2" cy="1135.7" r="17.6"/><circle cx="562.8" cy="816.9" r="17.6"/><circle cx="2217.2" cy="566.0" r="17.6"/><circle cx="1346.6" cy="1411.2" r="17.6"/><circle cx="1894.8" cy="920.0" r="17.6"/><circle cx="468.7" cy="965.0" r="17.6"/><circle cx="852.4" cy="1188.5" r="17.6"/><circle cx="431.1" cy="745.3" r="17.6"/><circle cx="888.5" cy="1141.0" r="17.6"/><circle cx="1083.2" cy="970.0" r="17.6"/><circle cx="786.7" cy="842.8" r="17.6"/><circle cx="1876.0" cy="1048.6" r="17.6"/><circle cx="1615.7" cy="1176.6" r="17.6"/><circle cx="2092.1" cy="605.3" r="17.6"/><circle cx="1364.7" cy="1061.7" r="17.6"/><circle cx="1987.3" cy="900.6" r="17.6"/><circle cx="1310.9" cy="1161.7" r="17.6"/><circle cx="651.2" cy="720.4" r="17.6"/><circle cx="2080.7" cy="726.8" r="17.6"/><circle cx="1185.4" cy="997.0" r="17.6"/><circle cx="1818.8" cy="1145.5" r="17.6"/><circle cx="1136.3" cy="991.3" r="17.6"/><circle cx="1610.8" cy="1146.0" r="17.6"/><circle cx="924.8" cy="910.0" r="17.6"/><circle cx="1281.4" cy="1259.0" r="17.6"/><circle cx="982.4" cy="992.5" r="17.6"/><circle cx="1737.6" cy="1304.3" r="17.6"/><circle cx="893.1" cy="893.4" r="17.6"/><circle cx="1867.1" cy="1071.4" r="17.6"/><circle cx="520.7" cy="624.5" r="17.6"/><circle cx="627.3" cy="869.5" r="17.6"/><circle cx="1268.8" cy="1210.0" r="17.6"/><circle cx="1013.9" cy="1122.2" r="17.6"/><circle cx="1442.2" cy="1317.0" r="17.6"/><circle cx="1040.9" cy="1159.3" r="17.6"/><circle cx="873.4" cy="882.5" r="17.6"/><circle cx="1201.9" cy="1380.5" r="17.6"/><circle cx="1437.3" cy="1023.9" r="17.6"/><circle cx="1593.9" cy="943.3" r="17.6"/><circle cx="2218.2" cy="488.4" r="17.6"/><circle cx="1650.8" cy="1307.3" r="17.6"/><circle cx="1796.3" cy="1160.4" r="17.6"/><circle cx="1730.8" cy="918.4" r="17.6"/><circle cx="1023.5" cy="1026.1" r="17.6"/><circle cx="1444.9" cy="1320.1" r="17.6"/><circle cx="2152.7" cy="604.2" r="17.6"/><circle cx="1360.7" cy="1267.7" r="17.6"/><circle cx="1532.9" cy="1154.1" r="17.6"/><circle cx="1017.4" cy="1365.9" r="17.6"/><circle cx="1137.1" cy="1095.2" r="17.6"/><circle cx="573.9" cy="850.2" r="17.6"/><circle cx="1810.6" cy="1182.2" r="17.6"/><circle cx="1478.1" cy="1359.5" r="17.6"/><circle cx="1154.4" cy="1044.2" r="17.6"/><circle cx="504.5" cy="774.0" r="17.6"/><circle cx="522.6" cy="716.0" r="17.6"/><circle cx="417.3" cy="432.4" r="17.6"/><circle cx="2099.9" cy="657.2" r="17.6"/><circle cx="2163.2" cy="838.4" r="17.6"/><circle cx="427.8" cy="475.3" r="17.6"/><circle cx="1653.8" cy="1033.9" r="17.6"/><circle cx="1415.1" cy="1187.8" r="17.6"/><circle cx="1803.6" cy="879.7" r="17.6"/><circle cx="1897.7" cy="925.6" r="17.6"/><circle cx="1989.6" cy="709.9" r="17.6"/><circle cx="714.5" cy="850.5" r="17.6"/><circle cx="1572.7" cy="974.8" r="17.6"/><circle cx="1933.8" cy="903.0" r="17.6"/><circle cx="1164.9" cy="990.5" r="17.6"/><circle cx="1233.1" cy="1379.9" r="17.6"/><circle cx="1798.1" cy="1112.5" r="17.6"/><circle cx="664.6" cy="730.7" r="17.6"/><circle cx="1259.6" cy="1401.0" r="17.6"/><circle cx="2133.9" cy="550.3" r="17.6"/><circle cx="2114.2" cy="716.4" r="17.6"/><circle cx="434.6" cy="1072.1" r="17.6"/><circle cx="589.8" cy="1073.4" r="17.6"/><circle cx="746.4" cy="1228.4" r="17.6"/><circle cx="396.9" cy="853.5" r="17.6"/><circle cx="679.9" cy="740.9" r="17.6"/><circle cx="1043.0" cy="1212.5" r="17.6"/><circle cx="1800.6" cy="1003.7" r="17.6"/><circle cx="2138.6" cy="1165.9" r="17.6"/><circle cx="1914.6" cy="1095.9" r="17.6"/><circle cx="499.3" cy="1037.7" r="17.6"/><circle cx="1227.5" cy="1021.1" r="17.6"/><circle cx="1822.5" cy="951.2" r="17.6"/><circle cx="721.6" cy="1021.5" r="17.6"/><circle cx="1053.9" cy="1410.1" r="17.6"/><circle cx="651.4" cy="1231.2" r="17.6"/><circle cx="1339.2" cy="1408.9" r="17.6"/><circle cx="392.7" cy="773.3" r="17.6"/><circle cx="451.3" cy="512.3" r="17.6"/><circle cx="690.5" cy="853.6" r="17.6"/><circle cx="1103.5" cy="1396.3" r="17.6"/><circle cx="565.6" cy="948.9" r="17.6"/><circle cx="591.1" cy="905.3" r="17.6"/><circle cx="641.1" cy="1059.0" r="17.6"/><circle cx="1782.9" cy="917.8" r="17.6"/><circle cx="804.8" cy="1097.5" r="17.6"/><circle cx="782.5" cy="974.4" r="17.6"/><circle cx="1540.3" cy="1064.8" r="17.6"/><circle cx="986.0" cy="970.9" r="17.6"/><circle cx="1166.3" cy="1294.1" r="17.6"/><circle cx="1392.1" cy="1161.7" r="17.6"/><circle cx="1196.0" cy="1033.2" r="17.6"/><circle cx="1371.5" cy="1289.8" r="17.6"/><circle cx="760.4" cy="925.9" r="17.6"/><circle cx="954.2" cy="915.1" r="17.6"/><circle cx="1987.9" cy="744.2" r="17.6"/><circle cx="2059.3" cy="1185.1" r="17.6"/><circle cx="2175.7" cy="725.9" r="17.6"/><circle cx="1964.1" cy="781.7" r="17.6"/><circle cx="1358.3" cy="1186.4" r="17.6"/><circle cx="1324.3" cy="1255.2" r="17.6"/><circle cx="1822.5" cy="1341.5" r="17.6"/><circle cx="1365.6" cy="1088.5" r="17.6"/><circle cx="764.1" cy="1006.6" r="17.6"/><circle cx="688.5" cy="942.2" r="17.6"/><circle cx="1154.7" cy="1156.8" r="17.6"/><circle cx="945.1" cy="1384.3" r="17.6"/><circle cx="415.1" cy="712.5" r="17.6"/><circle cx="1425.7" cy="1090.4" r="17.6"/><circle cx="1956.1" cy="994.7" r="17.6"/><circle cx="1966.0" cy="991.5" r="17.6"/><circle cx="1070.9" cy="1028.7" r="17.6"/><circle cx="812.6" cy="951.0" r="17.6"/><circle cx="1122.1" cy="1186.6" r="17.6"/><circle cx="1724.9" cy="1124.7" r="17.6"/><circle cx="1120.8" cy="1249.4" r="17.6"/><circle cx="573.3" cy="703.7" r="17.6"/><circle cx="2204.1" cy="647.7" r="17.6"/><circle cx="1924.9" cy="1046.8" r="17.6"/><circle cx="1675.7" cy="968.1" r="17.6"/><circle cx="688.5" cy="933.8" r="17.6"/><circle cx="2089.3" cy="612.6" r="17.6"/><circle cx="2174.4" cy="1065.0" r="17.6"/><circle cx="1565.3" cy="1183.7" r="17.6"/><circle cx="820.9" cy="1263.7" r="17.6"/><circle cx="721.3" cy="1144.9" r="17.6"/><circle cx="2072.8" cy="660.8" r="17.6"/><circle cx="635.1" cy="922.0" r="17.6"/><circle cx="1726.1" cy="1241.3" r="17.6"/><circle cx="623.3" cy="705.6" r="17.6"/><circle cx="1280.5" cy="1302.3" r="17.6"/><circle cx="1228.7" cy="1142.4" r="17.6"/><circle cx="790.7" cy="868.4" r="17.6"/><circle cx="1275.9" cy="1068.5" r="17.6"/><circle cx="1593.8" cy="1271.9" r="17.6"/><circle cx="540.2" cy="1162.7" r="17.6"/><circle cx="1572.5" cy="1009.3" r="17.6"/><circle cx="1420.2" cy="1045.8" r="17.6"/><circle cx="438.7" cy="496.9" r="17.6"/><circle cx="1825.4" cy="1077.9" r="17.6"/><circle cx="569.6" cy="755.4" r="17.6"/><circle cx="524.0" cy="976.9" r="17.6"/><circle cx="951.5" cy="1281.3" r="17.6"/><circle cx="2202.2" cy="537.8" r="17.6"/><circle cx="1340.6" cy="1101.3" r="17.6"/><circle cx="1032.7" cy="1248.7" r="17.6"/><circle cx="1831.5" cy="870.0" r="17.6"/><circle cx="2157.7" cy="585.2" r="17.6"/><circle cx="1211.9" cy="1181.8" r="17.6"/><circle cx="751.4" cy="888.9" r="17.6"/><circle cx="1837.4" cy="854.5" r="17.6"/><circle cx="1093.1" cy="1119.2" r="17.6"/><circle cx="1608.1" cy="1055.4" r="17.6"/><circle cx="1392.0" cy="1210.0" r="17.6"/><circle cx="2033.8" cy="1024.7" r="17.6"/><circle cx="1524.1" cy="1169.8" r="17.6"/><circle cx="1407.0" cy="1175.6" r="17.6"/><circle cx="2226.7" cy="456.7" r="17.6"/><circle cx="1590.5" cy="1199.6" r="17.6"/><circle cx="1425.6" cy="1008.4" r="17.6"/><circle cx="1541.7" cy="1081.9" r="17.6"/><circle cx="1041.7" cy="991.8" r="17.6"/><circle cx="660.7" cy="1263.1" r="17.6"/><circle cx="1724.0" cy="1263.7" r="17.6"/><circle cx="713.7" cy="1158.1" r="17.6"/><circle cx="2096.2" cy="618.5" r="17.6"/><circle cx="1794.3" cy="1270.1" r="17.6"/><circle cx="1168.1" cy="974.2" r="17.6"/><circle cx="454.3" cy="607.3" r="17.6"/><circle cx="566.2" cy="1137.6" r="17.6"/><circle cx="1043.4" cy="1228.2" r="17.6"/><circle cx="1898.0" cy="1044.1" r="17.6"/><circle cx="1733.4" cy="945.5" r="17.6"/><circle cx="1912.3" cy="1146.4" r="17.6"/><circle cx="1876.0" cy="1078.1" r="17.6"/><circle cx="571.2" cy="1218.6" r="17.6"/><circle cx="2195.7" cy="790.8" r="17.6"/><circle cx="2047.9" cy="910.4" r="17.6"/><circle cx="956.9" cy="925.0" r="17.6"/><circle cx="435.8" cy="605.0" r="17.6"/><circle cx="1570.7" cy="1099.9" r="17.6"/><circle cx="1537.0" cy="1255.9" r="17.6"/><circle cx="2147.0" cy="771.7" r="17.6"/><circle cx="1960.3" cy="925.1" r="17.6"/><circle cx="1504.0" cy="1252.2" r="17.6"/><circle cx="2134.2" cy="940.8" r="17.6"/><circle cx="898.6" cy="1211.9" r="17.6"/><circle cx="1826.3" cy="971.5" r="17.6"/><circle cx="1846.3" cy="1130.4" r="17.6"/><circle cx="2244.9" cy="592.7" r="17.6"/><circle cx="2213.6" cy="684.1" r="17.6"/><circle cx="1547.8" cy="1070.7" r="17.6"/><circle cx="1459.7" cy="1299.9" r="17.6"/><circle cx="1045.3" cy="1138.8" r="17.6"/><circle cx="793.5" cy="844.6" r="17.6"/><circle cx="2182.4" cy="680.2" r="17.6"/><circle cx="2181.0" cy="539.2" r="17.6"/><circle cx="1927.9" cy="997.7" r="17.6"/><circle cx="430.1" cy="754.9" r="17.6"/><circle cx="697.6" cy="808.4" r="17.6"/><circle cx="2184.7" cy="955.4" r="17.6"/><circle cx="370.5" cy="684.7" r="17.6"/><circle cx="866.7" cy="1320.4" r="17.6"/><circle cx="1621.5" cy="1146.8" r="17.6"/><circle cx="799.2" cy="1098.0" r="17.6"/><circle cx="2056.0" cy="991.7" r="17.6"/><circle cx="1931.0" cy="1165.8" r="17.6"/><circle cx="601.4" cy="1077.0" r="17.6"/><circle cx="1463.1" cy="1058.8" r="17.6"/><circle cx="889.5" cy="1311.7" r="17.6"/><circle cx="824.3" cy="914.6" r="17.6"/><circle cx="497.4" cy="1034.8" r="17.6"/><circle cx="1930.2" cy="949.7" r="17.6"/><circle cx="1649.2" cy="1006.9" r="17.6"/><circle cx="2217.5" cy="680.0" r="17.6"/><circle cx="1599.6" cy="1206.8" r="17.6"/><circle cx="1534.9" cy="1270.9" r="17.6"/><circle cx="1289.2" cy="1353.1" r="17.6"/><circle cx="1712.3" cy="1037.5" r="17.6"/><circle cx="1711.2" cy="1032.4" r="17.6"/><circle cx="1429.9" cy="1332.2" r="17.6"/><circle cx="1566.0" cy="1213.8" r="17.6"/><circle cx="1720.7" cy="938.1" r="17.6"/><circle cx="402.0" cy="717.6" r="17.6"/><circle cx="936.2" cy="1069.7" r="17.6"/><circle cx="1923.5" cy="871.9" r="17.6"/><circle cx="682.1" cy="851.7" r="17.6"/><circle cx="2009.9" cy="1089.7" r="17.6"/><circle cx="946.9" cy="1045.6" r="17.6"/><circle cx="537.9" cy="934.9" r="17.6"/><circle cx="1102.1" cy="990.9" r="17.6"/><circle cx="1496.5" cy="955.4" r="17.6"/><circle cx="903.0" cy="925.7" r="17.6"/><circle cx="711.7" cy="795.1" r="17.6"/><circle cx="708.4" cy="816.5" r="17.6"/><circle cx="1671.1" cy="911.5" r="17.6"/><circle cx="1653.1" cy="1231.7" r="17.6"/><circle cx="1924.5" cy="1264.2" r="17.6"/><circle cx="1181.2" cy="1217.9" r="17.6"/><circle cx="1953.1" cy="881.3" r="17.6"/><circle cx="843.1" cy="1018.2" r="17.6"/><circle cx="826.7" cy="890.1" r="17.6"/><circle cx="505.1" cy="952.6" r="17.6"/><circle cx="1588.8" cy="1023.7" r="17.6"/><circle cx="711.5" cy="862.6" r="17.6"/><circle cx="697.3" cy="1158.5" r="17.6"/><circle cx="837.3" cy="936.0" r="17.6"/><circle cx="422.4" cy="890.3" r="17.6"/><circle cx="968.4" cy="1038.0" r="17.6"/><circle cx="1099.2" cy="1263.5" r="17.6"/><circle cx="1107.2" cy="1058.2" r="17.6"/><circle cx="1091.0" cy="1175.2" r="17.6"/><circle cx="1810.2" cy="1039.9" r="17.6"/><circle cx="1697.7" cy="919.1" r="17.6"/><circle cx="974.2" cy="1002.9" r="17.6"/><circle cx="635.5" cy="1066.7" r="17.6"/><circle cx="425.1" cy="572.2" r="17.6"/><circle cx="1762.6" cy="1134.5" r="17.6"/><circle cx="1663.7" cy="1132.7" r="17.6"/><circle cx="684.9" cy="784.4" r="17.6"/><circle cx="1139.4" cy="1286.5" r="17.6"/><circle cx="1448.3" cy="1290.8" r="17.6"/><circle cx="1254.7" cy="1080.0" r="17.6"/><circle cx="472.4" cy="522.0" r="17.6"/><circle cx="921.8" cy="1151.8" r="17.6"/><circle cx="503.7" cy="917.0" r="17.6"/><circle cx="891.7" cy="983.2" r="17.6"/><circle cx="2140.5" cy="769.6" r="17.6"/><circle cx="2161.2" cy="712.6" r="17.6"/><circle cx="537.1" cy="1023.6" r="17.6"/><circle cx="851.7" cy="1272.9" r="17.6"/><circle cx="1671.0" cy="1054.9" r="17.6"/><circle cx="1702.1" cy="1215.1" r="17.6"/><circle cx="1246.3" cy="1038.3" r="17.6"/><circle cx="1812.0" cy="974.8" r="17.6"/><circle cx="1573.5" cy="1290.4" r="17.6"/><circle cx="2267.1" cy="700.9" r="17.6"/><circle cx="1890.5" cy="1090.0" r="17.6"/><circle cx="2078.8" cy="857.3" r="17.6"/><circle cx="2109.4" cy="1029.6" r="17.6"/><circle cx="622.8" cy="877.4" r="17.6"/><circle cx="688.9" cy="1124.6" r="17.6"/><circle cx="1609.1" cy="1099.3" r="17.6"/><circle cx="527.6" cy="1130.7" r="17.6"/><circle cx="1853.4" cy="964.6" r="17.6"/><circle cx="1811.0" cy="1150.2" r="17.6"/><circle cx="1605.0" cy="968.7" r="17.6"/><circle cx="1186.9" cy="1215.7" r="17.6"/><circle cx="1014.4" cy="967.8" r="17.6"/><circle cx="488.9" cy="823.9" r="17.6"/><circle cx="711.5" cy="1272.0" r="17.6"/><circle cx="1993.1" cy="1073.4" r="17.6"/><circle cx="1051.3" cy="1284.6" r="17.6"/><circle cx="1354.9" cy="1207.0" r="17.6"/><circle cx="1282.4" cy="1358.5" r="17.6"/><circle cx="1006.0" cy="995.7" r="17.6"/><circle cx="1270.2" cy="1048.7" r="17.6"/><circle cx="451.4" cy="1119.6" r="17.6"/><circle cx="1381.9" cy="1195.6" r="17.6"/><circle cx="856.2" cy="860.6" r="17.6"/><circle cx="1886.5" cy="1228.8" r="17.6"/><circle cx="695.4" cy="1272.5" r="17.6"/><circle cx="2146.6" cy="1032.1" r="17.6"/><circle cx="1358.4" cy="1276.3" r="17.6"/><circle cx="1681.9" cy="1283.1" r="17.6"/><circle cx="1959.9" cy="913.7" r="17.6"/><circle cx="930.8" cy="995.3" r="17.6"/><circle cx="1245.1" cy="1103.5" r="17.6"/><circle cx="1482.5" cy="967.4" r="17.6"/><circle cx="1328.7" cy="1141.1" r="17.6"/><circle cx="1089.8" cy="1269.9" r="17.6"/><circle cx="1552.7" cy="1239.6" r="17.6"/><circle cx="1362.1" cy="1273.2" r="17.6"/><circle cx="437.9" cy="633.2" r="17.6"/><circle cx="1780.3" cy="1183.3" r="17.6"/><circle cx="2089.3" cy="880.6" r="17.6"/><circle cx="1798.8" cy="948.4" r="17.6"/><circle cx="1438.7" cy="987.9" r="17.6"/><circle cx="1717.3" cy="1267.1" r="17.6"/><circle cx="1304.5" cy="982.4" r="17.6"/><circle cx="916.4" cy="1011.2" r="17.6"/><circle cx="2253.2" cy="405.3" r="17.6"/><circle cx="826.2" cy="1238.4" r="17.6"/><circle cx="620.0" cy="905.3" r="17.6"/><circle cx="830.4" cy="923.0" r="17.6"/><circle cx="2178.3" cy="555.7" r="17.6"/><circle cx="1696.9" cy="1051.6" r="17.6"/><circle cx="676.0" cy="860.8" r="17.6"/><circle cx="719.7" cy="981.6" r="17.6"/><circle cx="1481.9" cy="1224.4" r="17.6"/><circle cx="794.8" cy="941.8" r="17.6"/><circle cx="1141.6" cy="1398.3" r="17.6"/><circle cx="1054.7" cy="1334.2" r="17.6"/><circle cx="1536.5" cy="1023.7" r="17.6"/><circle cx="671.1" cy="940.1" r="17.6"/><circle cx="1273.9" cy="1059.6" r="17.6"/><circle cx="846.5" cy="1039.1" r="17.6"/><circle cx="1907.2" cy="954.3" r="17.6"/><circle cx="478.1" cy="869.2" r="17.6"/><circle cx="1257.7" cy="1231.7" r="17.6"/><circle cx="2038.9" cy="980.1" r="17.6"/><circle cx="1586.2" cy="1014.2" r="17.6"/><circle cx="498.3" cy="824.5" r="17.6"/><circle cx="722.2" cy="937.9" r="17.6"/><circle cx="787.9" cy="1166.4" r="17.6"/><circle cx="2217.1" cy="746.5" r="17.6"/><circle cx="1845.3" cy="1318.5" r="17.6"/><circle cx="1766.8" cy="921.8" r="17.6"/><circle cx="1941.8" cy="1292.1" r="17.6"/><circle cx="1174.0" cy="1275.1" r="17.6"/><circle cx="2185.8" cy="1016.2" r="17.6"/><circle cx="925.3" cy="1146.5" r="17.6"/><circle cx="2229.8" cy="601.0" r="17.6"/><circle cx="474.3" cy="690.9" r="17.6"/><circle cx="610.3" cy="683.3" r="17.6"/><circle cx="1399.5" cy="1279.4" r="17.6"/><circle cx="689.9" cy="1067.8" r="17.6"/><circle cx="1209.4" cy="1224.5" r="17.6"/><circle cx="857.2" cy="1143.4" r="17.6"/><circle cx="626.2" cy="1034.1" r="17.6"/><circle cx="1390.4" cy="1050.5" r="17.6"/><circle cx="2062.0" cy="643.7" r="17.6"/><circle cx="1444.0" cy="1206.4" r="17.6"/><circle cx="942.4" cy="1070.0" r="17.6"/><circle cx="2067.5" cy="701.5" r="17.6"/><circle cx="2022.5" cy="839.1" r="17.6"/><circle cx="2179.6" cy="510.9" r="17.6"/><circle cx="474.0" cy="932.4" r="17.6"/><circle cx="1310.4" cy="1190.7" r="17.6"/><circle cx="1011.6" cy="1401.9" r="17.6"/><circle cx="1194.5" cy="1345.9" r="17.6"/><circle cx="1315.4" cy="987.8" r="17.6"/><circle cx="1732.0" cy="986.0" r="17.6"/><circle cx="1463.6" cy="1348.9" r="17.6"/><circle cx="594.7" cy="1138.2" r="17.6"/><circle cx="1395.7" cy="1103.3" r="17.6"/><circle cx="1416.7" cy="1287.5" r="17.6"/><circle cx="1241.5" cy="994.6" r="17.6"/><circle cx="2006.4" cy="918.7" r="17.6"/><circle cx="1704.7" cy="975.4" r="17.6"/><circle cx="649.1" cy="943.6" r="17.6"/><circle cx="708.2" cy="764.8" r="17.6"/><circle cx="1056.4" cy="1371.1" r="17.6"/><circle cx="440.5" cy="888.9" r="17.6"/><circle cx="1976.5" cy="776.8" r="17.6"/><circle cx="438.7" cy="826.3" r="17.6"/><circle cx="1924.1" cy="969.4" r="17.6"/><circle cx="1076.1" cy="1018.3" r="17.6"/><circle cx="1780.1" cy="905.5" r="17.6"/><circle cx="509.9" cy="661.3" r="17.6"/><circle cx="999.1" cy="1025.4" r="17.6"/><circle cx="1096.8" cy="1181.8" r="17.6"/><circle cx="979.9" cy="1337.0" r="17.6"/><circle cx="1861.2" cy="814.6" r="17.6"/><circle cx="1496.0" cy="1099.1" r="17.6"/><circle cx="1111.7" cy="1054.7" r="17.6"/><circle cx="2197.6" cy="1026.4" r="17.6"/><circle cx="719.1" cy="1272.5" r="17.6"/><circle cx="1633.2" cy="1317.9" r="17.6"/><circle cx="487.8" cy="1141.6" r="17.6"/><circle cx="1019.1" cy="945.9" r="17.6"/><circle cx="764.5" cy="808.4" r="17.6"/><circle cx="950.7" cy="1010.3" r="17.6"/><circle cx="1274.9" cy="1018.6" r="17.6"/><circle cx="1722.8" cy="1139.7" r="17.6"/><circle cx="2114.1" cy="878.0" r="17.6"/><circle cx="2169.2" cy="510.1" r="17.6"/><circle cx="2232.6" cy="879.4" r="17.6"/><circle cx="532.7" cy="827.6" r="17.6"/><circle cx="1188.7" cy="1185.5" r="17.6"/><circle cx="824.3" cy="1049.6" r="17.6"/><circle cx="961.5" cy="932.6" r="17.6"/><circle cx="1574.6" cy="1017.0" r="17.6"/><circle cx="1219.8" cy="978.7" r="17.6"/><circle cx="934.3" cy="1285.3" r="17.6"/><circle cx="1007.2" cy="1266.2" r="17.6"/><circle cx="819.7" cy="1179.3" r="17.6"/><circle cx="460.6" cy="1034.1" r="17.6"/><circle cx="1678.5" cy="975.8" r="17.6"/><circle cx="586.6" cy="1073.7" r="17.6"/><circle cx="1445.4" cy="996.2" r="17.6"/><circle cx="731.3" cy="835.9" r="17.6"/><circle cx="2128.4" cy="1027.6" r="17.6"/><circle cx="1642.1" cy="1274.7" r="17.6"/><circle cx="1273.6" cy="1106.9" r="17.6"/><circle cx="889.5" cy="1110.8" r="17.6"/><circle cx="1094.0" cy="1006.9" r="17.6"/><circle cx="1901.8" cy="837.3" r="17.6"/><circle cx="484.8" cy="613.4" r="17.6"/><circle cx="566.8" cy="774.1" r="17.6"/><circle cx="700.0" cy="807.6" r="17.6"/><circle cx="385.6" cy="845.2" r="17.6"/><circle cx="1654.2" cy="1109.1" r="17.6"/><circle cx="2241.9" cy="827.5" r="17.6"/><circle cx="2024.9" cy="1206.3" r="17.6"/><circle cx="1438.2" cy="969.0" r="17.6"/><circle cx="2085.4" cy="812.1" r="17.6"/><circle cx="1115.7" cy="1306.4" r="17.6"/><circle cx="724.1" cy="790.3" r="17.6"/><circle cx="1643.4" cy="1215.2" r="17.6"/><circle cx="492.3" cy="605.7" r="17.6"/><circle cx="1848.5" cy="1338.8" r="17.6"/><circle cx="2025.2" cy="906.4" r="17.6"/><circle cx="1708.8" cy="1007.3" r="17.6"/><circle cx="1658.4" cy="1276.8" r="17.6"/><circle cx="1957.7" cy="818.4" r="17.6"/><circle cx="858.5" cy="1251.3" r="17.6"/><circle cx="704.8" cy="767.2" r="17.6"/><circle cx="459.3" cy="1052.4" r="17.6"/><circle cx="1054.6" cy="1334.1" r="17.6"/><circle cx="796.7" cy="1163.2" r="17.6"/><circle cx="847.9" cy="1195.3" r="17.6"/><circle cx="1882.3" cy="1114.6" r="17.6"/><circle cx="1950.8" cy="810.4" r="17.6"/><circle cx="1804.7" cy="1298.9" r="17.6"/><circle cx="406.5" cy="577.7" r="17.6"/><circle cx="1060.9" cy="1208.8" r="17.6"/><circle cx="1728.9" cy="1167.5" r="17.6"/><circle cx="1233.6" cy="1269.3" r="17.6"/><circle cx="918.9" cy="901.7" r="17.6"/><circle cx="2151.2" cy="965.3" r="17.6"/><circle cx="518.2" cy="599.4" r="17.6"/><circle cx="1897.0" cy="791.0" r="17.6"/><circle cx="1399.3" cy="1245.4" r="17.6"/><circle cx="1637.7" cy="1129.9" r="17.6"/><circle cx="1010.7" cy="937.3" r="17.6"/><circle cx="1630.7" cy="1003.5" r="17.6"/><circle cx="1411.6" cy="1244.5" r="17.6"/><circle cx="1864.6" cy="1126.8" r="17.6"/><circle cx="1484.1" cy="971.1" r="17.6"/><circle cx="1110.5" cy="1134.9" r="17.6"/><circle cx="1017.3" cy="1124.8" r="17.6"/><circle cx="1707.2" cy="1061.9" r="17.6"/><circle cx="1800.4" cy="875.3" r="17.6"/><circle cx="739.5" cy="1085.4" r="17.6"/><circle cx="1497.9" cy="1211.8" r="17.6"/><circle cx="584.8" cy="956.4" r="17.6"/><circle cx="430.4" cy="838.2" r="17.6"/><circle cx="883.2" cy="914.9" r="17.6"/><circle cx="1037.0" cy="1301.8" r="17.6"/><circle cx="1952.7" cy="1060.7" r="17.6"/><circle cx="428.9" cy="639.3" r="17.6"/><circle cx="1929.1" cy="1093.9" r="17.6"/><circle cx="607.5" cy="1158.3" r="17.6"/><circle cx="716.9" cy="1021.6" r="17.6"/><circle cx="1911.2" cy="861.5" r="17.6"/><circle cx="497.9" cy="827.1" r="17.6"/><circle cx="916.8" cy="1351.7" r="17.6"/><circle cx="2100.4" cy="889.4" r="17.6"/><circle cx="765.4" cy="1275.7" r="17.6"/><circle cx="1027.0" cy="983.2" r="17.6"/><circle cx="2171.9" cy="871.7" r="17.6"/><circle cx="1563.8" cy="1156.0" r="17.6"/><circle cx="430.3" cy="767.5" r="17.6"/><circle cx="598.4" cy="1261.0" r="17.6"/><circle cx="2043.5" cy="688.6" r="17.6"/><circle cx="422.9" cy="674.9" r="17.6"/><circle cx="762.4" cy="1047.7" r="17.6"/><circle cx="1084.9" cy="1223.5" r="17.6"/><circle cx="2175.8" cy="801.8" r="17.6"/><circle cx="1280.3" cy="990.9" r="17.6"/><circle cx="1259.1" cy="985.9" r="17.6"/><circle cx="1833.9" cy="1025.4" r="17.6"/><circle cx="1584.9" cy="1157.1" r="17.6"/><circle cx="773.6" cy="828.4" r="17.6"/><circle cx="851.5" cy="927.1" r="17.6"/><circle cx="741.8" cy="1062.1" r="17.6"/><circle cx="540.4" cy="1136.1" r="17.6"/><circle cx="1491.0" cy="1127.6" r="17.6"/><circle cx="882.5" cy="1189.4" r="17.6"/><circle cx="1363.4" cy="1068.1" r="17.6"/><circle cx="1945.4" cy="981.5" r="17.6"/><circle cx="1656.7" cy="1202.4" r="17.6"/><circle cx="1180.8" cy="1299.3" r="17.6"/><circle cx="1029.7" cy="1161.5" r="17.6"/><circle cx="489.6" cy="735.6" r="17.6"/><circle cx="936.4" cy="1042.3" r="17.6"/><circle cx="852.7" cy="1269.2" r="17.6"/><circle cx="1322.6" cy="1227.0" r="17.6"/><circle cx="2248.1" cy="503.3" r="17.6"/><circle cx="1943.0" cy="766.5" r="17.6"/><circle cx="543.2" cy="736.0" r="17.6"/><circle cx="1056.4" cy="1015.2" r="17.6"/><circle cx="440.9" cy="705.2" r="17.6"/><circle cx="1533.5" cy="1008.4" r="17.6"/><circle cx="372.7" cy="740.1" r="17.6"/><circle cx="649.3" cy="841.7" r="17.6"/><circle cx="2100.2" cy="667.7" r="17.6"/><circle cx="2214.6" cy="720.4" r="17.6"/><circle cx="987.8" cy="1307.0" r="17.6"/><circle cx="2184.4" cy="535.4" r="17.6"/><circle cx="606.7" cy="907.1" r="17.6"/><circle cx="2242.9" cy="665.5" r="17.6"/><circle cx="2018.7" cy="1021.8" r="17.6"/><circle cx="1670.6" cy="913.6" r="17.6"/><circle cx="435.7" cy="707.0" r="17.6"/><circle cx="1046.4" cy="1012.9" r="17.6"/><circle cx="1834.4" cy="838.5" r="17.6"/><circle cx="736.3" cy="894.7" r="17.6"/><circle cx="2207.0" cy="924.9" r="17.6"/><circle cx="621.2" cy="987.7" r="17.6"/><circle cx="684.1" cy="905.4" r="17.6"/><circle cx="2069.5" cy="1012.7" r="17.6"/><circle cx="1134.5" cy="1302.9" r="17.6"/><circle cx="1938.5" cy="769.8" r="17.6"/><circle cx="460.5" cy="920.2" r="17.6"/><circle cx="1668.2" cy="1068.3" r="17.6"/><circle cx="1526.5" cy="1283.8" r="17.6"/><circle cx="913.5" cy="1031.5" r="17.6"/><circle cx="1092.9" cy="1331.9" r="17.6"/><circle cx="2136.8" cy="989.5" r="17.6"/><circle cx="2072.4" cy="630.4" r="17.6"/><circle cx="2236.0" cy="782.4" r="17.6"/><circle cx="1375.7" cy="1039.9" r="17.6"/><circle cx="1417.1" cy="1003.9" r="17.6"/><circle cx="1343.1" cy="1177.9" r="17.6"/><circle cx="1068.4" cy="1334.2" r="17.6"/><circle cx="788.7" cy="861.1" r="17.6"/><circle cx="1158.4" cy="1316.0" r="17.6"/><circle cx="2176.7" cy="691.1" r="17.6"/><circle cx="1886.6" cy="1198.1" r="17.6"/><circle cx="440.2" cy="980.7" r="17.6"/><circle cx="1196.1" cy="1073.9" r="17.6"/><circle cx="729.4" cy="1160.3" r="17.6"/><circle cx="1699.2" cy="1042.6" r="17.6"/><circle cx="636.2" cy="1194.0" r="17.6"/><circle cx="1147.0" cy="1253.7" r="17.6"/><circle cx="1549.9" cy="1244.8" r="17.6"/><circle cx="2123.6" cy="1042.5" r="17.6"/><circle cx="978.9" cy="982.7" r="17.6"/><circle cx="544.6" cy="612.2" r="17.6"/><circle cx="1364.3" cy="1067.1" r="17.6"/><circle cx="2121.3" cy="620.6" r="17.6"/><circle cx="1895.1" cy="1035.9" r="17.6"/><circle cx="570.0" cy="669.4" r="17.6"/><circle cx="1985.3" cy="1057.1" r="17.6"/><circle cx="1808.1" cy="1209.7" r="17.6"/><circle cx="621.9" cy="972.9" r="17.6"/><circle cx="2113.7" cy="628.1" r="17.6"/><circle cx="2192.7" cy="909.0" r="17.6"/><circle cx="2129.0" cy="575.1" r="17.6"/><circle cx="1267.5" cy="1142.9" r="17.6"/><circle cx="1286.3" cy="1376.0" r="17.6"/><circle cx="2114.1" cy="719.6" r="17.6"/><circle cx="687.3" cy="927.1" r="17.6"/><circle cx="1491.1" cy="1127.2" r="17.6"/><circle cx="882.7" cy="1111.0" r="17.6"/><circle cx="2232.6" cy="487.4" r="17.6"/><circle cx="570.6" cy="711.7" r="17.6"/><circle cx="1926.8" cy="821.7" r="17.6"/><circle cx="2134.5" cy="1053.3" r="17.6"/><circle cx="2020.8" cy="875.1" r="17.6"/><circle cx="2230.3" cy="661.1" r="17.6"/><circle cx="975.1" cy="1293.4" r="17.6"/><circle cx="798.4" cy="1082.4" r="17.6"/><circle cx="676.1" cy="982.6" r="17.6"/><circle cx="1536.0" cy="963.0" r="17.6"/><circle cx="689.8" cy="872.8" r="17.6"/><circle cx="1910.4" cy="1284.9" r="17.6"/><circle cx="410.6" cy="678.0" r="17.6"/><circle cx="1590.6" cy="1032.8" r="17.6"/><circle cx="2226.7" cy="745.1" r="17.6"/><circle cx="1692.4" cy="1196.0" r="17.6"/><circle cx="1639.0" cy="949.8" r="17.6"/><circle cx="1757.8" cy="1001.2" r="17.6"/><circle cx="802.3" cy="1269.6" r="17.6"/><circle cx="475.1" cy="793.0" r="17.6"/><circle cx="1394.6" cy="1007.9" r="17.6"/><circle cx="1856.8" cy="1014.9" r="17.6"/><circle cx="2101.8" cy="892.6" r="17.6"/><circle cx="2240.2" cy="413.9" r="17.6"/><circle cx="1550.0" cy="1158.5" r="17.6"/><circle cx="827.6" cy="864.8" r="17.6"/><circle cx="1837.9" cy="826.3" r="17.6"/><circle cx="637.2" cy="1265.2" r="17.6"/><circle cx="448.4" cy="861.0" r="17.6"/><circle cx="1130.4" cy="1161.5" r="17.6"/><circle cx="478.8" cy="1047.1" r="17.6"/><circle cx="664.6" cy="1054.0" r="17.6"/><circle cx="377.7" cy="379.4" r="17.6"/><circle cx="375.2" cy="1074.3" r="17.6"/><circle cx="377.1" cy="1135.3" r="17.6"/><circle cx="404.9" cy="1163.2" r="17.6"/><circle cx="374.8" cy="1179.1" r="17.6"/><circle cx="399.2" cy="1205.0" r="17.6"/><circle cx="415.4" cy="1228.2" r="17.6"/><circle cx="464.9" cy="1216.2" r="17.6"/><circle cx="470.6" cy="1278.5" r="17.6"/><circle cx="518.5" cy="1284.2" r="17.6"/><circle cx="442.0" cy="1162.1" r="17.6"/><circle cx="451.3" cy="1155.1" r="17.6"/><circle cx="465.2" cy="1178.3" r="17.6"/><circle cx="416.5" cy="1357.6" r="17.6"/><circle cx="516.2" cy="1323.6" r="17.6"/><circle cx="539.4" cy="1322.1" r="17.6"/><circle cx="555.6" cy="1324.4" r="17.6"/><circle cx="548.6" cy="1303.5" r="17.6"/><circle cx="565.6" cy="1306.6" r="17.6"/><circle cx="584.2" cy="1312.8" r="17.6"/><circle cx="607.3" cy="1320.5" r="17.6"/><circle cx="576.4" cy="1356.1" r="17.6"/><circle cx="585.7" cy="1363.0" r="17.6"/><circle cx="545.5" cy="1271.8" r="17.6"/><circle cx="581.0" cy="1262.5" r="17.6"/><circle cx="670.8" cy="1377.7" r="17.6"/><circle cx="653.4" cy="1344.7" r="17.6"/><circle cx="669.1" cy="1335.4" r="17.6"/><circle cx="633.0" cy="1322.7" r="17.6"/><circle cx="673.2" cy="1456.1" r="17.6"/><circle cx="776.5" cy="1456.0" r="17.6"/><circle cx="812.2" cy="1497.5" r="17.6"/><circle cx="837.5" cy="1466.6" r="17.6"/><circle cx="865.9" cy="1469.2" r="17.6"/><circle cx="877.8" cy="1487.8" r="17.6"/><circle cx="804.4" cy="1426.5" r="17.6"/><circle cx="754.1" cy="1423.4" r="17.6"/><circle cx="731.3" cy="1413.3" r="17.6"/><circle cx="730.4" cy="1395.5" r="17.6"/><circle cx="753.3" cy="1381.6" r="17.6"/><circle cx="765.1" cy="1387.4" r="17.6"/><circle cx="799.5" cy="1398.9" r="17.6"/><circle cx="816.8" cy="1360.8" r="17.6"/><circle cx="839.7" cy="1399.7" r="17.6"/><circle cx="847.3" cy="1415.0" r="17.6"/><circle cx="849.8" cy="1393.8" r="17.6"/><circle cx="716.0" cy="1364.2" r="17.6"/><circle cx="711.0" cy="1355.7" r="17.6"/><circle cx="705.9" cy="1339.6" r="17.6"/><circle cx="724.5" cy="1334.5" r="17.6"/><circle cx="749.0" cy="1354.0" r="17.6"/><circle cx="887.8" cy="1416.4" r="17.6"/><circle cx="898.8" cy="1437.3" r="17.6"/><circle cx="924.5" cy="1497.0" r="17.6"/><circle cx="957.4" cy="1487.5" r="17.6"/><circle cx="958.2" cy="1515.1" r="17.6"/><circle cx="961.8" cy="1436.5" r="17.6"/><circle cx="990.4" cy="1457.5" r="17.6"/><circle cx="1004.3" cy="1470.7" r="17.6"/><circle cx="1002.9" cy="1429.6" r="17.6"/><circle cx="991.9" cy="1406.2" r="17.6"/><circle cx="973.6" cy="1406.2" r="17.6"/><circle cx="1047.5" cy="1520.5" r="17.6"/><circle cx="1115.7" cy="1509.9" r="17.6"/><circle cx="1170.6" cy="1530.0" r="17.6"/><circle cx="1046.8" cy="1471.8" r="17.6"/><circle cx="1068.1" cy="1473.3" r="17.6"/><circle cx="1090.0" cy="1478.0" r="17.6"/><circle cx="1154.5" cy="1478.0" r="17.6"/><circle cx="1046.1" cy="1432.6" r="17.6"/><circle cx="1060.7" cy="1437.7" r="17.6"/><circle cx="1077.6" cy="1435.5" r="17.6"/><circle cx="1043.9" cy="1416.4" r="17.6"/><circle cx="1135.5" cy="1431.1" r="17.6"/><circle cx="1146.4" cy="1450.1" r="17.6"/><circle cx="1182.5" cy="1465.5" r="17.6"/><circle cx="1267.4" cy="1524.1" r="17.6"/><circle cx="1297.5" cy="1501.4" r="17.6"/><circle cx="1275.8" cy="1486.0" r="17.6"/><circle cx="1289.0" cy="1447.6" r="17.6"/><circle cx="1240.3" cy="1436.2" r="17.6"/><circle cx="1249.9" cy="1439.9" r="17.6"/><circle cx="1245.5" cy="1447.9" r="17.6"/><circle cx="1257.2" cy="1464.8" r="17.6"/><circle cx="1326.0" cy="1488.9" r="17.6"/><circle cx="1340.7" cy="1478.7" r="17.6"/><circle cx="1349.9" cy="1468.4" r="17.6"/><circle cx="1398.6" cy="1493.3" r="17.6"/><circle cx="1397.8" cy="1437.2" r="17.6"/><circle cx="1448.1" cy="1471.4" r="17.6"/><circle cx="1476.2" cy="1486.0" r="17.6"/><circle cx="1526.6" cy="1498.2" r="17.6"/><circle cx="1535.7" cy="1504.7" r="17.6"/><circle cx="1507.1" cy="1426.7" r="17.6"/><circle cx="1536.4" cy="1425.5" r="17.6"/><circle cx="1562.0" cy="1456.0" r="17.6"/><circle cx="1576.7" cy="1449.4" r="17.6"/><circle cx="1584.0" cy="1461.9" r="17.6"/><circle cx="1595.0" cy="1488.0" r="17.6"/><circle cx="1625.8" cy="1507.3" r="17.6"/><circle cx="1650.7" cy="1450.9" r="17.6"/><circle cx="1718.1" cy="1492.3" r="17.6"/><circle cx="1726.2" cy="1496.0" r="17.6"/><circle cx="1769.7" cy="1498.2" r="17.6"/><circle cx="1763.5" cy="1533.7" r="17.6"/><circle cx="1712.2" cy="1431.8" r="17.6"/><circle cx="1724.4" cy="1443.6" r="17.6"/><circle cx="1800.0" cy="1454.0" r="17.6"/><circle cx="1684.4" cy="1404.7" r="17.6"/><circle cx="1723.2" cy="1403.3" r="17.6"/><circle cx="1739.3" cy="1398.9" r="17.6"/><circle cx="1748.1" cy="1382.7" r="17.6"/><circle cx="1765.7" cy="1417.9" r="17.6"/><circle cx="1776.0" cy="1417.9" r="17.6"/><circle cx="1787.7" cy="1415.0" r="17.6"/><circle cx="1570.8" cy="1413.8" r="17.6"/><circle cx="1806.5" cy="1395.6" r="17.6"/><circle cx="1857.4" cy="1425.2" r="17.6"/><circle cx="1818.4" cy="1455.5" r="17.6"/><circle cx="1846.1" cy="1483.6" r="17.6"/><circle cx="1899.1" cy="1463.6" r="17.6"/><circle cx="1921.0" cy="1402.2" r="17.6"/><circle cx="1929.4" cy="1404.4" r="17.6"/><circle cx="1987.5" cy="1385.3" r="17.6"/><circle cx="2048.3" cy="1318.3" r="17.6"/><circle cx="2067.0" cy="1318.0" r="17.6"/><circle cx="1953.8" cy="1342.3" r="17.6"/><circle cx="1949.1" cy="1318.0" r="17.6"/><circle cx="1945.3" cy="1327.3" r="17.6"/><circle cx="1975.3" cy="1297.0" r="17.6"/><circle cx="2009.0" cy="1278.3" r="17.6"/><circle cx="2264.1" cy="1120.6" r="17.6"/><circle cx="2203.0" cy="1218.0" r="17.6"/><circle cx="2189.7" cy="1204.7" r="17.6"/><circle cx="2144.4" cy="1183.9" r="17.6"/><circle cx="2232.1" cy="1156.4" r="17.6"/><circle cx="2228.0" cy="1164.7" r="17.6"/><circle cx="2194.7" cy="1159.7" r="17.6"/><circle cx="2198.0" cy="1168.9" r="17.6"/><circle cx="2226.3" cy="1111.5" r="17.6"/><circle cx="2193.0" cy="1146.4" r="17.6"/><circle cx="2120.6" cy="1260.4" r="17.6"/><circle cx="2071.6" cy="1246.3" r="17.6"/><circle cx="2080.7" cy="1294.5" r="17.6"/><circle cx="2081.3" cy="1309.5" r="17.6"/><circle cx="2072.8" cy="1365.9" r="17.6"/><circle cx="2192.3" cy="1349.8" r="17.6"/></g>
<path d="M1215.5 994.3l20.2 35h-40.4zM1468.3 1027.9l20.2 35h-40.4zM734.6 1145.1l20.2 35h-40.4zM2126.6 1035.1l20.2 35h-40.4zM1198.9 1170.4l20.2 35h-40.4zM568.7 621.5l20.2 35h-40.4zM1497.4 1190.5l20.2 35h-40.4zM796.0 1166.4l20.2 35h-40.4zM479.7 751.4l20.2 35h-40.4zM1313.9 1126.9l20.2 35h-40.4zM1541.4 1254.9l20.2 35h-40.4zM2187.0 913.1l20.2 35h-40.4zM647.5 748.0l20.2 35h-40.4zM1867.5 789.5l20.2 35h-40.4zM788.0 841.7l20.2 35h-40.4zM752.6 916.7l20.2 35h-40.4zM1768.9 1034.3l20.2 35h-40.4zM743.6 1238.6l20.2 35h-40.4zM1333.2 1244.0l20.2 35h-40.4zM1410.3 1083.6l20.2 35h-40.4zM469.7 846.7l20.2 35h-40.4zM2041.5 743.4l20.2 35h-40.4zM430.8 561.9l20.2 35h-40.4zM1056.8 1322.8l20.2 35h-40.4zM1428.7 1007.3l20.2 35h-40.4zM1215.5 948.0l20.2 35h-40.4zM1617.9 954.4l20.2 35h-40.4zM540.8 994.8l20.2 35h-40.4zM1311.7 998.6l20.2 35h-40.4zM1831.0 1131.4l20.2 35h-40.4zM766.4 835.6l20.2 35h-40.4zM672.5 1023.6l20.2 35h-40.4zM1379.2 1006.6l20.2 35h-40.4zM2057.4 934.7l20.2 35h-40.4zM1103.0 993.0l20.2 35h-40.4zM787.2 798.8l20.2 35h-40.4zM896.1 1059.0l20.2 35h-40.4zM1222.9 1018.0l20.2 35h-40.4zM2213.2 913.4l20.2 35h-40.4zM610.1 721.0l20.2 35h-40.4zM1449.3 1239.2l20.2 35h-40.4zM1498.2 1291.1l20.2 35h-40.4zM2200.3 653.7l20.2 35h-40.4zM1350.5 1252.3l20.2 35h-40.4zM912.7 921.1l20.2 35h-40.4zM1196.6 995.0l20.2 35h-40.4zM1085.1 1041.7l20.2 35h-40.4zM2157.0 868.5l20.2 35h-40.4zM1862.0 966.5l20.2 35h-40.4zM1444.4 1050.4l20.2 35h-40.4zM773.2 1315.4l20.2 35h-40.4zM401.4 574.1l20.2 35h-40.4zM1729.8 868.8l20.2 35h-40.4zM2205.1 645.2l20.2 35h-40.4zM423.8 429.6l20.2 35h-40.4zM2099.4 611.4l20.2 35h-40.4zM2018.5 869.3l20.2 35h-40.4zM1972.5 956.6l20.2 35h-40.4zM2095.5 770.3l20.2 35h-40.4zM554.3 915.3l20.2 35h-40.4zM1665.1 893.5l20.2 35h-40.4zM443.7 798.5l20.2 35h-40.4zM2235.7 559.9l20.2 35h-40.4zM1408.2 943.8l20.2 35h-40.4zM433.2 852.8l20.2 35h-40.4zM1896.2 1121.2l20.2 35h-40.4zM1170.4 1062.2l20.2 35h-40.4zM555.9 1137.2l20.2 35h-40.4zM530.4 791.2l20.2 35h-40.4zM779.8 791.0l20.2 35h-40.4zM2063.0 734.2l20.2 35h-40.4zM646.9 809.9l20.2 35h-40.4zM823.4 828.3l20.2 35h-40.4zM1378.8 1040.8l20.2 35h-40.4zM1789.7 907.0l20.2 35h-40.4zM538.4 679.0l20.2 35h-40.4zM760.7 796.0l20.2 35h-40.4zM713.1 999.0l20.2 35h-40.4zM812.5 991.2l20.2 35h-40.4zM476.3 773.2l20.2 35h-40.4zM504.9 558.8l20.2 35h-40.4zM1693.2 912.7l20.2 35h-40.4zM2221.0 1017.0l20.2 35h-40.4zM1216.2 1169.3l20.2 35h-40.4zM1032.3 1172.4l20.2 35h-40.4zM2061.7 726.0l20.2 35h-40.4zM1595.7 942.9l20.2 35h-40.4zM1185.7 985.2l20.2 35h-40.4zM996.4 1158.9l20.2 35h-40.4zM1158.2 972.1l20.2 35h-40.4zM907.5 894.4l20.2 35h-40.4zM654.6 713.8l20.2 35h-40.4zM1461.5 1013.3l20.2 35h-40.4zM2136.3 703.9l20.2 35h-40.4zM2223.3 881.4l20.2 35h-40.4zM600.7 767.6l20.2 35h-40.4zM1558.7 1085.6l20.2 35h-40.4zM384.6 727.6l20.2 35h-40.4zM383.4 870.5l20.2 35h-40.4zM983.7 908.9l20.2 35h-40.4zM1136.5 1092.4l20.2 35h-40.4zM1367.5 1073.6l20.2 35h-40.4zM2233.4 479.6l20.2 35h-40.4zM989.3 1100.9l20.2 35h-40.4zM955.5 1022.0l20.2 35h-40.4zM815.0 1242.1l20.2 35h-40.4zM1454.7 1069.6l20.2 35h-40.4zM1409.2 1066.2l20.2 35h-40.4zM1256.2 1187.6l20.2 35h-40.4zM874.8 1137.2l20.2 35h-40.4zM1614.4 1036.4l20.2 35h-40.4zM572.5 858.9l20.2 35h-40.4zM891.4 1276.9l20.2 35h-40.4zM2031.8 940.8l20.2 35h-40.4zM674.0 788.8l20.2 35h-40.4zM1551.9 1002.5l20.2 35h-40.4zM867.0 1246.7l20.2 35h-40.4zM951.2 899.0l20.2 35h-40.4zM624.6 952.2l20.2 35h-40.4zM1927.7 955.4l20.2 35h-40.4zM1164.4 1175.7l20.2 35h-40.4zM2120.3 975.8l20.2 35h-40.4zM784.1 990.8l20.2 35h-40.4zM1756.9 908.1l20.2 35h-40.4zM1802.2 829.2l20.2 35h-40.4zM565.4 1149.7l20.2 35h-40.4zM1768.3 1027.8l20.2 35h-40.4zM428.4 435.9l20.2 35h-40.4zM1978.4 880.3l20.2 35h-40.4zM1837.3 1036.0l20.2 35h-40.4zM1763.1 974.6l20.2 35h-40.4zM851.0 841.7l20.2 35h-40.4zM2195.7 751.1l20.2 35h-40.4zM1567.4 1042.5l20.2 35h-40.4zM1315.4 1203.0l20.2 35h-40.4zM951.8 1008.3l20.2 35h-40.4zM1542.2 974.2l20.2 35h-40.4zM2096.0 927.6l20.2 35h-40.4zM1813.0 1116.7l20.2 35h-40.4zM444.8 864.4l20.2 35h-40.4zM1925.8 936.4l20.2 35h-40.4zM1568.6 950.9l20.2 35h-40.4zM477.9 567.4l20.2 35h-40.4zM1979.9 937.8l20.2 35h-40.4zM655.4 988.5l20.2 35h-40.4zM980.1 1106.5l20.2 35h-40.4zM409.5 608.0l20.2 35h-40.4zM1704.5 1325.1l20.2 35h-40.4zM864.7 1252.9l20.2 35h-40.4zM1006.8 990.8l20.2 35h-40.4zM1074.9 1015.6l20.2 35h-40.4zM985.6 1191.2l20.2 35h-40.4zM1776.4 882.8l20.2 35h-40.4zM1521.6 1136.3l20.2 35h-40.4zM1125.0 960.6l20.2 35h-40.4zM1772.2 886.9l20.2 35h-40.4zM554.1 764.1l20.2 35h-40.4zM1145.3 1076.5l20.2 35h-40.4zM628.4 981.5l20.2 35h-40.4zM790.3 894.4l20.2 35h-40.4zM1380.6 1353.7l20.2 35h-40.4zM2113.1 785.0l20.2 35h-40.4zM1283.7 1048.5l20.2 35h-40.4zM836.1 1078.3l20.2 35h-40.4zM1850.5 898.4l20.2 35h-40.4zM1643.3 1115.1l20.2 35h-40.4zM1390.6 1082.4l20.2 35h-40.4zM460.0 806.9l20.2 35h-40.4zM829.4 941.2l20.2 35h-40.4zM1873.7 940.1l20.2 35h-40.4zM2219.0 465.7l20.2 35h-40.4zM1166.7 1181.0l20.2 35h-40.4zM1523.9 1067.2l20.2 35h-40.4zM619.5 936.3l20.2 35h-40.4zM813.3 991.9l20.2 35h-40.4zM397.1 773.3l20.2 35h-40.4zM1052.1 1038.8l20.2 35h-40.4zM796.9 1014.1l20.2 35h-40.4zM1697.3 987.6l20.2 35h-40.4zM2252.1 821.3l20.2 35h-40.4zM1978.0 780.2l20.2 35h-40.4zM1928.7 814.4l20.2 35h-40.4zM1791.6 837.3l20.2 35h-40.4zM1993.8 719.4l20.2 35h-40.4zM1332.5 961.3l20.2 35h-40.4zM693.1 1108.2l20.2 35h-40.4zM1445.7 1109.4l20.2 35h-40.4zM1613.9 1280.1l20.2 35h-40.4zM1133.3 1027.2l20.2 35h-40.4zM897.5 875.9l20.2 35h-40.4zM1524.9 966.8l20.2 35h-40.4zM2031.8 776.1l20.2 35h-40.4zM1264.8 946.9l20.2 35h-40.4zM1818.9 1023.0l20.2 35h-40.4zM1442.6 969.4l20.2 35h-40.4zM990.2 1169.1l20.2 35h-40.4zM2154.7 941.9l20.2 35h-40.4zM1268.3 1065.2l20.2 35h-40.4zM1222.7 1056.2l20.2 35h-40.4zM2016.7 942.3l20.2 35h-40.4zM549.1 1113.1l20.2 35h-40.4zM1429.6 1032.0l20.2 35h-40.4zM2042.9 1035.6l20.2 35h-40.4zM1138.8 1142.8l20.2 35h-40.4zM410.0 752.6l20.2 35h-40.4zM573.8 927.5l20.2 35h-40.4zM2098.2 816.8l20.2 35h-40.4zM1843.5 1199.7l20.2 35h-40.4zM1454.4 1133.8l20.2 35h-40.4zM2195.4 603.1l20.2 35h-40.4zM1815.5 1028.1l20.2 35h-40.4zM401.0 543.9l20.2 35h-40.4zM1704.4 994.1l20.2 35h-40.4zM1692.1 919.2l20.2 35h-40.4zM1446.2 1119.6l20.2 35h-40.4zM1700.0 1033.0l20.2 35h-40.4zM1371.4 962.0l20.2 35h-40.4zM2131.3 654.4l20.2 35h-40.4zM1829.0 1022.7l20.2 35h-40.4zM930.7 970.8l20.2 35h-40.4zM496.6 788.6l20.2 35h-40.4zM1077.2 1280.2l20.2 35h-40.4zM1188.7 953.2l20.2 35h-40.4zM1031.4 925.2l20.2 35h-40.4zM1480.7 1026.8l20.2 35h-40.4zM2039.1 808.5l20.2 35h-40.4zM686.4 778.5l20.2 35h-40.4zM1480.2 1119.5l20.2 35h-40.4zM1895.6 885.3l20.2 35h-40.4zM1051.1 1127.2l20.2 35h-40.4zM2180.6 531.5l20.2 35h-40.4zM444.0 499.8l20.2 35h-40.4zM1765.8 978.6l20.2 35h-40.4zM1702.4 966.5l20.2 35h-40.4zM579.8 708.5l20.2 35h-40.4zM815.3 976.0l20.2 35h-40.4zM1007.1 914.2l20.2 35h-40.4zM1878.4 1038.2l20.2 35h-40.4zM525.0 768.2l20.2 35h-40.4zM596.2 648.7l20.2 35h-40.4zM496.2 751.6l20.2 35h-40.4zM496.4 799.2l20.2 35h-40.4zM1111.4 1173.5l20.2 35h-40.4zM1613.8 1075.2l20.2 35h-40.4zM779.4 1197.1l20.2 35h-40.4zM1151.2 1202.6l20.2 35h-40.4zM2198.8 978.1l20.2 35h-40.4zM1009.0 1063.2l20.2 35h-40.4zM1560.3 1031.1l20.2 35h-40.4zM643.7 943.7l20.2 35h-40.4zM1891.3 767.0l20.2 35h-40.4zM1926.8 794.5l20.2 35h-40.4zM1952.7 853.5l20.2 35h-40.4zM1820.7 876.7l20.2 35h-40.4zM1344.5 965.3l20.2 35h-40.4zM1865.3 1238.3l20.2 35h-40.4zM1507.9 1144.4l20.2 35h-40.4zM1982.1 699.3l20.2 35h-40.4zM979.6 960.0l20.2 35h-40.4zM473.2 791.4l20.2 35h-40.4zM1573.7 1045.3l20.2 35h-40.4zM1257.3 969.2l20.2 35h-40.4zM763.5 1100.1l20.2 35h-40.4zM1373.2 1188.0l20.2 35h-40.4zM627.4 912.1l20.2 35h-40.4zM1258.5 966.4l20.2 35h-40.4zM957.0 1104.2l20.2 35h-40.4zM965.5 1121.0l20.2 35h-40.4zM1274.3 1002.9l20.2 35h-40.4zM2112.9 709.4l20.2 35h-40.4zM1771.6 1168.9l20.2 35h-40.4zM1163.1 1262.5l20.2 35h-40.4zM763.1 1007.7l20.2 35h-40.4zM1959.0 1068.2l20.2 35h-40.4zM2242.1 369.9l20.2 35h-40.4zM1277.5 1008.3l20.2 35h-40.4zM1076.0 1066.3l20.2 35h-40.4zM2157.1 784.9l20.2 35h-40.4zM1313.8 1040.3l20.2 35h-40.4zM694.9 1228.9l20.2 35h-40.4zM705.3 1282.9l20.2 35h-40.4zM2095.6 642.3l20.2 35h-40.4zM421.2 619.9l20.2 35h-40.4zM2161.8 747.9l20.2 35h-40.4zM1221.5 1196.3l20.2 35h-40.4zM1614.4 1089.5l20.2 35h-40.4zM1960.7 790.1l20.2 35h-40.4zM996.3 929.0l20.2 35h-40.4zM468.8 594.8l20.2 35h-40.4zM1439.4 1176.5l20.2 35h-40.4zM454.7 734.3l20.2 35h-40.4zM2090.8 908.2l20.2 35h-40.4zM621.0 1010.5l20.2 35h-40.4zM1163.7 989.3l20.2 35h-40.4zM1589.9 929.7l20.2 35h-40.4zM428.0 450.7l20.2 35h-40.4zM711.2 825.7l20.2 35h-40.4zM1854.1 1012.1l20.2 35h-40.4zM592.7 885.3l20.2 35h-40.4zM1505.4 969.0l20.2 35h-40.4zM2119.0 875.9l20.2 35h-40.4zM2078.3 872.6l20.2 35h-40.4zM2014.7 679.2l20.2 35h-40.4zM1932.8 869.6l20.2 35h-40.4zM2165.9 820.3l20.2 35h-40.4zM859.6 858.3l20.2 35h-40.4zM1433.0 1340.9l20.2 35h-40.4zM1581.9 1293.8l20.2 35h-40.4zM1123.1 1039.7l20.2 35h-40.4zM2017.7 988.4l20.2 35h-40.4zM2082.2 598.2l20.2 35h-40.4zM1746.2 1068.4l20.2 35h-40.4zM1853.2 794.8l20.2 35h-40.4zM1239.0 1045.6l20.2 35h-40.4zM1398.7 1303.2l20.2 35h-40.4zM1006.1 900.0l20.2 35h-40.4zM1073.3 1241.8l20.2 35h-40.4zM484.0 593.0l20.2 35h-40.4zM990.4 928.5l20.2 35h-40.4zM1703.3 997.4l20.2 35h-40.4zM371.0 520.7l20.2 35h-40.4zM1554.2 1155.7l20.2 35h-40.4zM883.8 929.8l20.2 35h-40.4zM1204.2 1168.3l20.2 35h-40.4zM870.5 1014.8l20.2 35h-40.4zM963.0 979.7l20.2 35h-40.4zM2258.1 892.6l20.2 35h-40.4zM2220.2 810.0l20.2 35h-40.4zM1596.6 998.2l20.2 35h-40.4zM443.1 821.6l20.2 35h-40.4zM637.6 1085.0l20.2 35h-40.4zM669.8 1100.8l20.2 35h-40.4zM662.5 1057.1l20.2 35h-40.4zM894.1 1079.9l20.2 35h-40.4zM2160.6 569.8l20.2 35h-40.4zM1407.7 1029.0l20.2 35h-40.4zM2136.3 731.2l20.2 35h-40.4zM799.7 906.9l20.2 35h-40.4zM369.4 648.7l20.2 35h-40.4zM1766.1 1081.4l20.2 35h-40.4zM574.1 655.9l20.2 35h-40.4zM1843.6 806.4l20.2 35h-40.4zM576.8 832.9l20.2 35h-40.4zM1309.2 1040.1l20.2 35h-40.4zM2081.3 858.4l20.2 35h-40.4zM1882.7 1025.1l20.2 35h-40.4zM2227.8 659.8l20.2 35h-40.4zM666.3 883.2l20.2 35h-40.4zM2061.5 729.9l20.2 35h-40.4zM421.1 1104.2l20.2 35h-40.4zM404.9 1201.1l20.2 35h-40.4zM496.9 1168.6l20.2 35h-40.4zM542.4 1202.6l20.2 35h-40.4zM369.4 1286.2l20.2 35h-40.4zM923.0 1402.4l20.2 35h-40.4zM1107.6 1452.8l20.2 35h-40.4zM1621.4 1422.5l20.2 35h-40.4zM2005.2 1439.7l20.2 35h-40.4zM1906.0 1310.9l20.2 35h-40.4z" fill="none" stroke="#ff0000" stroke-width="5.9" stroke-miterlimit="10"/>
<g font-family="Liberation Sans, Arial, Helvetica, sans-serif" font-size="85" fill="#262626">
<text x="305.9" y="1648.2" textLength="119.2" lengthAdjust="spacingAndGlyphs">-60</text>
<text x="622.9" y="1648.2" textLength="119.4" lengthAdjust="spacingAndGlyphs">-40</text>
<text x="940.1" y="1648.2" textLength="119.4" lengthAdjust="spacingAndGlyphs">-20</text>
<text x="1294.8" y="1648.2" textLength="44.8" lengthAdjust="spacingAndGlyphs">0</text>
<text x="1587.1" y="1648.2" textLength="93.4" lengthAdjust="spacingAndGlyphs">20</text>
<text x="1905.6" y="1648.2" textLength="93.0" lengthAdjust="spacingAndGlyphs">40</text>
<text x="2221.7" y="1648.2" textLength="92.8" lengthAdjust="spacingAndGlyphs">60</text>
<text x="199.0" y="1465.6" textLength="137.9" lengthAdjust="spacingAndGlyphs">500</text>
<text x="155.4" y="1008.9" textLength="181.5" lengthAdjust="spacingAndGlyphs">1000</text>
<text x="155.8" y="552.2" textLength="181.1" lengthAdjust="spacingAndGlyphs">1500</text>
<text x="152.5" y="95.5" textLength="184.4" lengthAdjust="spacingAndGlyphs">2000</text>
</g>
<text x="950.9" y="1764.4" textLength="732.5" lengthAdjust="spacingAndGlyphs" font-family="Liberation Sans, Arial, Helvetica, sans-serif" font-size="96.0" fill="#262626">Space angle(Deg)</text>
<text transform="rotate(-90)" x="-1256.7" y="114.8" textLength="912.1" lengthAdjust="spacingAndGlyphs" font-family="Liberation Sans, Arial, Helvetica, sans-serif" font-size="96.5" fill="#262626">Distance to radar (Km)</text>
<rect x="1436.5" y="67.5" width="829" height="230" fill="#fff" stroke="#262626" stroke-width="3"/>
<circle cx="1542.7" cy="128.6" r="17.6" fill="none" stroke="#0000ff" stroke-width="5.9"/>
<path d="M1542.7 212.7L1562.9 247.7H1522.5Z" fill="none" stroke="#ff0000" stroke-width="5.9" stroke-miterlimit="10"/>
<g font-family="Liberation Sans, Arial, Helvetica, sans-serif" font-size="87.6" fill="#000">
<text x="1646.7" y="160.3" textLength="544.7" lengthAdjust="spacingAndGlyphs">Visible Objects</text>
<text x="1645.3" y="268.0" textLength="601.7" lengthAdjust="spacingAndGlyphs">Invisible Objects</text>
</g>
</svg></body></html>
